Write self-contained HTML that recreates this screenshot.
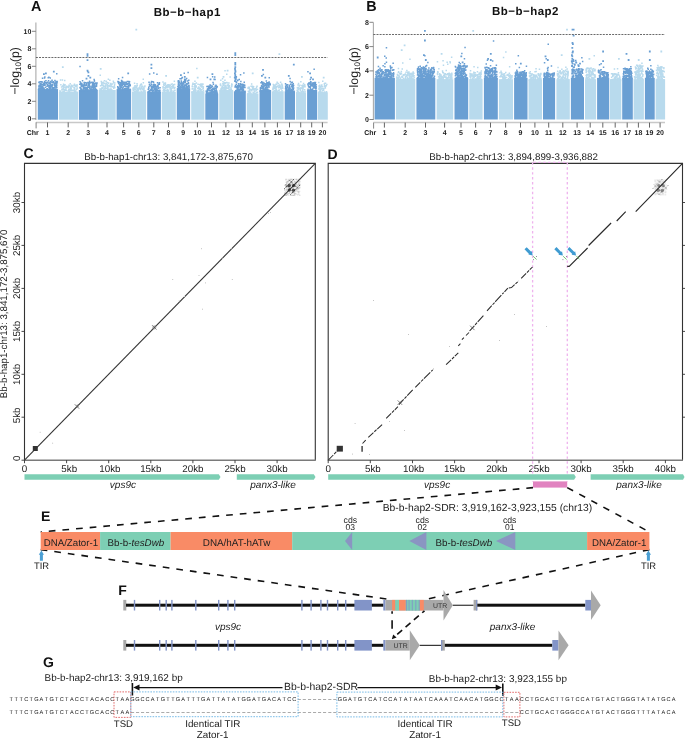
<!DOCTYPE html>
<html><head><meta charset="utf-8"><style>
html,body{margin:0;padding:0;background:#fff;}
svg{display:block;font-family:"Liberation Sans", sans-serif;will-change:transform;text-rendering:geometricPrecision;}
</style></head><body>
<svg width="685" height="739" viewBox="0 0 685 739"><rect x="37.8" y="89.1" width="20.2" height="30.6" fill="#6a9fd3"/><rect x="58.9" y="91.7" width="19.2" height="28" fill="#b8daed"/><rect x="78.9" y="90" width="18.9" height="29.8" fill="#6a9fd3"/><rect x="98.8" y="90" width="16.9" height="29.8" fill="#b8daed"/><rect x="116.6" y="89.1" width="14.5" height="30.6" fill="#6a9fd3"/><rect x="132" y="91.7" width="14.1" height="28" fill="#b8daed"/><rect x="147.2" y="91.7" width="13.7" height="28" fill="#6a9fd3"/><rect x="161.8" y="91.7" width="14" height="28" fill="#b8daed"/><rect x="176.8" y="88.2" width="13.3" height="31.5" fill="#6a9fd3"/><rect x="191.2" y="91.3" width="13.2" height="28.4" fill="#b8daed"/><rect x="205.3" y="93.5" width="12.9" height="26.2" fill="#6a9fd3"/><rect x="219.2" y="90" width="13.9" height="29.8" fill="#b8daed"/><rect x="233.9" y="91.3" width="11.9" height="28.4" fill="#6a9fd3"/><rect x="246.8" y="93.5" width="11.6" height="26.2" fill="#b8daed"/><rect x="259.5" y="90" width="11.6" height="29.8" fill="#6a9fd3"/><rect x="271.8" y="91.3" width="11.9" height="28.4" fill="#b8daed"/><rect x="284.7" y="91.3" width="10.3" height="28.4" fill="#6a9fd3"/><rect x="296" y="92.3" width="10" height="27.4" fill="#b8daed"/><rect x="307.1" y="90" width="10" height="29.8" fill="#6a9fd3"/><rect x="317.8" y="92.3" width="10" height="27.4" fill="#b8daed"/><path fill="#6a9fd3" d="M46.3 85.4h1.5v1.5h-1.5zM55 86.3h1.5v1.5h-1.5zM47.3 85.1h1.5v1.5h-1.5zM41.3 85.8h1.5v1.5h-1.5zM49.6 83h1.5v1.5h-1.5zM39.6 87.7h1.5v1.5h-1.5zM39.6 82.9h1.5v1.5h-1.5zM50.7 89.4h1.5v1.5h-1.5zM56.1 81.2h1.5v1.5h-1.5zM50 84.9h1.5v1.5h-1.5zM40.8 89.5h1.5v1.5h-1.5zM47.7 89.3h1.5v1.5h-1.5zM41.4 88.1h1.5v1.5h-1.5zM38.5 86.3h1.5v1.5h-1.5zM46 82.5h1.5v1.5h-1.5zM47.5 84.6h1.5v1.5h-1.5zM47.1 84.4h1.5v1.5h-1.5zM46.4 87.9h1.5v1.5h-1.5zM56.4 80.8h1.5v1.5h-1.5zM53.4 83.9h1.5v1.5h-1.5zM43.7 88.2h1.5v1.5h-1.5zM43.2 89.2h1.5v1.5h-1.5zM52.1 86.9h1.5v1.5h-1.5zM53.6 87h1.5v1.5h-1.5zM55.6 82.5h1.5v1.5h-1.5zM37.9 88.4h1.5v1.5h-1.5zM54.7 86.2h1.5v1.5h-1.5zM56 86.9h1.5v1.5h-1.5zM39.3 84.7h1.5v1.5h-1.5zM52.3 87.9h1.5v1.5h-1.5zM39.5 87.4h1.5v1.5h-1.5zM55.7 83.4h1.5v1.5h-1.5zM40.1 88.1h1.5v1.5h-1.5zM39.8 89.3h1.5v1.5h-1.5zM52.6 88.6h1.5v1.5h-1.5zM48.2 86.4h1.5v1.5h-1.5zM41.4 83.7h1.5v1.5h-1.5zM40.3 84.6h1.5v1.5h-1.5zM40.1 86.7h1.5v1.5h-1.5zM41.8 87.9h1.5v1.5h-1.5zM55.9 82.9h1.5v1.5h-1.5zM43.5 82h1.5v1.5h-1.5zM41.8 86.9h1.5v1.5h-1.5zM53.7 84.6h1.5v1.5h-1.5zM39.8 80.9h1.5v1.5h-1.5zM41.8 88h1.5v1.5h-1.5zM52.2 87.5h1.5v1.5h-1.5zM43.4 89.2h1.5v1.5h-1.5zM39.6 85.2h1.5v1.5h-1.5zM42.4 85h1.5v1.5h-1.5zM44.8 86.4h1.5v1.5h-1.5zM55.6 86.1h1.5v1.5h-1.5zM48.5 82.2h1.5v1.5h-1.5zM41.3 88.7h1.5v1.5h-1.5zM54.7 82.8h1.5v1.5h-1.5zM42.5 88.5h1.5v1.5h-1.5zM51.6 81.4h1.5v1.5h-1.5zM41.5 81.3h1.5v1.5h-1.5zM54.2 85h1.5v1.5h-1.5zM45.7 89.1h1.5v1.5h-1.5zM38.6 81.2h1.5v1.5h-1.5zM42.3 84h1.5v1.5h-1.5zM42.7 82.7h1.5v1.5h-1.5zM48.9 87.7h1.5v1.5h-1.5zM41.1 83.8h1.5v1.5h-1.5zM39.2 88.2h1.5v1.5h-1.5zM48.2 82.4h1.5v1.5h-1.5zM49.3 87.8h1.5v1.5h-1.5zM54.9 88.4h1.5v1.5h-1.5zM38.2 87.9h1.5v1.5h-1.5zM46.1 89.3h1.5v1.5h-1.5zM41.2 87.1h1.5v1.5h-1.5zM48.5 88.9h1.5v1.5h-1.5zM44.6 82h1.5v1.5h-1.5zM56 84.4h1.5v1.5h-1.5zM50.7 85.2h1.5v1.5h-1.5zM40.5 89.4h1.5v1.5h-1.5zM38.2 81.8h1.5v1.5h-1.5zM50.9 81.2h1.5v1.5h-1.5zM38.3 84.7h1.5v1.5h-1.5zM46.8 83.7h1.5v1.5h-1.5zM43.8 80.8h1.5v1.5h-1.5zM39.3 85.5h1.5v1.5h-1.5zM51.5 81.9h1.5v1.5h-1.5zM51.5 84h1.5v1.5h-1.5zM52.6 81.7h1.5v1.5h-1.5zM44.4 84.2h1.5v1.5h-1.5zM54.6 82.2h1.5v1.5h-1.5zM45.6 83.1h1.5v1.5h-1.5zM53.9 85.3h1.5v1.5h-1.5zM49.5 87h1.5v1.5h-1.5zM48.7 84.9h1.5v1.5h-1.5zM39.4 84.6h1.5v1.5h-1.5zM56.3 82.1h1.5v1.5h-1.5zM51.4 87h1.5v1.5h-1.5zM51.5 85.2h1.5v1.5h-1.5zM46 82.6h1.5v1.5h-1.5zM39.4 83.5h1.5v1.5h-1.5zM38.5 85h1.5v1.5h-1.5zM46.8 88.2h1.5v1.5h-1.5zM50.8 86h1.5v1.5h-1.5zM49.3 81.7h1.5v1.5h-1.5zM42.6 89.5h1.5v1.5h-1.5zM43.5 84.2h1.5v1.5h-1.5zM41.6 88.6h1.5v1.5h-1.5zM54.7 84.4h1.5v1.5h-1.5zM46.1 82h1.5v1.5h-1.5zM43.9 84.4h1.5v1.5h-1.5zM41.6 86.6h1.5v1.5h-1.5zM52.8 81.7h1.5v1.5h-1.5zM54.2 87h1.5v1.5h-1.5zM48.7 87.6h1.5v1.5h-1.5zM40.4 86h1.5v1.5h-1.5zM53.4 82.4h1.5v1.5h-1.5zM51.1 81.3h1.5v1.5h-1.5zM43 88.6h1.5v1.5h-1.5zM46.2 87.9h1.5v1.5h-1.5zM41.9 86.7h1.5v1.5h-1.5zM49.5 86h1.5v1.5h-1.5zM43.7 82.5h1.5v1.5h-1.5zM56.1 86.4h1.5v1.5h-1.5zM39.3 89.4h1.5v1.5h-1.5zM54 89.4h1.5v1.5h-1.5zM51 85.3h1.5v1.5h-1.5zM43.6 83.1h1.5v1.5h-1.5zM38.3 88.9h1.5v1.5h-1.5zM46.3 89.4h1.5v1.5h-1.5zM53.2 88.2h1.5v1.5h-1.5zM40.5 89.3h1.5v1.5h-1.5zM49.5 86.4h1.5v1.5h-1.5zM49.6 84.5h1.5v1.5h-1.5zM52.8 81.2h1.5v1.5h-1.5zM50.6 88.4h1.5v1.5h-1.5zM46.7 88.6h1.5v1.5h-1.5zM38.1 86.2h1.5v1.5h-1.5zM51.1 88.6h1.5v1.5h-1.5zM42.9 87.3h1.5v1.5h-1.5zM50.8 85.8h1.5v1.5h-1.5zM49.3 83.4h1.5v1.5h-1.5zM45.2 79.9h1.5v1.5h-1.5zM54.7 84.4h1.5v1.5h-1.5zM55.2 80.8h1.5v1.5h-1.5zM40.3 82.8h1.5v1.5h-1.5zM49.5 77.3h1.5v1.5h-1.5zM44.9 82.1h1.5v1.5h-1.5zM54.2 79.8h1.5v1.5h-1.5zM55.4 82.8h1.5v1.5h-1.5zM49.9 84h1.5v1.5h-1.5zM51.3 79.5h1.5v1.5h-1.5zM49.8 80.8h1.5v1.5h-1.5zM41.8 77.6h1.5v1.5h-1.5zM56 73.1h1.5v1.5h-1.5zM47.8 79.9h1.5v1.5h-1.5zM43.8 77.3h1.5v1.5h-1.5zM53.7 83.4h1.5v1.5h-1.5zM39.4 82.9h1.5v1.5h-1.5zM48.1 76.5h1.5v1.5h-1.5zM46.9 81.5h1.5v1.5h-1.5zM52.9 81.4h1.5v1.5h-1.5zM52.7 81h1.5v1.5h-1.5zM44.1 76.2h1.5v1.5h-1.5zM40.5 81.1h1.5v1.5h-1.5zM47.5 77.1h1.5v1.5h-1.5zM85.8 82.8h1.5v1.5h-1.5zM92 90.2h1.5v1.5h-1.5zM96.1 82.3h1.5v1.5h-1.5zM80.4 82.7h1.5v1.5h-1.5zM86.5 87h1.5v1.5h-1.5zM95.8 89h1.5v1.5h-1.5zM88.1 82.3h1.5v1.5h-1.5zM91.5 87.1h1.5v1.5h-1.5zM95.9 83.7h1.5v1.5h-1.5zM89.5 89.9h1.5v1.5h-1.5zM89.8 87.2h1.5v1.5h-1.5zM82.6 90.2h1.5v1.5h-1.5zM88.2 89.8h1.5v1.5h-1.5zM86.7 85.2h1.5v1.5h-1.5zM86.9 88.9h1.5v1.5h-1.5zM89.1 87.6h1.5v1.5h-1.5zM92.5 86.5h1.5v1.5h-1.5zM96.3 82.2h1.5v1.5h-1.5zM91.7 89h1.5v1.5h-1.5zM81.1 82.8h1.5v1.5h-1.5zM92.6 85.6h1.5v1.5h-1.5zM85.3 88.8h1.5v1.5h-1.5zM90.9 86.2h1.5v1.5h-1.5zM89.3 85.6h1.5v1.5h-1.5zM92.1 89.4h1.5v1.5h-1.5zM83.4 81.9h1.5v1.5h-1.5zM94.9 83h1.5v1.5h-1.5zM79.8 90.2h1.5v1.5h-1.5zM83.8 87.5h1.5v1.5h-1.5zM89.8 89.9h1.5v1.5h-1.5zM88.4 90.1h1.5v1.5h-1.5zM80.6 85.1h1.5v1.5h-1.5zM88.6 85.6h1.5v1.5h-1.5zM85.5 87h1.5v1.5h-1.5zM82.7 88.2h1.5v1.5h-1.5zM91.9 83.4h1.5v1.5h-1.5zM80.4 89.8h1.5v1.5h-1.5zM93 85.7h1.5v1.5h-1.5zM92.3 89.2h1.5v1.5h-1.5zM86.4 88.9h1.5v1.5h-1.5zM93 88h1.5v1.5h-1.5zM90.3 81.8h1.5v1.5h-1.5zM84.7 86.4h1.5v1.5h-1.5zM91.9 82.5h1.5v1.5h-1.5zM86.5 88h1.5v1.5h-1.5zM80.8 83h1.5v1.5h-1.5zM80.5 90h1.5v1.5h-1.5zM88.8 87h1.5v1.5h-1.5zM90.9 88.6h1.5v1.5h-1.5zM92.4 90.1h1.5v1.5h-1.5zM82.8 85.3h1.5v1.5h-1.5zM80.5 88.5h1.5v1.5h-1.5zM91.6 84.9h1.5v1.5h-1.5zM84 89.7h1.5v1.5h-1.5zM85.3 84.6h1.5v1.5h-1.5zM85.4 89.8h1.5v1.5h-1.5zM91.3 86.2h1.5v1.5h-1.5zM94.9 82.3h1.5v1.5h-1.5zM94.8 87.4h1.5v1.5h-1.5zM92.9 88.5h1.5v1.5h-1.5zM84.6 87.7h1.5v1.5h-1.5zM95.2 82.8h1.5v1.5h-1.5zM83.4 88.1h1.5v1.5h-1.5zM85.4 88h1.5v1.5h-1.5zM85.9 87.8h1.5v1.5h-1.5zM82.5 86.2h1.5v1.5h-1.5zM92.8 86.5h1.5v1.5h-1.5zM93.5 86.2h1.5v1.5h-1.5zM82.1 84.3h1.5v1.5h-1.5zM94.3 88.7h1.5v1.5h-1.5zM79.5 86.7h1.5v1.5h-1.5zM88.5 86.2h1.5v1.5h-1.5zM95.7 85.4h1.5v1.5h-1.5zM92.9 90.1h1.5v1.5h-1.5zM88.5 84h1.5v1.5h-1.5zM80.5 90.1h1.5v1.5h-1.5zM91.8 82.8h1.5v1.5h-1.5zM80.6 85.5h1.5v1.5h-1.5zM81.6 84.4h1.5v1.5h-1.5zM90.3 89h1.5v1.5h-1.5zM82.9 84.2h1.5v1.5h-1.5zM88.1 84.2h1.5v1.5h-1.5zM85.9 88.3h1.5v1.5h-1.5zM95.8 85.2h1.5v1.5h-1.5zM87.6 86.5h1.5v1.5h-1.5zM91.5 84.8h1.5v1.5h-1.5zM94.8 87.6h1.5v1.5h-1.5zM93.3 85.2h1.5v1.5h-1.5zM93.8 83.8h1.5v1.5h-1.5zM93.4 82.9h1.5v1.5h-1.5zM95.6 85.5h1.5v1.5h-1.5zM88.1 84.8h1.5v1.5h-1.5zM92.9 87.5h1.5v1.5h-1.5zM86.3 89.7h1.5v1.5h-1.5zM91.8 81.7h1.5v1.5h-1.5zM85.6 89.5h1.5v1.5h-1.5zM82.6 87.5h1.5v1.5h-1.5zM84.1 82h1.5v1.5h-1.5zM80.1 88.5h1.5v1.5h-1.5zM81.1 85.4h1.5v1.5h-1.5zM92.4 89.4h1.5v1.5h-1.5zM80.2 87.2h1.5v1.5h-1.5zM89.1 82.7h1.5v1.5h-1.5zM79.7 89.9h1.5v1.5h-1.5zM82.3 89.2h1.5v1.5h-1.5zM83.1 84.7h1.5v1.5h-1.5zM89.3 89.1h1.5v1.5h-1.5zM82.3 88.7h1.5v1.5h-1.5zM82.1 84.3h1.5v1.5h-1.5zM84.5 86.4h1.5v1.5h-1.5zM93.2 87h1.5v1.5h-1.5zM83.6 82.9h1.5v1.5h-1.5zM94.8 88.2h1.5v1.5h-1.5zM88.5 82.1h1.5v1.5h-1.5zM87.4 89.2h1.5v1.5h-1.5zM80 82.2h1.5v1.5h-1.5zM92.9 87.9h1.5v1.5h-1.5zM88.2 86.7h1.5v1.5h-1.5zM83.8 81.7h1.5v1.5h-1.5zM90.4 89h1.5v1.5h-1.5zM79.3 87.1h1.5v1.5h-1.5zM85.5 83.9h1.5v1.5h-1.5zM91.4 85.8h1.5v1.5h-1.5zM81.8 89.6h1.5v1.5h-1.5zM84.6 88.9h1.5v1.5h-1.5zM94.1 86.7h1.5v1.5h-1.5zM90.1 81.7h1.5v1.5h-1.5zM83.7 86.5h1.5v1.5h-1.5zM81.7 84.2h1.5v1.5h-1.5zM79.1 83.6h1.5v1.5h-1.5zM93.7 80.3h1.5v1.5h-1.5zM80.5 84.6h1.5v1.5h-1.5zM91.4 85.3h1.5v1.5h-1.5zM87.4 83.6h1.5v1.5h-1.5zM95.5 82.9h1.5v1.5h-1.5zM93.8 84.5h1.5v1.5h-1.5zM92.7 83.9h1.5v1.5h-1.5zM94.9 85.3h1.5v1.5h-1.5zM93.3 84.9h1.5v1.5h-1.5zM88.4 83.3h1.5v1.5h-1.5zM81.8 80.1h1.5v1.5h-1.5zM84.5 84.4h1.5v1.5h-1.5zM80.4 84.5h1.5v1.5h-1.5zM87.1 81.7h1.5v1.5h-1.5zM85.3 82h1.5v1.5h-1.5zM80.9 84h1.5v1.5h-1.5zM87 70.6h1.5v1.5h-1.5zM93.4 78.8h1.5v1.5h-1.5zM79.3 80.9h1.5v1.5h-1.5zM91.3 81.6h1.5v1.5h-1.5zM88.8 80.4h1.5v1.5h-1.5zM79.3 65.8h1.5v1.5h-1.5zM92.9 81.7h1.5v1.5h-1.5zM128.8 81h1.5v1.5h-1.5zM122.8 88.4h1.5v1.5h-1.5zM120.6 81.6h1.5v1.5h-1.5zM128.3 88.5h1.5v1.5h-1.5zM127.5 87.2h1.5v1.5h-1.5zM122.8 88.6h1.5v1.5h-1.5zM128.1 80.8h1.5v1.5h-1.5zM119.4 84.7h1.5v1.5h-1.5zM119.3 82.1h1.5v1.5h-1.5zM117.4 89h1.5v1.5h-1.5zM126.1 87.6h1.5v1.5h-1.5zM128.3 82.2h1.5v1.5h-1.5zM125.9 88.9h1.5v1.5h-1.5zM125.7 81.5h1.5v1.5h-1.5zM122.5 89.2h1.5v1.5h-1.5zM119.7 87.6h1.5v1.5h-1.5zM125.9 88.5h1.5v1.5h-1.5zM119.1 88.2h1.5v1.5h-1.5zM125.3 83.1h1.5v1.5h-1.5zM121.6 84.4h1.5v1.5h-1.5zM128.1 85.1h1.5v1.5h-1.5zM119.7 87.7h1.5v1.5h-1.5zM128.7 84.3h1.5v1.5h-1.5zM120.3 84.6h1.5v1.5h-1.5zM118 81h1.5v1.5h-1.5zM122.4 85.7h1.5v1.5h-1.5zM123.6 89.4h1.5v1.5h-1.5zM124.5 87.8h1.5v1.5h-1.5zM120 82.9h1.5v1.5h-1.5zM117.9 87.8h1.5v1.5h-1.5zM126.5 88.1h1.5v1.5h-1.5zM120.4 85.5h1.5v1.5h-1.5zM119.2 81.9h1.5v1.5h-1.5zM129.4 89.4h1.5v1.5h-1.5zM122.7 83.5h1.5v1.5h-1.5zM121.7 81.6h1.5v1.5h-1.5zM123.2 88.6h1.5v1.5h-1.5zM123.9 84.6h1.5v1.5h-1.5zM121.4 84.4h1.5v1.5h-1.5zM126.8 85.8h1.5v1.5h-1.5zM123.3 82.5h1.5v1.5h-1.5zM125.6 85.8h1.5v1.5h-1.5zM129 88.6h1.5v1.5h-1.5zM126.8 88.7h1.5v1.5h-1.5zM124.6 88.2h1.5v1.5h-1.5zM122.4 83.3h1.5v1.5h-1.5zM126.9 83.1h1.5v1.5h-1.5zM119.8 86.1h1.5v1.5h-1.5zM119.6 85.2h1.5v1.5h-1.5zM123.2 89.4h1.5v1.5h-1.5zM124.4 83.9h1.5v1.5h-1.5zM124.1 82.2h1.5v1.5h-1.5zM119.1 88.8h1.5v1.5h-1.5zM117 86h1.5v1.5h-1.5zM122.4 86.5h1.5v1.5h-1.5zM120.2 83h1.5v1.5h-1.5zM117.7 81.8h1.5v1.5h-1.5zM124.1 85.6h1.5v1.5h-1.5zM126.9 88.2h1.5v1.5h-1.5zM118.7 87.6h1.5v1.5h-1.5zM117.3 87.6h1.5v1.5h-1.5zM124.8 85.7h1.5v1.5h-1.5zM120.2 85.1h1.5v1.5h-1.5zM117.9 82.7h1.5v1.5h-1.5zM119 88h1.5v1.5h-1.5zM118.8 84.1h1.5v1.5h-1.5zM127.4 83.1h1.5v1.5h-1.5zM117.6 86.8h1.5v1.5h-1.5zM121.5 88.3h1.5v1.5h-1.5zM129.2 89.4h1.5v1.5h-1.5zM123.1 83.4h1.5v1.5h-1.5zM129.4 88.8h1.5v1.5h-1.5zM122.6 83.5h1.5v1.5h-1.5zM117.3 88.1h1.5v1.5h-1.5zM128.2 88.8h1.5v1.5h-1.5zM121.8 87.7h1.5v1.5h-1.5zM122.2 89.2h1.5v1.5h-1.5zM117.2 80.8h1.5v1.5h-1.5zM126.6 83.7h1.5v1.5h-1.5zM119.7 88h1.5v1.5h-1.5zM123.9 88.1h1.5v1.5h-1.5zM122.7 81.5h1.5v1.5h-1.5zM121.5 87.4h1.5v1.5h-1.5zM129.4 84.9h1.5v1.5h-1.5zM117.3 86.8h1.5v1.5h-1.5zM125.1 89.3h1.5v1.5h-1.5zM121.2 84.1h1.5v1.5h-1.5zM127.9 85.1h1.5v1.5h-1.5zM128.1 86.3h1.5v1.5h-1.5zM121.8 82.5h1.5v1.5h-1.5zM121.7 83.2h1.5v1.5h-1.5zM119.6 87.3h1.5v1.5h-1.5zM119.2 85.5h1.5v1.5h-1.5zM118.9 88.4h1.5v1.5h-1.5zM119.5 86.3h1.5v1.5h-1.5zM120.7 86.4h1.5v1.5h-1.5zM129.5 84.2h1.5v1.5h-1.5zM127.8 88.4h1.5v1.5h-1.5zM121.7 89.2h1.5v1.5h-1.5zM125.6 83.3h1.5v1.5h-1.5zM120.3 84.6h1.5v1.5h-1.5zM119.1 83.8h1.5v1.5h-1.5zM121.8 76.8h1.5v1.5h-1.5zM126 83.7h1.5v1.5h-1.5zM121.4 84.2h1.5v1.5h-1.5zM128.8 83.3h1.5v1.5h-1.5zM126.6 80.8h1.5v1.5h-1.5zM128.4 84.6h1.5v1.5h-1.5zM120.9 83.2h1.5v1.5h-1.5zM117.9 78.1h1.5v1.5h-1.5zM121 80.2h1.5v1.5h-1.5zM123.4 81.4h1.5v1.5h-1.5zM121.8 80.7h1.5v1.5h-1.5zM117.3 81.1h1.5v1.5h-1.5zM124.4 81.5h1.5v1.5h-1.5zM120.8 79.7h1.5v1.5h-1.5zM149.6 92.1h1.5v1.5h-1.5zM154.4 84.1h1.5v1.5h-1.5zM159 91.5h1.5v1.5h-1.5zM155.7 89.3h1.5v1.5h-1.5zM155 89.5h1.5v1.5h-1.5zM158.6 83.5h1.5v1.5h-1.5zM148 86.5h1.5v1.5h-1.5zM148.8 92h1.5v1.5h-1.5zM150.8 86.3h1.5v1.5h-1.5zM159.3 91.6h1.5v1.5h-1.5zM151.4 92.1h1.5v1.5h-1.5zM153.9 88.7h1.5v1.5h-1.5zM151.9 90.2h1.5v1.5h-1.5zM157 85.2h1.5v1.5h-1.5zM150.8 89.6h1.5v1.5h-1.5zM154.8 86h1.5v1.5h-1.5zM159.2 89.6h1.5v1.5h-1.5zM155.7 88.2h1.5v1.5h-1.5zM157 91.4h1.5v1.5h-1.5zM149.5 91.7h1.5v1.5h-1.5zM158.6 90.7h1.5v1.5h-1.5zM153.3 91.6h1.5v1.5h-1.5zM151.3 92.1h1.5v1.5h-1.5zM154.2 91.4h1.5v1.5h-1.5zM154.9 90.5h1.5v1.5h-1.5zM150.1 88.7h1.5v1.5h-1.5zM151.8 90.6h1.5v1.5h-1.5zM148 91.9h1.5v1.5h-1.5zM158.1 90.2h1.5v1.5h-1.5zM148.3 91.2h1.5v1.5h-1.5zM153.2 83.4h1.5v1.5h-1.5zM149.8 84.9h1.5v1.5h-1.5zM153.2 89.4h1.5v1.5h-1.5zM157.1 89.5h1.5v1.5h-1.5zM148.1 88.1h1.5v1.5h-1.5zM155.3 87.4h1.5v1.5h-1.5zM150.7 84.1h1.5v1.5h-1.5zM157.8 83.5h1.5v1.5h-1.5zM152.7 85.2h1.5v1.5h-1.5zM156.1 91.2h1.5v1.5h-1.5zM147.7 91.3h1.5v1.5h-1.5zM148.8 91.8h1.5v1.5h-1.5zM151.7 86.1h1.5v1.5h-1.5zM151.1 88.5h1.5v1.5h-1.5zM147.5 91h1.5v1.5h-1.5zM158.9 92.1h1.5v1.5h-1.5zM153.7 85.5h1.5v1.5h-1.5zM156.9 86.3h1.5v1.5h-1.5zM152.2 85.6h1.5v1.5h-1.5zM157.3 85.9h1.5v1.5h-1.5zM159.2 91.7h1.5v1.5h-1.5zM158.8 89.5h1.5v1.5h-1.5zM155.9 90.7h1.5v1.5h-1.5zM158.3 92.1h1.5v1.5h-1.5zM154.3 90.9h1.5v1.5h-1.5zM152.1 89.7h1.5v1.5h-1.5zM155.3 85.5h1.5v1.5h-1.5zM151.8 87.3h1.5v1.5h-1.5zM151.6 90.5h1.5v1.5h-1.5zM158.3 90.1h1.5v1.5h-1.5zM148.5 90h1.5v1.5h-1.5zM156.3 91h1.5v1.5h-1.5zM156.3 88.2h1.5v1.5h-1.5zM155.6 91.2h1.5v1.5h-1.5zM148.7 91.4h1.5v1.5h-1.5zM151.6 89.2h1.5v1.5h-1.5zM147.5 88.6h1.5v1.5h-1.5zM152.2 90.1h1.5v1.5h-1.5zM153.8 83.9h1.5v1.5h-1.5zM149.9 84.7h1.5v1.5h-1.5zM151.3 86.1h1.5v1.5h-1.5zM148.7 83.5h1.5v1.5h-1.5zM152.6 83.8h1.5v1.5h-1.5zM150 89.4h1.5v1.5h-1.5zM155.9 91.2h1.5v1.5h-1.5zM150.7 86.9h1.5v1.5h-1.5zM158.8 90.1h1.5v1.5h-1.5zM149.6 89.8h1.5v1.5h-1.5zM159.3 91.4h1.5v1.5h-1.5zM155 89.7h1.5v1.5h-1.5zM155.1 91h1.5v1.5h-1.5zM154.8 84.6h1.5v1.5h-1.5zM157.7 87.4h1.5v1.5h-1.5zM153.5 87.9h1.5v1.5h-1.5zM148.8 85.2h1.5v1.5h-1.5zM155.7 89h1.5v1.5h-1.5zM155.4 89.3h1.5v1.5h-1.5zM152 90.8h1.5v1.5h-1.5zM154.6 87.9h1.5v1.5h-1.5zM153.6 92h1.5v1.5h-1.5zM154.9 89.1h1.5v1.5h-1.5zM154.5 87.7h1.5v1.5h-1.5zM158.6 91.4h1.5v1.5h-1.5zM153 72.2h1.5v1.5h-1.5zM156.3 86.2h1.5v1.5h-1.5zM156.2 73.4h1.5v1.5h-1.5zM152.2 81.1h1.5v1.5h-1.5zM148.9 73.2h1.5v1.5h-1.5zM153.3 86.5h1.5v1.5h-1.5zM157.5 84.1h1.5v1.5h-1.5zM158.7 81.9h1.5v1.5h-1.5zM157 85.1h1.5v1.5h-1.5zM159.3 87.1h1.5v1.5h-1.5zM157.8 83.5h1.5v1.5h-1.5zM150.4 82.3h1.5v1.5h-1.5zM152.8 81.6h1.5v1.5h-1.5zM157.8 83.5h1.5v1.5h-1.5zM150.8 80.7h1.5v1.5h-1.5zM148.3 81.4h1.5v1.5h-1.5zM156.8 81.9h1.5v1.5h-1.5zM183.5 85.5h1.5v1.5h-1.5zM186.9 88.2h1.5v1.5h-1.5zM186.9 87.9h1.5v1.5h-1.5zM188.3 84.9h1.5v1.5h-1.5zM181.7 84h1.5v1.5h-1.5zM187 80.3h1.5v1.5h-1.5zM181.8 88.6h1.5v1.5h-1.5zM178.8 81.9h1.5v1.5h-1.5zM185.5 83h1.5v1.5h-1.5zM178.8 84.8h1.5v1.5h-1.5zM177.3 88.1h1.5v1.5h-1.5zM180.5 80.3h1.5v1.5h-1.5zM184.5 81.6h1.5v1.5h-1.5zM177.5 85.8h1.5v1.5h-1.5zM177.9 87.1h1.5v1.5h-1.5zM178.3 80.8h1.5v1.5h-1.5zM180.8 85.2h1.5v1.5h-1.5zM184.6 81.2h1.5v1.5h-1.5zM188 84.4h1.5v1.5h-1.5zM182.8 81h1.5v1.5h-1.5zM181.6 86.8h1.5v1.5h-1.5zM185.6 87.1h1.5v1.5h-1.5zM181.3 85.7h1.5v1.5h-1.5zM182.5 86.3h1.5v1.5h-1.5zM182 85.5h1.5v1.5h-1.5zM177.6 81.7h1.5v1.5h-1.5zM177.7 84.8h1.5v1.5h-1.5zM183.4 86h1.5v1.5h-1.5zM179.6 88.2h1.5v1.5h-1.5zM181.3 86.7h1.5v1.5h-1.5zM182.6 87.3h1.5v1.5h-1.5zM185.7 85.2h1.5v1.5h-1.5zM177.1 85.9h1.5v1.5h-1.5zM188.2 88.6h1.5v1.5h-1.5zM183.9 80.3h1.5v1.5h-1.5zM181.2 84.2h1.5v1.5h-1.5zM181.3 86.8h1.5v1.5h-1.5zM184.1 84.2h1.5v1.5h-1.5zM180.7 85.1h1.5v1.5h-1.5zM183 82.6h1.5v1.5h-1.5zM177.6 88.2h1.5v1.5h-1.5zM179.9 87h1.5v1.5h-1.5zM186.2 85.8h1.5v1.5h-1.5zM187 86h1.5v1.5h-1.5zM180.3 83.3h1.5v1.5h-1.5zM178 80.1h1.5v1.5h-1.5zM186.6 86.6h1.5v1.5h-1.5zM180.7 81.9h1.5v1.5h-1.5zM186.1 83.7h1.5v1.5h-1.5zM177.7 82.5h1.5v1.5h-1.5zM177.6 83.9h1.5v1.5h-1.5zM183.4 80.7h1.5v1.5h-1.5zM184.4 88.6h1.5v1.5h-1.5zM187.8 82.6h1.5v1.5h-1.5zM183.7 88.6h1.5v1.5h-1.5zM185.5 85.8h1.5v1.5h-1.5zM184.9 80.1h1.5v1.5h-1.5zM187.6 88.3h1.5v1.5h-1.5zM186.1 85.6h1.5v1.5h-1.5zM185.7 86.2h1.5v1.5h-1.5zM182.2 85.7h1.5v1.5h-1.5zM178.4 86.6h1.5v1.5h-1.5zM185.5 88.4h1.5v1.5h-1.5zM178.3 81.7h1.5v1.5h-1.5zM184.7 84.6h1.5v1.5h-1.5zM178.3 88.1h1.5v1.5h-1.5zM180.6 80.4h1.5v1.5h-1.5zM183.5 80.8h1.5v1.5h-1.5zM179.4 85.8h1.5v1.5h-1.5zM183.2 81.7h1.5v1.5h-1.5zM178.4 81.3h1.5v1.5h-1.5zM182.5 88.5h1.5v1.5h-1.5zM182 86.2h1.5v1.5h-1.5zM184.8 80.7h1.5v1.5h-1.5zM182.7 83.2h1.5v1.5h-1.5zM181.5 82.3h1.5v1.5h-1.5zM178.2 82.7h1.5v1.5h-1.5zM178.9 84.3h1.5v1.5h-1.5zM179.3 86.4h1.5v1.5h-1.5zM178.9 86.4h1.5v1.5h-1.5zM183.9 84.9h1.5v1.5h-1.5zM181.5 84.4h1.5v1.5h-1.5zM186.8 86.3h1.5v1.5h-1.5zM183.8 85.3h1.5v1.5h-1.5zM188.4 86.6h1.5v1.5h-1.5zM185.1 87.3h1.5v1.5h-1.5zM180 82.8h1.5v1.5h-1.5zM183.7 87.1h1.5v1.5h-1.5zM177.7 81.8h1.5v1.5h-1.5zM181.4 83h1.5v1.5h-1.5zM182 84h1.5v1.5h-1.5zM183.5 72.4h1.5v1.5h-1.5zM187.6 82h1.5v1.5h-1.5zM182.6 83h1.5v1.5h-1.5zM185.7 83.5h1.5v1.5h-1.5zM180.6 78.1h1.5v1.5h-1.5zM177.4 80.2h1.5v1.5h-1.5zM183.6 81.4h1.5v1.5h-1.5zM180.9 83.3h1.5v1.5h-1.5zM188 79.4h1.5v1.5h-1.5zM186.3 83.5h1.5v1.5h-1.5zM186.1 83.1h1.5v1.5h-1.5zM179.3 78.1h1.5v1.5h-1.5zM184.1 80.3h1.5v1.5h-1.5zM185.9 77.7h1.5v1.5h-1.5zM187.4 71.7h1.5v1.5h-1.5zM185 79.2h1.5v1.5h-1.5zM215.7 85.2h1.5v1.5h-1.5zM209.8 93.2h1.5v1.5h-1.5zM214.3 87.5h1.5v1.5h-1.5zM209.3 87.4h1.5v1.5h-1.5zM209.8 92.2h1.5v1.5h-1.5zM212.1 88h1.5v1.5h-1.5zM210.8 87.1h1.5v1.5h-1.5zM205.7 90.3h1.5v1.5h-1.5zM209.8 93.6h1.5v1.5h-1.5zM215.7 93.2h1.5v1.5h-1.5zM207.8 86.5h1.5v1.5h-1.5zM216.3 85.9h1.5v1.5h-1.5zM209.3 85.9h1.5v1.5h-1.5zM207.1 88.2h1.5v1.5h-1.5zM216.1 92.9h1.5v1.5h-1.5zM207 88.6h1.5v1.5h-1.5zM215.4 88.1h1.5v1.5h-1.5zM216.1 90.8h1.5v1.5h-1.5zM209.7 93.3h1.5v1.5h-1.5zM208.6 85.8h1.5v1.5h-1.5zM206.3 92.9h1.5v1.5h-1.5zM209.4 93.7h1.5v1.5h-1.5zM208.9 92.9h1.5v1.5h-1.5zM206.9 90.1h1.5v1.5h-1.5zM211.6 89.7h1.5v1.5h-1.5zM214 90.1h1.5v1.5h-1.5zM216.1 93.6h1.5v1.5h-1.5zM208 93.6h1.5v1.5h-1.5zM209 87.8h1.5v1.5h-1.5zM215.9 90.3h1.5v1.5h-1.5zM207.3 91.8h1.5v1.5h-1.5zM211.9 92.1h1.5v1.5h-1.5zM214.4 85.4h1.5v1.5h-1.5zM210.6 89.4h1.5v1.5h-1.5zM215 90.7h1.5v1.5h-1.5zM207.6 85.8h1.5v1.5h-1.5zM216.5 93.8h1.5v1.5h-1.5zM214 91.2h1.5v1.5h-1.5zM206.1 93.1h1.5v1.5h-1.5zM207.4 88h1.5v1.5h-1.5zM207.9 93.8h1.5v1.5h-1.5zM208 87.3h1.5v1.5h-1.5zM211.1 88.9h1.5v1.5h-1.5zM210.7 92.9h1.5v1.5h-1.5zM205.7 92h1.5v1.5h-1.5zM206 92.4h1.5v1.5h-1.5zM212.4 91.5h1.5v1.5h-1.5zM210.8 89.1h1.5v1.5h-1.5zM209.1 91.6h1.5v1.5h-1.5zM215.4 89.6h1.5v1.5h-1.5zM210.2 90h1.5v1.5h-1.5zM210.7 91.8h1.5v1.5h-1.5zM215.7 92.6h1.5v1.5h-1.5zM216 86.8h1.5v1.5h-1.5zM215.4 93.1h1.5v1.5h-1.5zM211.2 85.3h1.5v1.5h-1.5zM208.7 93h1.5v1.5h-1.5zM213.6 92.6h1.5v1.5h-1.5zM212 93.1h1.5v1.5h-1.5zM216.1 92.2h1.5v1.5h-1.5zM206.6 88.5h1.5v1.5h-1.5zM209.4 89.8h1.5v1.5h-1.5zM211.1 86h1.5v1.5h-1.5zM211.3 91.4h1.5v1.5h-1.5zM205.5 90.4h1.5v1.5h-1.5zM208.5 89.6h1.5v1.5h-1.5zM212.6 90.7h1.5v1.5h-1.5zM206.5 90.4h1.5v1.5h-1.5zM210.9 89h1.5v1.5h-1.5zM216.4 92.2h1.5v1.5h-1.5zM210.5 93.5h1.5v1.5h-1.5zM214.5 92.6h1.5v1.5h-1.5zM214.8 87.4h1.5v1.5h-1.5zM208.4 86.2h1.5v1.5h-1.5zM211.1 91h1.5v1.5h-1.5zM211.7 85.7h1.5v1.5h-1.5zM211 90.5h1.5v1.5h-1.5zM208.8 86.9h1.5v1.5h-1.5zM211.1 91.7h1.5v1.5h-1.5zM207.7 92.7h1.5v1.5h-1.5zM214.8 87.3h1.5v1.5h-1.5zM216.5 86.1h1.5v1.5h-1.5zM213.2 87.4h1.5v1.5h-1.5zM213.5 87.2h1.5v1.5h-1.5zM214.5 93h1.5v1.5h-1.5zM214.6 92h1.5v1.5h-1.5zM208.2 86h1.5v1.5h-1.5zM205.8 90.2h1.5v1.5h-1.5zM209.3 84.3h1.5v1.5h-1.5zM212.3 81.7h1.5v1.5h-1.5zM215.9 85.9h1.5v1.5h-1.5zM206.2 85.7h1.5v1.5h-1.5zM206.7 76.7h1.5v1.5h-1.5zM215.3 87.9h1.5v1.5h-1.5zM207.6 85.4h1.5v1.5h-1.5zM214 76.2h1.5v1.5h-1.5zM212.5 88.7h1.5v1.5h-1.5zM213.6 88.9h1.5v1.5h-1.5zM215.2 84.6h1.5v1.5h-1.5zM214.3 78.8h1.5v1.5h-1.5zM211.9 76h1.5v1.5h-1.5zM212.7 83.6h1.5v1.5h-1.5zM209.8 84.5h1.5v1.5h-1.5zM241.4 85.6h1.5v1.5h-1.5zM241.7 87.4h1.5v1.5h-1.5zM236.7 86.1h1.5v1.5h-1.5zM239.8 87.7h1.5v1.5h-1.5zM244.2 91h1.5v1.5h-1.5zM242.1 89.7h1.5v1.5h-1.5zM241.5 83.5h1.5v1.5h-1.5zM236.9 87.5h1.5v1.5h-1.5zM239.5 88.2h1.5v1.5h-1.5zM235.8 86.9h1.5v1.5h-1.5zM243.2 86.6h1.5v1.5h-1.5zM237 85.1h1.5v1.5h-1.5zM238.4 91h1.5v1.5h-1.5zM240.3 88.5h1.5v1.5h-1.5zM239.5 83.1h1.5v1.5h-1.5zM239.9 83.5h1.5v1.5h-1.5zM237.7 85.6h1.5v1.5h-1.5zM234.9 89.9h1.5v1.5h-1.5zM241.2 86.3h1.5v1.5h-1.5zM242.5 89.2h1.5v1.5h-1.5zM236.9 89.4h1.5v1.5h-1.5zM239.6 91.6h1.5v1.5h-1.5zM237.9 86.6h1.5v1.5h-1.5zM235.6 89.8h1.5v1.5h-1.5zM243 83.7h1.5v1.5h-1.5zM236.6 90.8h1.5v1.5h-1.5zM235.3 91.3h1.5v1.5h-1.5zM242.2 85.8h1.5v1.5h-1.5zM236.8 88.2h1.5v1.5h-1.5zM241.2 91.6h1.5v1.5h-1.5zM242.5 84.5h1.5v1.5h-1.5zM236.3 86.2h1.5v1.5h-1.5zM241.2 89.6h1.5v1.5h-1.5zM243.1 90.5h1.5v1.5h-1.5zM238.9 89.8h1.5v1.5h-1.5zM238.6 85h1.5v1.5h-1.5zM239.9 87.1h1.5v1.5h-1.5zM244.2 90.5h1.5v1.5h-1.5zM236.4 87h1.5v1.5h-1.5zM235.6 83.4h1.5v1.5h-1.5zM237.6 88.7h1.5v1.5h-1.5zM238.5 84.9h1.5v1.5h-1.5zM243.4 86.4h1.5v1.5h-1.5zM235.8 89.4h1.5v1.5h-1.5zM241.3 90.5h1.5v1.5h-1.5zM243.1 84.4h1.5v1.5h-1.5zM236.4 89.3h1.5v1.5h-1.5zM236.4 86h1.5v1.5h-1.5zM234.6 86.2h1.5v1.5h-1.5zM234.7 84.7h1.5v1.5h-1.5zM239.6 87.4h1.5v1.5h-1.5zM235.1 91.5h1.5v1.5h-1.5zM237.7 83.1h1.5v1.5h-1.5zM240.2 84.5h1.5v1.5h-1.5zM234.7 91.3h1.5v1.5h-1.5zM234.3 86.2h1.5v1.5h-1.5zM235.9 90.1h1.5v1.5h-1.5zM240.9 86.2h1.5v1.5h-1.5zM237.4 88.4h1.5v1.5h-1.5zM237 87.6h1.5v1.5h-1.5zM237.7 89.4h1.5v1.5h-1.5zM236.6 89.9h1.5v1.5h-1.5zM236.8 91.7h1.5v1.5h-1.5zM237.3 87.3h1.5v1.5h-1.5zM236.8 91.2h1.5v1.5h-1.5zM242.7 88.4h1.5v1.5h-1.5zM239.3 89.8h1.5v1.5h-1.5zM243.1 85.6h1.5v1.5h-1.5zM240.5 86.6h1.5v1.5h-1.5zM241.2 88.1h1.5v1.5h-1.5zM238.3 89.1h1.5v1.5h-1.5zM239.2 88.4h1.5v1.5h-1.5zM239.5 87.8h1.5v1.5h-1.5zM242.1 84.2h1.5v1.5h-1.5zM236.4 91.6h1.5v1.5h-1.5zM237.2 91.6h1.5v1.5h-1.5zM242.2 87h1.5v1.5h-1.5zM237 90.7h1.5v1.5h-1.5zM243 84.8h1.5v1.5h-1.5zM241.1 86.3h1.5v1.5h-1.5zM241.7 88.6h1.5v1.5h-1.5zM238.2 84.4h1.5v1.5h-1.5zM243.1 72.3h1.5v1.5h-1.5zM243.5 81.4h1.5v1.5h-1.5zM234.9 86h1.5v1.5h-1.5zM244 84.5h1.5v1.5h-1.5zM239.4 85.8h1.5v1.5h-1.5zM242.9 84.7h1.5v1.5h-1.5zM244.2 86.6h1.5v1.5h-1.5zM244.2 86.8h1.5v1.5h-1.5zM235.6 85.4h1.5v1.5h-1.5zM240.6 83.4h1.5v1.5h-1.5zM239.8 74h1.5v1.5h-1.5zM238.5 78.8h1.5v1.5h-1.5zM240.1 80.8h1.5v1.5h-1.5zM263.4 84.8h1.5v1.5h-1.5zM263.3 84.8h1.5v1.5h-1.5zM268.6 90.3h1.5v1.5h-1.5zM262.4 88.6h1.5v1.5h-1.5zM267 84h1.5v1.5h-1.5zM266.5 82.5h1.5v1.5h-1.5zM261.4 87.8h1.5v1.5h-1.5zM268 84.2h1.5v1.5h-1.5zM260.7 81.9h1.5v1.5h-1.5zM266.9 83.1h1.5v1.5h-1.5zM263.2 85.8h1.5v1.5h-1.5zM269.1 82.8h1.5v1.5h-1.5zM265.3 82.9h1.5v1.5h-1.5zM269.5 83.4h1.5v1.5h-1.5zM266.1 82.1h1.5v1.5h-1.5zM261 87.7h1.5v1.5h-1.5zM265.2 89.8h1.5v1.5h-1.5zM267.3 90.2h1.5v1.5h-1.5zM265.8 88.7h1.5v1.5h-1.5zM262.8 85.8h1.5v1.5h-1.5zM261.5 87.3h1.5v1.5h-1.5zM268.1 81.8h1.5v1.5h-1.5zM262.2 88h1.5v1.5h-1.5zM266.5 89.4h1.5v1.5h-1.5zM268 89.3h1.5v1.5h-1.5zM265.1 88.2h1.5v1.5h-1.5zM259.6 90.4h1.5v1.5h-1.5zM259.6 88.3h1.5v1.5h-1.5zM262.3 81.7h1.5v1.5h-1.5zM265.9 90.1h1.5v1.5h-1.5zM266.7 89.1h1.5v1.5h-1.5zM264.4 84.7h1.5v1.5h-1.5zM268.1 82.4h1.5v1.5h-1.5zM263.8 88.4h1.5v1.5h-1.5zM263.5 88.5h1.5v1.5h-1.5zM266.9 87.2h1.5v1.5h-1.5zM266.4 89.6h1.5v1.5h-1.5zM267.3 82h1.5v1.5h-1.5zM261.6 85.7h1.5v1.5h-1.5zM261.2 90.3h1.5v1.5h-1.5zM263.7 89.4h1.5v1.5h-1.5zM266.8 86.2h1.5v1.5h-1.5zM266.3 82h1.5v1.5h-1.5zM260.2 90h1.5v1.5h-1.5zM260 87.2h1.5v1.5h-1.5zM267.8 85h1.5v1.5h-1.5zM265 83.2h1.5v1.5h-1.5zM263.3 89.9h1.5v1.5h-1.5zM266 90.3h1.5v1.5h-1.5zM261.9 90.3h1.5v1.5h-1.5zM261.2 90.1h1.5v1.5h-1.5zM264.9 89.8h1.5v1.5h-1.5zM265.6 83.6h1.5v1.5h-1.5zM263 89.8h1.5v1.5h-1.5zM266.2 84.6h1.5v1.5h-1.5zM268.4 86.3h1.5v1.5h-1.5zM265.4 83.2h1.5v1.5h-1.5zM266.3 81.9h1.5v1.5h-1.5zM262.4 84.1h1.5v1.5h-1.5zM265.9 87.1h1.5v1.5h-1.5zM259.7 87.1h1.5v1.5h-1.5zM262.2 85.9h1.5v1.5h-1.5zM264.6 86.7h1.5v1.5h-1.5zM260.2 89.8h1.5v1.5h-1.5zM265.6 85.1h1.5v1.5h-1.5zM269.4 83.9h1.5v1.5h-1.5zM262.5 87.2h1.5v1.5h-1.5zM264.6 83.8h1.5v1.5h-1.5zM263.5 82.5h1.5v1.5h-1.5zM264.4 87.7h1.5v1.5h-1.5zM264.3 88.1h1.5v1.5h-1.5zM269.5 90.2h1.5v1.5h-1.5zM263.6 90.1h1.5v1.5h-1.5zM266.3 89.6h1.5v1.5h-1.5zM261.1 87.5h1.5v1.5h-1.5zM265.6 84.2h1.5v1.5h-1.5zM264 88.6h1.5v1.5h-1.5zM263.2 82.9h1.5v1.5h-1.5zM261.7 90.4h1.5v1.5h-1.5zM268.4 83.6h1.5v1.5h-1.5zM260.9 85.1h1.5v1.5h-1.5zM268.4 81.3h1.5v1.5h-1.5zM260.2 82.1h1.5v1.5h-1.5zM261.7 83.8h1.5v1.5h-1.5zM265.6 85.4h1.5v1.5h-1.5zM268.9 84.3h1.5v1.5h-1.5zM261 80.9h1.5v1.5h-1.5zM260.7 85.5h1.5v1.5h-1.5zM266.1 83.6h1.5v1.5h-1.5zM268.5 77h1.5v1.5h-1.5zM261.6 82.4h1.5v1.5h-1.5zM265.6 80.3h1.5v1.5h-1.5zM262.6 73.8h1.5v1.5h-1.5zM291.5 89.6h1.5v1.5h-1.5zM292.1 85.1h1.5v1.5h-1.5zM284.8 87.7h1.5v1.5h-1.5zM285.6 84.2h1.5v1.5h-1.5zM285.4 90.1h1.5v1.5h-1.5zM291.4 87.3h1.5v1.5h-1.5zM290.5 88.9h1.5v1.5h-1.5zM289.3 90.6h1.5v1.5h-1.5zM288.8 90.2h1.5v1.5h-1.5zM290.6 91.2h1.5v1.5h-1.5zM286 90.6h1.5v1.5h-1.5zM289.4 87.4h1.5v1.5h-1.5zM284.8 83.1h1.5v1.5h-1.5zM292 89.2h1.5v1.5h-1.5zM286.2 84.9h1.5v1.5h-1.5zM293.2 90.8h1.5v1.5h-1.5zM291.3 85h1.5v1.5h-1.5zM292.9 90.6h1.5v1.5h-1.5zM285.8 90.9h1.5v1.5h-1.5zM286.8 84.1h1.5v1.5h-1.5zM292.6 88.4h1.5v1.5h-1.5zM285.9 89.4h1.5v1.5h-1.5zM286.9 86.7h1.5v1.5h-1.5zM291 85.4h1.5v1.5h-1.5zM288.6 88.5h1.5v1.5h-1.5zM288.8 89.3h1.5v1.5h-1.5zM288.7 86.3h1.5v1.5h-1.5zM290.9 89.7h1.5v1.5h-1.5zM289.7 91h1.5v1.5h-1.5zM285.2 89.2h1.5v1.5h-1.5zM287.9 91.6h1.5v1.5h-1.5zM285.5 88.8h1.5v1.5h-1.5zM292.9 84.8h1.5v1.5h-1.5zM285.1 89.7h1.5v1.5h-1.5zM288 89.8h1.5v1.5h-1.5zM286 87.3h1.5v1.5h-1.5zM292 89.2h1.5v1.5h-1.5zM286.3 91.2h1.5v1.5h-1.5zM284.9 85.5h1.5v1.5h-1.5zM286.8 86h1.5v1.5h-1.5zM291.6 91.4h1.5v1.5h-1.5zM286.4 89.7h1.5v1.5h-1.5zM291.4 85.8h1.5v1.5h-1.5zM287.4 88.6h1.5v1.5h-1.5zM287.9 88.4h1.5v1.5h-1.5zM291.6 90.2h1.5v1.5h-1.5zM291.8 83.8h1.5v1.5h-1.5zM290 83.4h1.5v1.5h-1.5zM292.9 90.8h1.5v1.5h-1.5zM293.3 90.6h1.5v1.5h-1.5zM291.7 91.1h1.5v1.5h-1.5zM287.4 88.7h1.5v1.5h-1.5zM292 86.4h1.5v1.5h-1.5zM286.6 84.1h1.5v1.5h-1.5zM292.2 88.1h1.5v1.5h-1.5zM285.2 90h1.5v1.5h-1.5zM287.3 88.9h1.5v1.5h-1.5zM292.9 87.2h1.5v1.5h-1.5zM291.8 91.4h1.5v1.5h-1.5zM286.9 85.9h1.5v1.5h-1.5zM287.7 90.4h1.5v1.5h-1.5zM285.3 91.5h1.5v1.5h-1.5zM288.3 87.7h1.5v1.5h-1.5zM288.2 87.5h1.5v1.5h-1.5zM287.3 91.7h1.5v1.5h-1.5zM290.6 89.6h1.5v1.5h-1.5zM289 89.2h1.5v1.5h-1.5zM287.1 91.5h1.5v1.5h-1.5zM287.4 89.9h1.5v1.5h-1.5zM285.8 91.6h1.5v1.5h-1.5zM288.9 86.8h1.5v1.5h-1.5zM292.4 85.5h1.5v1.5h-1.5zM288.6 84.6h1.5v1.5h-1.5zM285 86.6h1.5v1.5h-1.5zM291.6 84.4h1.5v1.5h-1.5zM289 85.6h1.5v1.5h-1.5zM291.3 84.7h1.5v1.5h-1.5zM291.6 81.4h1.5v1.5h-1.5zM292.5 82.9h1.5v1.5h-1.5zM290.6 81.7h1.5v1.5h-1.5zM289.4 80.8h1.5v1.5h-1.5zM289.3 77.8h1.5v1.5h-1.5zM312.8 86.4h1.5v1.5h-1.5zM308.1 90.4h1.5v1.5h-1.5zM310.5 89h1.5v1.5h-1.5zM309.1 89.2h1.5v1.5h-1.5zM310.7 84.9h1.5v1.5h-1.5zM314.8 85.1h1.5v1.5h-1.5zM307.4 83.1h1.5v1.5h-1.5zM312.3 84.6h1.5v1.5h-1.5zM312.3 88.1h1.5v1.5h-1.5zM310 90.1h1.5v1.5h-1.5zM312.7 90.2h1.5v1.5h-1.5zM312.9 82.6h1.5v1.5h-1.5zM312.7 85.8h1.5v1.5h-1.5zM313.9 82.1h1.5v1.5h-1.5zM313.9 81.8h1.5v1.5h-1.5zM311 90.4h1.5v1.5h-1.5zM312.3 85.5h1.5v1.5h-1.5zM314.4 85.8h1.5v1.5h-1.5zM310.2 90.4h1.5v1.5h-1.5zM314.1 85.6h1.5v1.5h-1.5zM315.4 85.9h1.5v1.5h-1.5zM314.3 84.1h1.5v1.5h-1.5zM315.4 87.2h1.5v1.5h-1.5zM314.6 87.8h1.5v1.5h-1.5zM307.3 88.4h1.5v1.5h-1.5zM310.1 81.7h1.5v1.5h-1.5zM310.5 88.8h1.5v1.5h-1.5zM312.9 90h1.5v1.5h-1.5zM309.7 87.8h1.5v1.5h-1.5zM308.2 85.9h1.5v1.5h-1.5zM310.7 83.8h1.5v1.5h-1.5zM310 81.9h1.5v1.5h-1.5zM308.8 86.5h1.5v1.5h-1.5zM309.1 90.4h1.5v1.5h-1.5zM309.7 82.8h1.5v1.5h-1.5zM309.6 86.9h1.5v1.5h-1.5zM311.5 88.8h1.5v1.5h-1.5zM311.6 90.1h1.5v1.5h-1.5zM310.1 88.7h1.5v1.5h-1.5zM314 84.2h1.5v1.5h-1.5zM313 85.9h1.5v1.5h-1.5zM314.4 84.5h1.5v1.5h-1.5zM307.7 89.8h1.5v1.5h-1.5zM313.4 83.4h1.5v1.5h-1.5zM315.4 84.1h1.5v1.5h-1.5zM308.5 86.2h1.5v1.5h-1.5zM312.4 85.8h1.5v1.5h-1.5zM308.3 82h1.5v1.5h-1.5zM311.4 88.8h1.5v1.5h-1.5zM315.3 87.9h1.5v1.5h-1.5zM307.8 85.2h1.5v1.5h-1.5zM309.4 89.2h1.5v1.5h-1.5zM309.7 85.8h1.5v1.5h-1.5zM309.9 85.2h1.5v1.5h-1.5zM314.7 81.7h1.5v1.5h-1.5zM314.6 82.5h1.5v1.5h-1.5zM309.3 83.6h1.5v1.5h-1.5zM307.9 86.1h1.5v1.5h-1.5zM307.8 90h1.5v1.5h-1.5zM315.1 89.8h1.5v1.5h-1.5zM313.2 86.6h1.5v1.5h-1.5zM307.2 83.9h1.5v1.5h-1.5zM307.7 82.9h1.5v1.5h-1.5zM314 86.9h1.5v1.5h-1.5zM310.9 90.3h1.5v1.5h-1.5zM313 90.3h1.5v1.5h-1.5zM311.6 82.5h1.5v1.5h-1.5zM312.8 85.2h1.5v1.5h-1.5zM313.2 81.9h1.5v1.5h-1.5zM309.9 81.1h1.5v1.5h-1.5zM312 83.9h1.5v1.5h-1.5zM311.6 84.6h1.5v1.5h-1.5zM309.6 78.8h1.5v1.5h-1.5zM310.1 81.1h1.5v1.5h-1.5zM310.2 84.9h1.5v1.5h-1.5zM307.2 70.9h1.5v1.5h-1.5zM313.4 68.5h1.5v1.5h-1.5zM312.1 82.3h1.5v1.5h-1.5zM234.1 80.3h1.8v1.8h-1.8zM234.6 78.5h1.8v1.8h-1.8zM233.9 76.8h1.8v1.8h-1.8zM234.4 74.2h1.8v1.8h-1.8zM234 72.4h1.8v1.8h-1.8zM234.6 70.7h1.8v1.8h-1.8zM234.1 68h1.8v1.8h-1.8zM234.4 66.3h1.8v1.8h-1.8zM235.5 81.2h1.8v1.8h-1.8zM235.3 75.9h1.8v1.8h-1.8zM236.7 79.4h1.8v1.8h-1.8zM234.4 61.9h1.8v1.8h-1.8zM180 74.2h1.8v1.8h-1.8zM183.9 75.9h1.8v1.8h-1.8zM213.4 78.5h1.8v1.8h-1.8zM264.4 76.8h1.8v1.8h-1.8zM310.2 76.8h1.8v1.8h-1.8zM87.5 75h1.8v1.8h-1.8zM89.4 76.8h1.8v1.8h-1.8zM85.6 77.7h1.8v1.8h-1.8zM86.6 53.2h1.8v1.8h-1.8zM86.6 54.9h1.8v1.8h-1.8zM86.6 59.3h1.8v1.8h-1.8zM86.6 69.8h1.8v1.8h-1.8zM87.5 71.5h1.8v1.8h-1.8zM52.9 70.7h1.8v1.8h-1.8zM43 73.3h1.8v1.8h-1.8zM45 72.4h1.8v1.8h-1.8zM150.5 63.7h1.8v1.8h-1.8zM127.3 72.4h1.8v1.8h-1.8zM234.4 52.3h1.8v1.8h-1.8zM234.4 54.1h1.8v1.8h-1.8zM234.4 63.7h1.8v1.8h-1.8zM234.4 69.8h1.8v1.8h-1.8zM234.4 75h1.8v1.8h-1.8zM234.9 77.7h1.8v1.8h-1.8zM150.5 67.2h1.8v1.8h-1.8zM292.9 63.7h1.8v1.8h-1.8zM211.5 73.3h1.8v1.8h-1.8zM262.1 68.9h1.8v1.8h-1.8zM309.2 72.4h1.8v1.8h-1.8zM181.3 76.8h1.8v1.8h-1.8zM183.9 78.5h1.8v1.8h-1.8zM209.6 78.5h1.8v1.8h-1.8zM261 75h1.8v1.8h-1.8zM287.9 75h1.8v1.8h-1.8zM312.1 78.5h1.8v1.8h-1.8z"/><path fill="#b8daed" d="M73.7 86.7h1.5v1.5h-1.5zM75.6 88.7h1.5v1.5h-1.5zM75.6 91.8h1.5v1.5h-1.5zM62.9 88.3h1.5v1.5h-1.5zM64.1 86.3h1.5v1.5h-1.5zM70.2 88.4h1.5v1.5h-1.5zM73.8 88h1.5v1.5h-1.5zM64.5 89.6h1.5v1.5h-1.5zM73.8 84.5h1.5v1.5h-1.5zM62.6 85h1.5v1.5h-1.5zM75.9 88.4h1.5v1.5h-1.5zM69 91.1h1.5v1.5h-1.5zM68.4 88.6h1.5v1.5h-1.5zM69.6 92.1h1.5v1.5h-1.5zM76 88.4h1.5v1.5h-1.5zM66 85.6h1.5v1.5h-1.5zM68.9 88.7h1.5v1.5h-1.5zM71.1 91.9h1.5v1.5h-1.5zM68.4 89.4h1.5v1.5h-1.5zM75.7 84.2h1.5v1.5h-1.5zM63.7 88.8h1.5v1.5h-1.5zM61.2 89.2h1.5v1.5h-1.5zM73.3 84.5h1.5v1.5h-1.5zM67.3 90.2h1.5v1.5h-1.5zM62.4 87.5h1.5v1.5h-1.5zM75.2 91.5h1.5v1.5h-1.5zM72.6 92.1h1.5v1.5h-1.5zM62.4 90.9h1.5v1.5h-1.5zM71 90.1h1.5v1.5h-1.5zM65.2 87.4h1.5v1.5h-1.5zM60.8 86.3h1.5v1.5h-1.5zM61.1 88.5h1.5v1.5h-1.5zM63.4 91.1h1.5v1.5h-1.5zM68.3 89.2h1.5v1.5h-1.5zM65.6 89.4h1.5v1.5h-1.5zM68.3 91.3h1.5v1.5h-1.5zM62.6 87.3h1.5v1.5h-1.5zM70.2 88.3h1.5v1.5h-1.5zM73.9 87.5h1.5v1.5h-1.5zM74 90.8h1.5v1.5h-1.5zM72 85.5h1.5v1.5h-1.5zM74.8 90.2h1.5v1.5h-1.5zM64.5 84.3h1.5v1.5h-1.5zM62.8 83.4h1.5v1.5h-1.5zM74.5 91.5h1.5v1.5h-1.5zM63.2 86.4h1.5v1.5h-1.5zM63.5 91.7h1.5v1.5h-1.5zM73.6 89.3h1.5v1.5h-1.5zM72.8 91.5h1.5v1.5h-1.5zM66 86.8h1.5v1.5h-1.5zM59.3 91.1h1.5v1.5h-1.5zM70.9 84.4h1.5v1.5h-1.5zM75.9 91.6h1.5v1.5h-1.5zM67.8 86h1.5v1.5h-1.5zM67.8 86.8h1.5v1.5h-1.5zM62.3 91.9h1.5v1.5h-1.5zM60.9 92h1.5v1.5h-1.5zM68.7 88.4h1.5v1.5h-1.5zM69 91.4h1.5v1.5h-1.5zM62.2 91h1.5v1.5h-1.5zM73.7 83.5h1.5v1.5h-1.5zM75.2 91.7h1.5v1.5h-1.5zM60.1 83.9h1.5v1.5h-1.5zM67.1 86h1.5v1.5h-1.5zM64.7 88.9h1.5v1.5h-1.5zM68 89.2h1.5v1.5h-1.5zM69.5 92.1h1.5v1.5h-1.5zM71.3 85.1h1.5v1.5h-1.5zM62.2 89h1.5v1.5h-1.5zM71.9 89.4h1.5v1.5h-1.5zM62.4 91.3h1.5v1.5h-1.5zM68 92.1h1.5v1.5h-1.5zM74.6 85.6h1.5v1.5h-1.5zM71.3 84.9h1.5v1.5h-1.5zM70 89.4h1.5v1.5h-1.5zM69.5 88.5h1.5v1.5h-1.5zM76.2 85.5h1.5v1.5h-1.5zM63.5 84.4h1.5v1.5h-1.5zM72 85.8h1.5v1.5h-1.5zM73.3 89.4h1.5v1.5h-1.5zM74.7 84.7h1.5v1.5h-1.5zM71.2 85.9h1.5v1.5h-1.5zM72.4 89.4h1.5v1.5h-1.5zM71.6 91.9h1.5v1.5h-1.5zM65 88.9h1.5v1.5h-1.5zM59.2 89.9h1.5v1.5h-1.5zM70.2 87.4h1.5v1.5h-1.5zM63.1 84h1.5v1.5h-1.5zM70.7 90h1.5v1.5h-1.5zM70.5 87.9h1.5v1.5h-1.5zM68.3 89.6h1.5v1.5h-1.5zM76.5 87.2h1.5v1.5h-1.5zM71.3 86h1.5v1.5h-1.5zM76.2 92.1h1.5v1.5h-1.5zM69.8 86.2h1.5v1.5h-1.5zM63.5 89.5h1.5v1.5h-1.5zM59.9 91.1h1.5v1.5h-1.5zM65.6 91.7h1.5v1.5h-1.5zM63.4 84.4h1.5v1.5h-1.5zM68.6 85.2h1.5v1.5h-1.5zM75.9 84.8h1.5v1.5h-1.5zM76.4 84.2h1.5v1.5h-1.5zM73.2 87.1h1.5v1.5h-1.5zM69.5 83h1.5v1.5h-1.5zM59.8 79.2h1.5v1.5h-1.5zM61.8 85.4h1.5v1.5h-1.5zM62 85.2h1.5v1.5h-1.5zM69.7 87.1h1.5v1.5h-1.5zM75.5 85.7h1.5v1.5h-1.5zM68.2 84.5h1.5v1.5h-1.5zM65.4 86.3h1.5v1.5h-1.5zM70.5 84.8h1.5v1.5h-1.5zM64 79.8h1.5v1.5h-1.5zM64.2 84.2h1.5v1.5h-1.5zM63.3 84.1h1.5v1.5h-1.5zM61.7 79.3h1.5v1.5h-1.5zM108.4 88.6h1.5v1.5h-1.5zM104.7 86.5h1.5v1.5h-1.5zM103.5 88.3h1.5v1.5h-1.5zM105 85.2h1.5v1.5h-1.5zM102.9 89.3h1.5v1.5h-1.5zM110.1 88.3h1.5v1.5h-1.5zM113.4 86.2h1.5v1.5h-1.5zM110 88.3h1.5v1.5h-1.5zM111.6 90h1.5v1.5h-1.5zM101.1 90h1.5v1.5h-1.5zM109.3 84.8h1.5v1.5h-1.5zM101.7 87.7h1.5v1.5h-1.5zM111.7 86h1.5v1.5h-1.5zM100.4 89.1h1.5v1.5h-1.5zM101.4 89.8h1.5v1.5h-1.5zM105.2 90.1h1.5v1.5h-1.5zM113 87.5h1.5v1.5h-1.5zM106.8 85.4h1.5v1.5h-1.5zM110.7 83.6h1.5v1.5h-1.5zM104.9 88.3h1.5v1.5h-1.5zM105.3 90.3h1.5v1.5h-1.5zM105.1 84.9h1.5v1.5h-1.5zM113.9 84h1.5v1.5h-1.5zM109 85.8h1.5v1.5h-1.5zM99.3 88.3h1.5v1.5h-1.5zM104.2 85.4h1.5v1.5h-1.5zM100.6 87.9h1.5v1.5h-1.5zM106.7 84h1.5v1.5h-1.5zM111.5 85.8h1.5v1.5h-1.5zM101.4 84.2h1.5v1.5h-1.5zM112.7 86.4h1.5v1.5h-1.5zM104.4 86.8h1.5v1.5h-1.5zM101.2 84.7h1.5v1.5h-1.5zM114 86.7h1.5v1.5h-1.5zM109.9 83.5h1.5v1.5h-1.5zM102 82.3h1.5v1.5h-1.5zM108.5 89.3h1.5v1.5h-1.5zM100.3 89h1.5v1.5h-1.5zM107.8 84.9h1.5v1.5h-1.5zM104 82.4h1.5v1.5h-1.5zM104.5 87.2h1.5v1.5h-1.5zM100.9 81.9h1.5v1.5h-1.5zM101.1 82.7h1.5v1.5h-1.5zM107.3 86.3h1.5v1.5h-1.5zM107.5 88.8h1.5v1.5h-1.5zM112.8 81.7h1.5v1.5h-1.5zM111.4 85.9h1.5v1.5h-1.5zM100.9 83.6h1.5v1.5h-1.5zM103.4 82.8h1.5v1.5h-1.5zM102.7 86.1h1.5v1.5h-1.5zM111.6 89.4h1.5v1.5h-1.5zM107.3 90.1h1.5v1.5h-1.5zM99.5 89.4h1.5v1.5h-1.5zM114 82.3h1.5v1.5h-1.5zM109 88.5h1.5v1.5h-1.5zM109.2 84.5h1.5v1.5h-1.5zM104.8 86h1.5v1.5h-1.5zM111.2 90.3h1.5v1.5h-1.5zM102 87.1h1.5v1.5h-1.5zM101.2 87.8h1.5v1.5h-1.5zM107.7 89.5h1.5v1.5h-1.5zM106.9 88.8h1.5v1.5h-1.5zM107.6 88.3h1.5v1.5h-1.5zM108.8 90.3h1.5v1.5h-1.5zM109.2 89.7h1.5v1.5h-1.5zM113.6 85.9h1.5v1.5h-1.5zM106.1 87.6h1.5v1.5h-1.5zM108.5 85h1.5v1.5h-1.5zM110.5 84.3h1.5v1.5h-1.5zM106.4 81.7h1.5v1.5h-1.5zM111.7 83.2h1.5v1.5h-1.5zM105.2 87.4h1.5v1.5h-1.5zM107.6 82.7h1.5v1.5h-1.5zM107 86.6h1.5v1.5h-1.5zM105.6 82.7h1.5v1.5h-1.5zM103.9 90.2h1.5v1.5h-1.5zM110 82.8h1.5v1.5h-1.5zM110.1 85.9h1.5v1.5h-1.5zM110.4 88.5h1.5v1.5h-1.5zM108 90.1h1.5v1.5h-1.5zM100.9 87.3h1.5v1.5h-1.5zM106.6 87.8h1.5v1.5h-1.5zM99.8 84.9h1.5v1.5h-1.5zM107 89h1.5v1.5h-1.5zM103.7 87.8h1.5v1.5h-1.5zM102.6 90.1h1.5v1.5h-1.5zM112.9 82h1.5v1.5h-1.5zM109.1 79.4h1.5v1.5h-1.5zM105.4 80.6h1.5v1.5h-1.5zM102.4 81.4h1.5v1.5h-1.5zM107.6 78.4h1.5v1.5h-1.5zM100.5 80.8h1.5v1.5h-1.5zM100.9 83.2h1.5v1.5h-1.5zM113.5 85.6h1.5v1.5h-1.5zM102.7 84.5h1.5v1.5h-1.5zM103.9 85.4h1.5v1.5h-1.5zM112.6 80.4h1.5v1.5h-1.5zM105 84.2h1.5v1.5h-1.5zM107.9 82.3h1.5v1.5h-1.5zM99.5 74.5h1.5v1.5h-1.5zM103.7 80.1h1.5v1.5h-1.5zM138.9 91.5h1.5v1.5h-1.5zM141 90.6h1.5v1.5h-1.5zM141.2 87h1.5v1.5h-1.5zM134 91h1.5v1.5h-1.5zM135.7 86.5h1.5v1.5h-1.5zM137.2 89.6h1.5v1.5h-1.5zM142.9 90.9h1.5v1.5h-1.5zM135.8 89.9h1.5v1.5h-1.5zM134.9 92h1.5v1.5h-1.5zM132.5 87.3h1.5v1.5h-1.5zM139.2 85.5h1.5v1.5h-1.5zM144.3 90.3h1.5v1.5h-1.5zM140.5 84.3h1.5v1.5h-1.5zM134.9 86.7h1.5v1.5h-1.5zM140.5 83.9h1.5v1.5h-1.5zM143 90.8h1.5v1.5h-1.5zM140 91.8h1.5v1.5h-1.5zM137.5 89.5h1.5v1.5h-1.5zM132.9 89.6h1.5v1.5h-1.5zM136.3 88.6h1.5v1.5h-1.5zM135.7 91.3h1.5v1.5h-1.5zM137.2 88.8h1.5v1.5h-1.5zM134.3 87h1.5v1.5h-1.5zM135.2 91.7h1.5v1.5h-1.5zM136.4 89.3h1.5v1.5h-1.5zM134.1 87.8h1.5v1.5h-1.5zM140.9 88.1h1.5v1.5h-1.5zM140.9 92.1h1.5v1.5h-1.5zM137.1 89.8h1.5v1.5h-1.5zM133 89.4h1.5v1.5h-1.5zM132.9 88.6h1.5v1.5h-1.5zM139.5 88.9h1.5v1.5h-1.5zM136.2 90.7h1.5v1.5h-1.5zM132.5 89.9h1.5v1.5h-1.5zM143.3 88h1.5v1.5h-1.5zM135.4 87h1.5v1.5h-1.5zM134.5 88.9h1.5v1.5h-1.5zM139.8 83.9h1.5v1.5h-1.5zM136.7 87.9h1.5v1.5h-1.5zM143.9 85.9h1.5v1.5h-1.5zM140 87.4h1.5v1.5h-1.5zM137.3 89.3h1.5v1.5h-1.5zM135.6 85.3h1.5v1.5h-1.5zM143.1 89.6h1.5v1.5h-1.5zM143.5 92h1.5v1.5h-1.5zM133.9 88.5h1.5v1.5h-1.5zM136 89.8h1.5v1.5h-1.5zM144.3 91.4h1.5v1.5h-1.5zM134.6 90.9h1.5v1.5h-1.5zM140.6 90.8h1.5v1.5h-1.5zM132.2 88.2h1.5v1.5h-1.5zM137.1 90.8h1.5v1.5h-1.5zM138.3 87.1h1.5v1.5h-1.5zM139 87.4h1.5v1.5h-1.5zM139.2 85.3h1.5v1.5h-1.5zM144.2 90h1.5v1.5h-1.5zM136.5 84.7h1.5v1.5h-1.5zM136.1 86.5h1.5v1.5h-1.5zM140.8 86.8h1.5v1.5h-1.5zM144.2 85.3h1.5v1.5h-1.5zM134.2 87.4h1.5v1.5h-1.5zM138.3 88h1.5v1.5h-1.5zM136.8 90.4h1.5v1.5h-1.5zM141.5 88.3h1.5v1.5h-1.5zM135.1 90.7h1.5v1.5h-1.5zM136.2 91.2h1.5v1.5h-1.5zM138.6 91.5h1.5v1.5h-1.5zM133 91.9h1.5v1.5h-1.5zM133.5 86.6h1.5v1.5h-1.5zM133.6 89h1.5v1.5h-1.5zM141.8 88.8h1.5v1.5h-1.5zM134.2 84.9h1.5v1.5h-1.5zM143 87.2h1.5v1.5h-1.5zM135.3 85.2h1.5v1.5h-1.5zM142.1 85.8h1.5v1.5h-1.5zM141.1 86.4h1.5v1.5h-1.5zM141.1 86.1h1.5v1.5h-1.5zM136.3 83h1.5v1.5h-1.5zM142.6 81.9h1.5v1.5h-1.5zM139.2 85.7h1.5v1.5h-1.5zM141 84.3h1.5v1.5h-1.5zM142.5 78.6h1.5v1.5h-1.5zM133.8 82.6h1.5v1.5h-1.5zM140.5 83.3h1.5v1.5h-1.5zM165 85.6h1.5v1.5h-1.5zM172.5 85.9h1.5v1.5h-1.5zM168.8 84.4h1.5v1.5h-1.5zM171.8 91.4h1.5v1.5h-1.5zM166.5 91.7h1.5v1.5h-1.5zM162.5 89.9h1.5v1.5h-1.5zM172.6 85.2h1.5v1.5h-1.5zM163.4 91.2h1.5v1.5h-1.5zM166.8 85.1h1.5v1.5h-1.5zM169.6 84.5h1.5v1.5h-1.5zM162.9 83.5h1.5v1.5h-1.5zM164.5 87.3h1.5v1.5h-1.5zM172.8 86.3h1.5v1.5h-1.5zM164.4 87h1.5v1.5h-1.5zM167.3 92.1h1.5v1.5h-1.5zM166.2 90.2h1.5v1.5h-1.5zM169.7 90.5h1.5v1.5h-1.5zM169.4 86.7h1.5v1.5h-1.5zM164.2 91.5h1.5v1.5h-1.5zM170.5 88.9h1.5v1.5h-1.5zM163.6 91.6h1.5v1.5h-1.5zM173.6 87.5h1.5v1.5h-1.5zM166.4 91.1h1.5v1.5h-1.5zM174.2 86.7h1.5v1.5h-1.5zM171.1 89.8h1.5v1.5h-1.5zM165.8 89.4h1.5v1.5h-1.5zM163.8 87.3h1.5v1.5h-1.5zM167.2 85.4h1.5v1.5h-1.5zM167 89h1.5v1.5h-1.5zM168.2 84h1.5v1.5h-1.5zM166.3 86.6h1.5v1.5h-1.5zM164.9 87.8h1.5v1.5h-1.5zM165.5 84.8h1.5v1.5h-1.5zM165.5 85h1.5v1.5h-1.5zM170.3 89h1.5v1.5h-1.5zM173.5 89.6h1.5v1.5h-1.5zM171.1 87.6h1.5v1.5h-1.5zM167.5 91.9h1.5v1.5h-1.5zM167.2 90.5h1.5v1.5h-1.5zM167.4 83.9h1.5v1.5h-1.5zM165.6 86.7h1.5v1.5h-1.5zM170.3 90.7h1.5v1.5h-1.5zM167.1 91.5h1.5v1.5h-1.5zM173 90.7h1.5v1.5h-1.5zM167.2 90h1.5v1.5h-1.5zM172.1 85.1h1.5v1.5h-1.5zM169.3 88.2h1.5v1.5h-1.5zM163.2 84.5h1.5v1.5h-1.5zM163.1 89.8h1.5v1.5h-1.5zM166.6 86.4h1.5v1.5h-1.5zM170.2 90h1.5v1.5h-1.5zM173 84h1.5v1.5h-1.5zM162.3 87.3h1.5v1.5h-1.5zM167.8 89.8h1.5v1.5h-1.5zM167.7 90.2h1.5v1.5h-1.5zM170.3 87.6h1.5v1.5h-1.5zM173.9 83.7h1.5v1.5h-1.5zM174.2 89.5h1.5v1.5h-1.5zM172.2 87.1h1.5v1.5h-1.5zM170.6 83.4h1.5v1.5h-1.5zM162.8 88.9h1.5v1.5h-1.5zM166.9 87.1h1.5v1.5h-1.5zM164.7 83.5h1.5v1.5h-1.5zM164.6 89.7h1.5v1.5h-1.5zM163.8 89.5h1.5v1.5h-1.5zM171.1 91.8h1.5v1.5h-1.5zM164.1 87.2h1.5v1.5h-1.5zM169.7 86.2h1.5v1.5h-1.5zM165.1 85.5h1.5v1.5h-1.5zM171 85.8h1.5v1.5h-1.5zM163.5 88.9h1.5v1.5h-1.5zM162.2 81.3h1.5v1.5h-1.5zM173.6 80.4h1.5v1.5h-1.5zM162.3 86h1.5v1.5h-1.5zM168.6 85h1.5v1.5h-1.5zM163.4 82.6h1.5v1.5h-1.5zM165.7 85.2h1.5v1.5h-1.5zM163.5 84.8h1.5v1.5h-1.5zM163.6 87h1.5v1.5h-1.5zM168.3 86.3h1.5v1.5h-1.5zM171.6 83.3h1.5v1.5h-1.5zM167.1 84.1h1.5v1.5h-1.5zM164.7 82.2h1.5v1.5h-1.5zM202.2 86h1.5v1.5h-1.5zM194.6 84.5h1.5v1.5h-1.5zM199.7 90.1h1.5v1.5h-1.5zM194.2 91.6h1.5v1.5h-1.5zM197.5 90.2h1.5v1.5h-1.5zM194.7 90.2h1.5v1.5h-1.5zM192.8 88.3h1.5v1.5h-1.5zM194.4 90h1.5v1.5h-1.5zM194.5 88.1h1.5v1.5h-1.5zM201.3 90.9h1.5v1.5h-1.5zM201.2 84.6h1.5v1.5h-1.5zM198.3 87.7h1.5v1.5h-1.5zM199.7 87.8h1.5v1.5h-1.5zM198.9 83.9h1.5v1.5h-1.5zM200.2 90.2h1.5v1.5h-1.5zM191.9 83.7h1.5v1.5h-1.5zM195.5 85.3h1.5v1.5h-1.5zM194 88.6h1.5v1.5h-1.5zM195.6 85.9h1.5v1.5h-1.5zM202.2 88.1h1.5v1.5h-1.5zM197.8 89.5h1.5v1.5h-1.5zM194 83.5h1.5v1.5h-1.5zM192.6 83.6h1.5v1.5h-1.5zM198.9 91.4h1.5v1.5h-1.5zM201.7 91.2h1.5v1.5h-1.5zM197.8 91.1h1.5v1.5h-1.5zM202.7 89.8h1.5v1.5h-1.5zM201.3 91.5h1.5v1.5h-1.5zM199 91.4h1.5v1.5h-1.5zM191.6 87.5h1.5v1.5h-1.5zM202.6 86.3h1.5v1.5h-1.5zM201.1 85.3h1.5v1.5h-1.5zM197.3 91.4h1.5v1.5h-1.5zM197.4 90.7h1.5v1.5h-1.5zM197.4 89.4h1.5v1.5h-1.5zM197 90.6h1.5v1.5h-1.5zM199.4 88.9h1.5v1.5h-1.5zM196.9 91.4h1.5v1.5h-1.5zM196.9 87.6h1.5v1.5h-1.5zM202.5 87.6h1.5v1.5h-1.5zM192.9 89.9h1.5v1.5h-1.5zM195.2 86.2h1.5v1.5h-1.5zM202.1 83.2h1.5v1.5h-1.5zM202.2 83.8h1.5v1.5h-1.5zM201.2 83.7h1.5v1.5h-1.5zM191.5 88.2h1.5v1.5h-1.5zM198.1 86.3h1.5v1.5h-1.5zM198.3 87.1h1.5v1.5h-1.5zM202 91.3h1.5v1.5h-1.5zM197.3 83.4h1.5v1.5h-1.5zM191.7 91.2h1.5v1.5h-1.5zM201.3 83.4h1.5v1.5h-1.5zM191.6 91.6h1.5v1.5h-1.5zM200.8 86.3h1.5v1.5h-1.5zM197.3 87.4h1.5v1.5h-1.5zM200 85.1h1.5v1.5h-1.5zM191.3 91.4h1.5v1.5h-1.5zM200.4 83.2h1.5v1.5h-1.5zM200.9 89h1.5v1.5h-1.5zM195.2 89.5h1.5v1.5h-1.5zM191.5 85.5h1.5v1.5h-1.5zM194.3 87.3h1.5v1.5h-1.5zM197.4 89.6h1.5v1.5h-1.5zM199.1 88.6h1.5v1.5h-1.5zM194 84.3h1.5v1.5h-1.5zM193.3 91h1.5v1.5h-1.5zM194.2 88.3h1.5v1.5h-1.5zM200.3 85.6h1.5v1.5h-1.5zM194 83.6h1.5v1.5h-1.5zM194.3 84.6h1.5v1.5h-1.5zM194.2 80.5h1.5v1.5h-1.5zM193.4 86.1h1.5v1.5h-1.5zM194.8 85.7h1.5v1.5h-1.5zM199.7 83.5h1.5v1.5h-1.5zM200.4 84.5h1.5v1.5h-1.5zM192.2 82.5h1.5v1.5h-1.5zM194.1 83h1.5v1.5h-1.5zM196.1 67.8h1.5v1.5h-1.5zM195.6 82.3h1.5v1.5h-1.5zM219.7 89.6h1.5v1.5h-1.5zM229.1 89.1h1.5v1.5h-1.5zM227.4 84.1h1.5v1.5h-1.5zM227.9 86.7h1.5v1.5h-1.5zM223.3 88.8h1.5v1.5h-1.5zM221.7 85.4h1.5v1.5h-1.5zM227.8 82.3h1.5v1.5h-1.5zM223.4 82.5h1.5v1.5h-1.5zM230.5 88.6h1.5v1.5h-1.5zM231 85.7h1.5v1.5h-1.5zM231.1 84.1h1.5v1.5h-1.5zM223.5 88.7h1.5v1.5h-1.5zM225.8 86.9h1.5v1.5h-1.5zM219.8 83.2h1.5v1.5h-1.5zM225.9 87.1h1.5v1.5h-1.5zM228.5 88.9h1.5v1.5h-1.5zM221.8 86.1h1.5v1.5h-1.5zM222.3 88.3h1.5v1.5h-1.5zM220.3 90.2h1.5v1.5h-1.5zM223.7 86.6h1.5v1.5h-1.5zM231 85.5h1.5v1.5h-1.5zM224.5 87.7h1.5v1.5h-1.5zM222.3 87.1h1.5v1.5h-1.5zM231.1 89.8h1.5v1.5h-1.5zM224.7 85h1.5v1.5h-1.5zM228.7 86.3h1.5v1.5h-1.5zM227.2 82.3h1.5v1.5h-1.5zM230.4 88.9h1.5v1.5h-1.5zM226 81.7h1.5v1.5h-1.5zM225.8 89.4h1.5v1.5h-1.5zM228.7 90.2h1.5v1.5h-1.5zM221.2 86.4h1.5v1.5h-1.5zM222.7 84.7h1.5v1.5h-1.5zM228.3 88.4h1.5v1.5h-1.5zM228.8 85.4h1.5v1.5h-1.5zM228 87.2h1.5v1.5h-1.5zM224.7 89.9h1.5v1.5h-1.5zM225.2 82.1h1.5v1.5h-1.5zM230.2 90.2h1.5v1.5h-1.5zM220.3 88.8h1.5v1.5h-1.5zM227.9 87.4h1.5v1.5h-1.5zM221 87.5h1.5v1.5h-1.5zM226.4 84.4h1.5v1.5h-1.5zM224.3 85.4h1.5v1.5h-1.5zM227.7 85.7h1.5v1.5h-1.5zM220 84.8h1.5v1.5h-1.5zM221 90.2h1.5v1.5h-1.5zM225.2 90.3h1.5v1.5h-1.5zM220.3 87.8h1.5v1.5h-1.5zM225.1 89.9h1.5v1.5h-1.5zM231 83.3h1.5v1.5h-1.5zM225.3 86h1.5v1.5h-1.5zM223.3 81.8h1.5v1.5h-1.5zM220.9 88.5h1.5v1.5h-1.5zM222.1 83.1h1.5v1.5h-1.5zM225.6 87.6h1.5v1.5h-1.5zM224.3 82.9h1.5v1.5h-1.5zM222.5 83.9h1.5v1.5h-1.5zM228 87.3h1.5v1.5h-1.5zM223.9 87.4h1.5v1.5h-1.5zM224.9 88.4h1.5v1.5h-1.5zM227 87.6h1.5v1.5h-1.5zM223.1 84.1h1.5v1.5h-1.5zM225 87.1h1.5v1.5h-1.5zM230.1 87.2h1.5v1.5h-1.5zM224 82.8h1.5v1.5h-1.5zM231.3 84h1.5v1.5h-1.5zM224.3 85.2h1.5v1.5h-1.5zM228.4 88.6h1.5v1.5h-1.5zM228.2 82.2h1.5v1.5h-1.5zM227.4 85.2h1.5v1.5h-1.5zM224.7 82.3h1.5v1.5h-1.5zM222.2 81.1h1.5v1.5h-1.5zM226 73.6h1.5v1.5h-1.5zM223.6 81.8h1.5v1.5h-1.5zM219.6 83.9h1.5v1.5h-1.5zM228.7 84.7h1.5v1.5h-1.5zM226.9 84.8h1.5v1.5h-1.5zM224.3 70.1h1.5v1.5h-1.5zM221.8 78.1h1.5v1.5h-1.5zM220.1 79.5h1.5v1.5h-1.5zM229.4 76.2h1.5v1.5h-1.5zM224.2 79.4h1.5v1.5h-1.5zM248.7 90.7h1.5v1.5h-1.5zM255.9 88.6h1.5v1.5h-1.5zM249.1 90.8h1.5v1.5h-1.5zM252.4 91.8h1.5v1.5h-1.5zM252.7 89.1h1.5v1.5h-1.5zM247.2 92.7h1.5v1.5h-1.5zM253.5 92.7h1.5v1.5h-1.5zM247.7 87.7h1.5v1.5h-1.5zM250.3 85.6h1.5v1.5h-1.5zM252.5 93.4h1.5v1.5h-1.5zM253.3 92.4h1.5v1.5h-1.5zM255.1 88.1h1.5v1.5h-1.5zM254.5 93.7h1.5v1.5h-1.5zM247.3 87.4h1.5v1.5h-1.5zM248.4 92.8h1.5v1.5h-1.5zM247.3 93.1h1.5v1.5h-1.5zM251.7 85.6h1.5v1.5h-1.5zM250.2 92.4h1.5v1.5h-1.5zM255.2 92.9h1.5v1.5h-1.5zM253.3 89.2h1.5v1.5h-1.5zM256.3 93.7h1.5v1.5h-1.5zM252.6 91.4h1.5v1.5h-1.5zM255.2 92.4h1.5v1.5h-1.5zM254.1 92.9h1.5v1.5h-1.5zM251.9 85.5h1.5v1.5h-1.5zM249.4 92.2h1.5v1.5h-1.5zM256.1 88.6h1.5v1.5h-1.5zM247.7 92.9h1.5v1.5h-1.5zM249.3 92.1h1.5v1.5h-1.5zM255.4 88.4h1.5v1.5h-1.5zM256.7 88.7h1.5v1.5h-1.5zM253.2 91.4h1.5v1.5h-1.5zM254.1 90.4h1.5v1.5h-1.5zM247.6 90.4h1.5v1.5h-1.5zM250.8 90h1.5v1.5h-1.5zM247.5 93.8h1.5v1.5h-1.5zM256.7 91.5h1.5v1.5h-1.5zM250.3 93.2h1.5v1.5h-1.5zM252.9 86.1h1.5v1.5h-1.5zM248.8 90.3h1.5v1.5h-1.5zM251.9 87.7h1.5v1.5h-1.5zM252.6 92.5h1.5v1.5h-1.5zM248.9 88.1h1.5v1.5h-1.5zM247.8 86.6h1.5v1.5h-1.5zM247.3 92.9h1.5v1.5h-1.5zM251.6 86.9h1.5v1.5h-1.5zM253.1 87.9h1.5v1.5h-1.5zM254.5 88.2h1.5v1.5h-1.5zM247.5 87.1h1.5v1.5h-1.5zM248.5 93.1h1.5v1.5h-1.5zM247.4 93.8h1.5v1.5h-1.5zM255.7 91.4h1.5v1.5h-1.5zM247.9 93.7h1.5v1.5h-1.5zM255.4 89.4h1.5v1.5h-1.5zM256.1 93.8h1.5v1.5h-1.5zM248.1 92.2h1.5v1.5h-1.5zM248.9 93.4h1.5v1.5h-1.5zM249 89h1.5v1.5h-1.5zM248.7 93h1.5v1.5h-1.5zM252.3 87.6h1.5v1.5h-1.5zM248.5 86.5h1.5v1.5h-1.5zM252 87.6h1.5v1.5h-1.5zM251.7 89h1.5v1.5h-1.5zM253.1 88.4h1.5v1.5h-1.5zM250.3 89h1.5v1.5h-1.5zM255.8 86.4h1.5v1.5h-1.5zM250.9 83.3h1.5v1.5h-1.5zM256.3 85.5h1.5v1.5h-1.5zM274 86.8h1.5v1.5h-1.5zM272.6 83.8h1.5v1.5h-1.5zM281.6 87h1.5v1.5h-1.5zM275.2 86h1.5v1.5h-1.5zM281.1 85.2h1.5v1.5h-1.5zM272.3 88.1h1.5v1.5h-1.5zM273.3 87.7h1.5v1.5h-1.5zM281.6 84.5h1.5v1.5h-1.5zM274.4 87.7h1.5v1.5h-1.5zM275.1 90.8h1.5v1.5h-1.5zM279.5 85.6h1.5v1.5h-1.5zM275.3 88.9h1.5v1.5h-1.5zM279 85.9h1.5v1.5h-1.5zM276.6 91.2h1.5v1.5h-1.5zM272.9 90.8h1.5v1.5h-1.5zM280.3 88.2h1.5v1.5h-1.5zM278.5 89.3h1.5v1.5h-1.5zM275.7 90.8h1.5v1.5h-1.5zM281.8 87.1h1.5v1.5h-1.5zM273.2 86.2h1.5v1.5h-1.5zM278 87.1h1.5v1.5h-1.5zM279.8 87.1h1.5v1.5h-1.5zM280.8 83.3h1.5v1.5h-1.5zM276 86.7h1.5v1.5h-1.5zM275.7 88.9h1.5v1.5h-1.5zM275.6 86.7h1.5v1.5h-1.5zM275.5 89.4h1.5v1.5h-1.5zM280.5 85.2h1.5v1.5h-1.5zM278.8 84.7h1.5v1.5h-1.5zM275.8 86.8h1.5v1.5h-1.5zM274.5 89.7h1.5v1.5h-1.5zM272.9 85.2h1.5v1.5h-1.5zM281.3 89.8h1.5v1.5h-1.5zM275.8 91.2h1.5v1.5h-1.5zM273.4 86.8h1.5v1.5h-1.5zM281 91.4h1.5v1.5h-1.5zM274.5 85.6h1.5v1.5h-1.5zM274.2 84.3h1.5v1.5h-1.5zM275.5 88.4h1.5v1.5h-1.5zM274 89.9h1.5v1.5h-1.5zM276.2 90h1.5v1.5h-1.5zM279.3 91.6h1.5v1.5h-1.5zM278.4 85.1h1.5v1.5h-1.5zM275.2 90.7h1.5v1.5h-1.5zM273.1 91.4h1.5v1.5h-1.5zM280 87.2h1.5v1.5h-1.5zM272.1 88.6h1.5v1.5h-1.5zM278 89.7h1.5v1.5h-1.5zM272.3 88.9h1.5v1.5h-1.5zM275.5 83.3h1.5v1.5h-1.5zM275.6 83.8h1.5v1.5h-1.5zM280.8 87.4h1.5v1.5h-1.5zM273.2 85.1h1.5v1.5h-1.5zM272.8 87.6h1.5v1.5h-1.5zM272.9 91.3h1.5v1.5h-1.5zM276.1 90.9h1.5v1.5h-1.5zM282 87.4h1.5v1.5h-1.5zM281.1 83.4h1.5v1.5h-1.5zM279.6 86.7h1.5v1.5h-1.5zM276.7 85.4h1.5v1.5h-1.5zM278.7 86.4h1.5v1.5h-1.5zM277.3 85.3h1.5v1.5h-1.5zM277.2 83.1h1.5v1.5h-1.5zM278.9 84.3h1.5v1.5h-1.5zM279.9 81.5h1.5v1.5h-1.5zM272.8 86.4h1.5v1.5h-1.5zM272.4 86.4h1.5v1.5h-1.5zM281.7 85.8h1.5v1.5h-1.5zM276.4 81.6h1.5v1.5h-1.5zM277.7 82.7h1.5v1.5h-1.5zM303.2 92.6h1.5v1.5h-1.5zM302.3 88.1h1.5v1.5h-1.5zM301.1 85h1.5v1.5h-1.5zM296.5 89.4h1.5v1.5h-1.5zM299.2 84.6h1.5v1.5h-1.5zM297.5 88.6h1.5v1.5h-1.5zM297.3 86.7h1.5v1.5h-1.5zM300.2 86.9h1.5v1.5h-1.5zM298.6 85.3h1.5v1.5h-1.5zM296.2 91.5h1.5v1.5h-1.5zM302.2 85.4h1.5v1.5h-1.5zM302.6 91.1h1.5v1.5h-1.5zM296.8 87.2h1.5v1.5h-1.5zM302.2 92.5h1.5v1.5h-1.5zM303.9 88.9h1.5v1.5h-1.5zM296.4 89.4h1.5v1.5h-1.5zM298.9 92.3h1.5v1.5h-1.5zM303.4 84.7h1.5v1.5h-1.5zM297.1 89.7h1.5v1.5h-1.5zM298.4 87.5h1.5v1.5h-1.5zM297 90.7h1.5v1.5h-1.5zM299.5 89.4h1.5v1.5h-1.5zM299.7 88.3h1.5v1.5h-1.5zM303.9 84.8h1.5v1.5h-1.5zM303.6 85.9h1.5v1.5h-1.5zM298 91.3h1.5v1.5h-1.5zM299.9 87.8h1.5v1.5h-1.5zM301.1 90.5h1.5v1.5h-1.5zM304.3 90.8h1.5v1.5h-1.5zM296.3 92.4h1.5v1.5h-1.5zM297.8 86.9h1.5v1.5h-1.5zM303.1 92.6h1.5v1.5h-1.5zM298.1 91.4h1.5v1.5h-1.5zM302.6 85.1h1.5v1.5h-1.5zM298.3 92.3h1.5v1.5h-1.5zM304.1 84.3h1.5v1.5h-1.5zM302 89.4h1.5v1.5h-1.5zM302.3 86.5h1.5v1.5h-1.5zM300.3 91.1h1.5v1.5h-1.5zM300.5 87.6h1.5v1.5h-1.5zM298.8 87.9h1.5v1.5h-1.5zM297.3 84.3h1.5v1.5h-1.5zM297.9 91.5h1.5v1.5h-1.5zM304.1 84.6h1.5v1.5h-1.5zM303.8 85.8h1.5v1.5h-1.5zM303.1 86h1.5v1.5h-1.5zM300.8 92.5h1.5v1.5h-1.5zM302.2 85.8h1.5v1.5h-1.5zM303.1 92.6h1.5v1.5h-1.5zM296.6 86.9h1.5v1.5h-1.5zM300.1 81.1h1.5v1.5h-1.5zM304.3 86.1h1.5v1.5h-1.5zM301.7 84.6h1.5v1.5h-1.5zM301.9 86.5h1.5v1.5h-1.5zM301.4 87.7h1.5v1.5h-1.5zM303.6 84h1.5v1.5h-1.5zM302.8 82.7h1.5v1.5h-1.5zM297.8 82.8h1.5v1.5h-1.5zM319.3 92.6h1.5v1.5h-1.5zM323 88h1.5v1.5h-1.5zM325.8 91h1.5v1.5h-1.5zM319.8 91.5h1.5v1.5h-1.5zM319.1 92.7h1.5v1.5h-1.5zM322 89.9h1.5v1.5h-1.5zM321 84.6h1.5v1.5h-1.5zM320.5 85.9h1.5v1.5h-1.5zM322.3 92.3h1.5v1.5h-1.5zM318.1 88.2h1.5v1.5h-1.5zM325.2 92.6h1.5v1.5h-1.5zM323.7 91.4h1.5v1.5h-1.5zM323.6 85.8h1.5v1.5h-1.5zM323.9 91.3h1.5v1.5h-1.5zM319.2 84.4h1.5v1.5h-1.5zM325.5 84.9h1.5v1.5h-1.5zM322.4 92.6h1.5v1.5h-1.5zM321 85h1.5v1.5h-1.5zM318.5 91h1.5v1.5h-1.5zM318.3 85.3h1.5v1.5h-1.5zM320.8 92.4h1.5v1.5h-1.5zM320.9 91.6h1.5v1.5h-1.5zM321.5 88.1h1.5v1.5h-1.5zM323.4 92.3h1.5v1.5h-1.5zM322.3 92.5h1.5v1.5h-1.5zM321.6 86.1h1.5v1.5h-1.5zM320.1 86h1.5v1.5h-1.5zM319.9 90.1h1.5v1.5h-1.5zM324.5 92.7h1.5v1.5h-1.5zM322.5 88.9h1.5v1.5h-1.5zM323.8 84.6h1.5v1.5h-1.5zM323.7 91.5h1.5v1.5h-1.5zM319.6 89.4h1.5v1.5h-1.5zM320.2 88.7h1.5v1.5h-1.5zM318.6 87.3h1.5v1.5h-1.5zM321.4 92.6h1.5v1.5h-1.5zM318.9 84.7h1.5v1.5h-1.5zM324.9 85.3h1.5v1.5h-1.5zM321.1 84.2h1.5v1.5h-1.5zM319.3 87h1.5v1.5h-1.5zM325.7 91.6h1.5v1.5h-1.5zM317.9 92.2h1.5v1.5h-1.5zM318.6 86.2h1.5v1.5h-1.5zM322.9 89.4h1.5v1.5h-1.5zM318.9 87.8h1.5v1.5h-1.5zM319 92.1h1.5v1.5h-1.5zM322.8 87.8h1.5v1.5h-1.5zM324.5 85.9h1.5v1.5h-1.5zM319 90.9h1.5v1.5h-1.5zM319.1 89.3h1.5v1.5h-1.5zM318.1 81.7h1.5v1.5h-1.5zM323.6 82.9h1.5v1.5h-1.5zM322 80.5h1.5v1.5h-1.5zM324.8 82.5h1.5v1.5h-1.5zM324.6 87.2h1.5v1.5h-1.5zM320.8 87.8h1.5v1.5h-1.5zM324.2 82.6h1.5v1.5h-1.5zM326.1 83.7h1.5v1.5h-1.5zM222.6 75.9h1.8v1.8h-1.8zM135.4 28.7h1.8v1.8h-1.8zM61.9 66.3h1.8v1.8h-1.8zM99.8 68h1.8v1.8h-1.8zM278.5 53.2h1.8v1.8h-1.8zM226.7 69.8h1.8v1.8h-1.8zM251.8 72.4h1.8v1.8h-1.8zM301 75.9h1.8v1.8h-1.8zM322.8 76.8h1.8v1.8h-1.8zM165.2 75h1.8v1.8h-1.8zM196.8 76.8h1.8v1.8h-1.8z"/><line x1="35.9" y1="22.4" x2="35.9" y2="120" stroke="#aaa" stroke-width="1.1"/><line x1="31.9" y1="118.8" x2="35.9" y2="118.8" stroke="#777" stroke-width="0.9"/><text x="31.3" y="121.3" font-size="7" font-weight="bold" text-anchor="end" fill="#222">0</text><line x1="31.9" y1="101.3" x2="35.9" y2="101.3" stroke="#777" stroke-width="0.9"/><text x="31.3" y="103.8" font-size="7" font-weight="bold" text-anchor="end" fill="#222">2</text><line x1="31.9" y1="83.8" x2="35.9" y2="83.8" stroke="#777" stroke-width="0.9"/><text x="31.3" y="86.3" font-size="7" font-weight="bold" text-anchor="end" fill="#222">4</text><line x1="31.9" y1="66.3" x2="35.9" y2="66.3" stroke="#777" stroke-width="0.9"/><text x="31.3" y="68.8" font-size="7" font-weight="bold" text-anchor="end" fill="#222">6</text><line x1="31.9" y1="48.8" x2="35.9" y2="48.8" stroke="#777" stroke-width="0.9"/><text x="31.3" y="51.3" font-size="7" font-weight="bold" text-anchor="end" fill="#222">8</text><line x1="31.9" y1="31.3" x2="35.9" y2="31.3" stroke="#777" stroke-width="0.9"/><text x="31.3" y="33.8" font-size="7" font-weight="bold" text-anchor="end" fill="#222">10</text><line x1="35.9" y1="122.4" x2="327.6" y2="122.4" stroke="#c8c8c8" stroke-width="1.5"/><line x1="36.1" y1="122.4" x2="36.1" y2="128.4" stroke="#777" stroke-width="0.9"/><line x1="47.5" y1="122.4" x2="47.5" y2="127.4" stroke="#555" stroke-width="0.9"/><text x="47.5" y="134.7" font-size="7" font-weight="bold" text-anchor="middle" fill="#222">1</text><line x1="68.2" y1="122.4" x2="68.2" y2="127.4" stroke="#555" stroke-width="0.9"/><text x="68.2" y="134.7" font-size="7" font-weight="bold" text-anchor="middle" fill="#222">2</text><line x1="88.1" y1="122.4" x2="88.1" y2="127.4" stroke="#555" stroke-width="0.9"/><text x="88.1" y="134.7" font-size="7" font-weight="bold" text-anchor="middle" fill="#222">3</text><line x1="107" y1="122.4" x2="107" y2="127.4" stroke="#555" stroke-width="0.9"/><text x="107" y="134.7" font-size="7" font-weight="bold" text-anchor="middle" fill="#222">4</text><line x1="123.6" y1="122.4" x2="123.6" y2="127.4" stroke="#555" stroke-width="0.9"/><text x="123.6" y="134.7" font-size="7" font-weight="bold" text-anchor="middle" fill="#222">5</text><line x1="138.8" y1="122.4" x2="138.8" y2="127.4" stroke="#555" stroke-width="0.9"/><text x="138.8" y="134.7" font-size="7" font-weight="bold" text-anchor="middle" fill="#222">6</text><line x1="153.8" y1="122.4" x2="153.8" y2="127.4" stroke="#555" stroke-width="0.9"/><text x="153.8" y="134.7" font-size="7" font-weight="bold" text-anchor="middle" fill="#222">7</text><line x1="168.5" y1="122.4" x2="168.5" y2="127.4" stroke="#555" stroke-width="0.9"/><text x="168.5" y="134.7" font-size="7" font-weight="bold" text-anchor="middle" fill="#222">8</text><line x1="183.2" y1="122.4" x2="183.2" y2="127.4" stroke="#555" stroke-width="0.9"/><text x="183.2" y="134.7" font-size="7" font-weight="bold" text-anchor="middle" fill="#222">9</text><line x1="197.4" y1="122.4" x2="197.4" y2="127.4" stroke="#555" stroke-width="0.9"/><text x="197.4" y="134.7" font-size="7" font-weight="bold" text-anchor="middle" fill="#222">10</text><line x1="211.5" y1="122.4" x2="211.5" y2="127.4" stroke="#555" stroke-width="0.9"/><text x="211.5" y="134.7" font-size="7" font-weight="bold" text-anchor="middle" fill="#222">11</text><line x1="225.9" y1="122.4" x2="225.9" y2="127.4" stroke="#555" stroke-width="0.9"/><text x="225.9" y="134.7" font-size="7" font-weight="bold" text-anchor="middle" fill="#222">12</text><line x1="239.6" y1="122.4" x2="239.6" y2="127.4" stroke="#555" stroke-width="0.9"/><text x="239.6" y="134.7" font-size="7" font-weight="bold" text-anchor="middle" fill="#222">13</text><line x1="252.3" y1="122.4" x2="252.3" y2="127.4" stroke="#555" stroke-width="0.9"/><text x="252.3" y="134.7" font-size="7" font-weight="bold" text-anchor="middle" fill="#222">14</text><line x1="264.9" y1="122.4" x2="264.9" y2="127.4" stroke="#555" stroke-width="0.9"/><text x="264.9" y="134.7" font-size="7" font-weight="bold" text-anchor="middle" fill="#222">15</text><line x1="277.4" y1="122.4" x2="277.4" y2="127.4" stroke="#555" stroke-width="0.9"/><text x="277.4" y="134.7" font-size="7" font-weight="bold" text-anchor="middle" fill="#222">16</text><line x1="289.5" y1="122.4" x2="289.5" y2="127.4" stroke="#555" stroke-width="0.9"/><text x="289.5" y="134.7" font-size="7" font-weight="bold" text-anchor="middle" fill="#222">17</text><line x1="300.7" y1="122.4" x2="300.7" y2="127.4" stroke="#555" stroke-width="0.9"/><text x="300.7" y="134.7" font-size="7" font-weight="bold" text-anchor="middle" fill="#222">18</text><line x1="311.7" y1="122.4" x2="311.7" y2="127.4" stroke="#555" stroke-width="0.9"/><text x="311.7" y="134.7" font-size="7" font-weight="bold" text-anchor="middle" fill="#222">19</text><line x1="322.4" y1="122.4" x2="322.4" y2="127.4" stroke="#555" stroke-width="0.9"/><text x="322.4" y="134.7" font-size="7" font-weight="bold" text-anchor="middle" fill="#222">20</text><text x="26.7" y="134.7" font-size="7" font-weight="bold" fill="#222">Chr</text><line x1="35.9" y1="57.5" x2="327.6" y2="57.5" stroke="#444" stroke-width="0.8" stroke-dasharray="2 1.1"/><text x="153.7" y="15.9" font-size="11.5" letter-spacing="0.5" font-weight="bold" fill="#111">Bb−b−hap1</text><text x="31" y="10.6" font-size="14.4" font-weight="bold" fill="#111">A</text><text transform="translate(19.3 70.8) rotate(-90)" font-size="12.3" text-anchor="middle" fill="#222">−log<tspan font-size="8" dy="2">10</tspan><tspan dy="-2">(p)</tspan></text><rect x="374.6" y="77.9" width="20.3" height="41.6" fill="#6a9fd3"/><rect x="395.9" y="79.2" width="19.4" height="40.3" fill="#b8daed"/><rect x="416.4" y="77.9" width="18.9" height="41.6" fill="#6a9fd3"/><rect x="436.6" y="79.2" width="16.6" height="40.3" fill="#b8daed"/><rect x="454.5" y="77.9" width="13.7" height="41.6" fill="#6a9fd3"/><rect x="469.2" y="79.2" width="13.4" height="40.3" fill="#b8daed"/><rect x="483.9" y="77.9" width="13.9" height="41.6" fill="#6a9fd3"/><rect x="498.9" y="79.2" width="14.1" height="40.3" fill="#b8daed"/><rect x="514.1" y="77.9" width="13.4" height="41.6" fill="#6a9fd3"/><rect x="528.5" y="79.2" width="13.5" height="40.3" fill="#b8daed"/><rect x="543" y="77.9" width="12.1" height="41.6" fill="#6a9fd3"/><rect x="556.4" y="79.2" width="13.4" height="40.3" fill="#b8daed"/><rect x="570.9" y="77.9" width="13.1" height="41.6" fill="#6a9fd3"/><rect x="585" y="79.2" width="11.1" height="40.3" fill="#b8daed"/><rect x="597.1" y="77.9" width="12.1" height="41.6" fill="#6a9fd3"/><rect x="609.9" y="79.2" width="11.4" height="40.3" fill="#b8daed"/><rect x="622.2" y="77.9" width="10.6" height="41.6" fill="#6a9fd3"/><rect x="633.6" y="79.2" width="10.3" height="40.3" fill="#b8daed"/><rect x="644.9" y="77.9" width="9.8" height="41.6" fill="#6a9fd3"/><rect x="655.6" y="79.2" width="9.5" height="40.3" fill="#b8daed"/><path fill="#6a9fd3" d="M391.9 69.5h1.5v1.5h-1.5zM391.3 78.2h1.5v1.5h-1.5zM385.7 75.4h1.5v1.5h-1.5zM384.6 77.9h1.5v1.5h-1.5zM378.3 75.2h1.5v1.5h-1.5zM378.8 75.1h1.5v1.5h-1.5zM375.2 78.2h1.5v1.5h-1.5zM387.9 75.4h1.5v1.5h-1.5zM384.2 72h1.5v1.5h-1.5zM381.4 78.3h1.5v1.5h-1.5zM389.3 73.7h1.5v1.5h-1.5zM386.9 73.3h1.5v1.5h-1.5zM392.8 76h1.5v1.5h-1.5zM388.8 75.9h1.5v1.5h-1.5zM385.3 72.9h1.5v1.5h-1.5zM380.5 78.2h1.5v1.5h-1.5zM383.5 72.2h1.5v1.5h-1.5zM385.7 75.1h1.5v1.5h-1.5zM386.6 77.5h1.5v1.5h-1.5zM378 76.3h1.5v1.5h-1.5zM389.9 77.4h1.5v1.5h-1.5zM376.8 78.1h1.5v1.5h-1.5zM375.4 76.7h1.5v1.5h-1.5zM385.4 71h1.5v1.5h-1.5zM380.9 75.9h1.5v1.5h-1.5zM380.1 76.5h1.5v1.5h-1.5zM389.2 74.1h1.5v1.5h-1.5zM379.5 78h1.5v1.5h-1.5zM389.3 72.4h1.5v1.5h-1.5zM390.1 77.1h1.5v1.5h-1.5zM384.8 69.8h1.5v1.5h-1.5zM385.7 69.5h1.5v1.5h-1.5zM377.8 69.1h1.5v1.5h-1.5zM375.7 75.4h1.5v1.5h-1.5zM375.1 71.2h1.5v1.5h-1.5zM387.5 69.2h1.5v1.5h-1.5zM389.7 69.5h1.5v1.5h-1.5zM384.7 69h1.5v1.5h-1.5zM388.6 76.1h1.5v1.5h-1.5zM392.8 75.8h1.5v1.5h-1.5zM378.3 78.2h1.5v1.5h-1.5zM383.4 77.4h1.5v1.5h-1.5zM392.1 69.5h1.5v1.5h-1.5zM378.7 78h1.5v1.5h-1.5zM384.5 77.6h1.5v1.5h-1.5zM384.8 71.1h1.5v1.5h-1.5zM379.4 75.4h1.5v1.5h-1.5zM391.5 75.2h1.5v1.5h-1.5zM381.1 70.2h1.5v1.5h-1.5zM389.8 70.1h1.5v1.5h-1.5zM387.5 75.5h1.5v1.5h-1.5zM387.6 70.9h1.5v1.5h-1.5zM386.6 77h1.5v1.5h-1.5zM380.2 75.5h1.5v1.5h-1.5zM389.1 74h1.5v1.5h-1.5zM384.9 71h1.5v1.5h-1.5zM376.7 73.2h1.5v1.5h-1.5zM380.9 74h1.5v1.5h-1.5zM390.2 77h1.5v1.5h-1.5zM392.4 78.2h1.5v1.5h-1.5zM385.2 74.2h1.5v1.5h-1.5zM379.1 74h1.5v1.5h-1.5zM383.5 75.1h1.5v1.5h-1.5zM388.1 78.5h1.5v1.5h-1.5zM381.7 71.5h1.5v1.5h-1.5zM377.3 70.5h1.5v1.5h-1.5zM378.5 72.7h1.5v1.5h-1.5zM377.9 75.1h1.5v1.5h-1.5zM382.6 78.2h1.5v1.5h-1.5zM387.7 74.8h1.5v1.5h-1.5zM387.5 74.2h1.5v1.5h-1.5zM385 74.3h1.5v1.5h-1.5zM380.2 70.1h1.5v1.5h-1.5zM376.3 70.4h1.5v1.5h-1.5zM390.8 74.6h1.5v1.5h-1.5zM389.2 72.7h1.5v1.5h-1.5zM386 76.6h1.5v1.5h-1.5zM380.6 76.1h1.5v1.5h-1.5zM380.3 69.3h1.5v1.5h-1.5zM381 75.7h1.5v1.5h-1.5zM382.5 71.1h1.5v1.5h-1.5zM383.6 74h1.5v1.5h-1.5zM379.5 76.7h1.5v1.5h-1.5zM376.4 77.2h1.5v1.5h-1.5zM379.6 70.7h1.5v1.5h-1.5zM384 78h1.5v1.5h-1.5zM383.3 77.9h1.5v1.5h-1.5zM385.2 75.2h1.5v1.5h-1.5zM390.7 76.9h1.5v1.5h-1.5zM390.5 77h1.5v1.5h-1.5zM393 73.2h1.5v1.5h-1.5zM375.5 71.2h1.5v1.5h-1.5zM379.8 76h1.5v1.5h-1.5zM377.4 70.8h1.5v1.5h-1.5zM376.4 72h1.5v1.5h-1.5zM382.1 72.7h1.5v1.5h-1.5zM380.2 78.2h1.5v1.5h-1.5zM391.7 72.9h1.5v1.5h-1.5zM377.9 69.1h1.5v1.5h-1.5zM391.7 77.5h1.5v1.5h-1.5zM375.1 73.4h1.5v1.5h-1.5zM377.3 72.1h1.5v1.5h-1.5zM383.4 72.3h1.5v1.5h-1.5zM385.3 71.6h1.5v1.5h-1.5zM390 73.5h1.5v1.5h-1.5zM385.7 76.3h1.5v1.5h-1.5zM377.2 78.1h1.5v1.5h-1.5zM390.6 77.3h1.5v1.5h-1.5zM382.6 76.4h1.5v1.5h-1.5zM386.2 74.3h1.5v1.5h-1.5zM390.7 75.3h1.5v1.5h-1.5zM381.4 73h1.5v1.5h-1.5zM388.6 69.8h1.5v1.5h-1.5zM380.5 70.2h1.5v1.5h-1.5zM393 69.1h1.5v1.5h-1.5zM377.1 75.8h1.5v1.5h-1.5zM389.1 70.9h1.5v1.5h-1.5zM375.4 75.6h1.5v1.5h-1.5zM388.2 71.8h1.5v1.5h-1.5zM384.7 77.3h1.5v1.5h-1.5zM382.3 78.3h1.5v1.5h-1.5zM380.6 75.3h1.5v1.5h-1.5zM390 73.7h1.5v1.5h-1.5zM382.4 77h1.5v1.5h-1.5zM380.6 72.8h1.5v1.5h-1.5zM383 77.6h1.5v1.5h-1.5zM390 73.8h1.5v1.5h-1.5zM392.7 74.2h1.5v1.5h-1.5zM386.3 75.3h1.5v1.5h-1.5zM386 69.8h1.5v1.5h-1.5zM393 72.9h1.5v1.5h-1.5zM382.7 78.3h1.5v1.5h-1.5zM390.3 75.7h1.5v1.5h-1.5zM381.8 78.3h1.5v1.5h-1.5zM375.3 75.7h1.5v1.5h-1.5zM392.8 72h1.5v1.5h-1.5zM387.9 72.8h1.5v1.5h-1.5zM379.8 77.6h1.5v1.5h-1.5zM385.9 78.3h1.5v1.5h-1.5zM385.6 74.5h1.5v1.5h-1.5zM384.8 77.9h1.5v1.5h-1.5zM376 74.9h1.5v1.5h-1.5zM377.4 73.1h1.5v1.5h-1.5zM380.5 73.3h1.5v1.5h-1.5zM388.7 73.5h1.5v1.5h-1.5zM384.6 77.4h1.5v1.5h-1.5zM381.2 69.1h1.5v1.5h-1.5zM379.7 76.7h1.5v1.5h-1.5zM383.9 74.1h1.5v1.5h-1.5zM389.4 76.6h1.5v1.5h-1.5zM392.6 78.5h1.5v1.5h-1.5zM389.4 73.9h1.5v1.5h-1.5zM391.5 77.7h1.5v1.5h-1.5zM387.5 69.5h1.5v1.5h-1.5zM387.1 78h1.5v1.5h-1.5zM391.8 69.2h1.5v1.5h-1.5zM376.8 71h1.5v1.5h-1.5zM376.2 78.2h1.5v1.5h-1.5zM389.5 72.2h1.5v1.5h-1.5zM392.5 73.2h1.5v1.5h-1.5zM384.2 76.8h1.5v1.5h-1.5zM385.4 68.9h1.5v1.5h-1.5zM386.7 70.4h1.5v1.5h-1.5zM378.4 72h1.5v1.5h-1.5zM388.3 78.2h1.5v1.5h-1.5zM390 77.5h1.5v1.5h-1.5zM378.7 78.3h1.5v1.5h-1.5zM387 77.8h1.5v1.5h-1.5zM392.8 78.6h1.5v1.5h-1.5zM389.8 71.8h1.5v1.5h-1.5zM385.3 73.9h1.5v1.5h-1.5zM389.5 73.2h1.5v1.5h-1.5zM377.3 71.3h1.5v1.5h-1.5zM381.3 73.7h1.5v1.5h-1.5zM384.2 63.1h1.5v1.5h-1.5zM382.4 64.9h1.5v1.5h-1.5zM376.2 71.4h1.5v1.5h-1.5zM387.2 69.1h1.5v1.5h-1.5zM390.2 72.1h1.5v1.5h-1.5zM389.7 66.3h1.5v1.5h-1.5zM377.4 72.4h1.5v1.5h-1.5zM385.5 57.3h1.5v1.5h-1.5zM386.1 70.7h1.5v1.5h-1.5zM384.1 66h1.5v1.5h-1.5zM384.4 69.8h1.5v1.5h-1.5zM385.7 61.6h1.5v1.5h-1.5zM389.6 65.3h1.5v1.5h-1.5zM379.7 69.2h1.5v1.5h-1.5zM390 67.7h1.5v1.5h-1.5zM392.4 62.6h1.5v1.5h-1.5zM377.1 70.1h1.5v1.5h-1.5zM381.4 72.1h1.5v1.5h-1.5zM384 55.6h1.5v1.5h-1.5zM389 72.6h1.5v1.5h-1.5zM379.3 67.4h1.5v1.5h-1.5zM391.2 66.7h1.5v1.5h-1.5zM377.7 65.8h1.5v1.5h-1.5zM379.3 69.5h1.5v1.5h-1.5zM385.7 46.9h1.5v1.5h-1.5zM429.9 77.5h1.5v1.5h-1.5zM432 70.6h1.5v1.5h-1.5zM433 67.2h1.5v1.5h-1.5zM419.2 70.8h1.5v1.5h-1.5zM416.9 77.2h1.5v1.5h-1.5zM425.7 76.8h1.5v1.5h-1.5zM420.3 75.5h1.5v1.5h-1.5zM424.4 68h1.5v1.5h-1.5zM426.5 73.1h1.5v1.5h-1.5zM428.9 77.2h1.5v1.5h-1.5zM430.3 70.3h1.5v1.5h-1.5zM430.5 74.4h1.5v1.5h-1.5zM425.8 78.1h1.5v1.5h-1.5zM424.4 71.9h1.5v1.5h-1.5zM432.8 68.3h1.5v1.5h-1.5zM422.3 70.4h1.5v1.5h-1.5zM431.2 67.4h1.5v1.5h-1.5zM428.2 75.8h1.5v1.5h-1.5zM431.5 78.5h1.5v1.5h-1.5zM426.3 74.3h1.5v1.5h-1.5zM431.7 72.2h1.5v1.5h-1.5zM420 77.4h1.5v1.5h-1.5zM417.1 70.4h1.5v1.5h-1.5zM430 75.3h1.5v1.5h-1.5zM420.3 73h1.5v1.5h-1.5zM419.9 73.4h1.5v1.5h-1.5zM422.4 75.9h1.5v1.5h-1.5zM428.4 76.6h1.5v1.5h-1.5zM422.2 73h1.5v1.5h-1.5zM432.7 77.6h1.5v1.5h-1.5zM421.8 76.4h1.5v1.5h-1.5zM421.9 73.9h1.5v1.5h-1.5zM430.6 77.3h1.5v1.5h-1.5zM428.9 74.6h1.5v1.5h-1.5zM426.3 73.7h1.5v1.5h-1.5zM426.9 77.3h1.5v1.5h-1.5zM427.1 74.9h1.5v1.5h-1.5zM430 72.5h1.5v1.5h-1.5zM423.5 67h1.5v1.5h-1.5zM419.6 78.5h1.5v1.5h-1.5zM418.6 71.3h1.5v1.5h-1.5zM418.1 70.7h1.5v1.5h-1.5zM418 76.1h1.5v1.5h-1.5zM427.2 78.5h1.5v1.5h-1.5zM423.9 66.8h1.5v1.5h-1.5zM429 75.1h1.5v1.5h-1.5zM432.1 72.9h1.5v1.5h-1.5zM430.4 75.6h1.5v1.5h-1.5zM423.1 71.1h1.5v1.5h-1.5zM429.6 71.2h1.5v1.5h-1.5zM419.1 74.7h1.5v1.5h-1.5zM422 76.8h1.5v1.5h-1.5zM418.5 70.5h1.5v1.5h-1.5zM418.9 75.5h1.5v1.5h-1.5zM416.8 71.1h1.5v1.5h-1.5zM427.3 78.1h1.5v1.5h-1.5zM432.8 66.8h1.5v1.5h-1.5zM429.4 69.7h1.5v1.5h-1.5zM428.6 78.5h1.5v1.5h-1.5zM421.2 76.7h1.5v1.5h-1.5zM416.9 72h1.5v1.5h-1.5zM426.7 75.4h1.5v1.5h-1.5zM429.4 76.8h1.5v1.5h-1.5zM421.3 77.8h1.5v1.5h-1.5zM420.5 69h1.5v1.5h-1.5zM424.9 70.6h1.5v1.5h-1.5zM431.4 71.6h1.5v1.5h-1.5zM422.7 67.3h1.5v1.5h-1.5zM417.9 74.8h1.5v1.5h-1.5zM431.7 71.4h1.5v1.5h-1.5zM422.6 69.3h1.5v1.5h-1.5zM429.5 70.8h1.5v1.5h-1.5zM421.1 71.4h1.5v1.5h-1.5zM427.8 69.2h1.5v1.5h-1.5zM425.3 67.8h1.5v1.5h-1.5zM428.9 77h1.5v1.5h-1.5zM426.4 77.1h1.5v1.5h-1.5zM427.1 75.8h1.5v1.5h-1.5zM433.7 75.6h1.5v1.5h-1.5zM430.1 69.2h1.5v1.5h-1.5zM422.9 72.6h1.5v1.5h-1.5zM420.5 75.3h1.5v1.5h-1.5zM424.1 71h1.5v1.5h-1.5zM425.2 77.5h1.5v1.5h-1.5zM427.7 73.6h1.5v1.5h-1.5zM425.5 74.4h1.5v1.5h-1.5zM431.4 71.8h1.5v1.5h-1.5zM427.9 73.8h1.5v1.5h-1.5zM423.4 74.7h1.5v1.5h-1.5zM428.2 74.5h1.5v1.5h-1.5zM417.7 76.9h1.5v1.5h-1.5zM417.4 78.3h1.5v1.5h-1.5zM422.7 75.2h1.5v1.5h-1.5zM424.4 77.1h1.5v1.5h-1.5zM420.5 74.4h1.5v1.5h-1.5zM421.5 76.5h1.5v1.5h-1.5zM425 70.3h1.5v1.5h-1.5zM417.5 78.5h1.5v1.5h-1.5zM424.2 68.4h1.5v1.5h-1.5zM427.4 75.4h1.5v1.5h-1.5zM433.2 71.4h1.5v1.5h-1.5zM430.7 69.1h1.5v1.5h-1.5zM417.2 77.1h1.5v1.5h-1.5zM430.1 75.1h1.5v1.5h-1.5zM432 78.2h1.5v1.5h-1.5zM432.6 72.2h1.5v1.5h-1.5zM423.6 69.3h1.5v1.5h-1.5zM425.7 74.3h1.5v1.5h-1.5zM419.7 70h1.5v1.5h-1.5zM419 76.1h1.5v1.5h-1.5zM418 78.5h1.5v1.5h-1.5zM421.6 78.3h1.5v1.5h-1.5zM424.6 75.6h1.5v1.5h-1.5zM416.8 74.2h1.5v1.5h-1.5zM421.4 76.8h1.5v1.5h-1.5zM425.8 75.7h1.5v1.5h-1.5zM417.4 67.8h1.5v1.5h-1.5zM433.2 76.7h1.5v1.5h-1.5zM427.8 72.7h1.5v1.5h-1.5zM420.8 73.3h1.5v1.5h-1.5zM421.1 76.4h1.5v1.5h-1.5zM424.3 78.3h1.5v1.5h-1.5zM420.5 67h1.5v1.5h-1.5zM429.7 75.7h1.5v1.5h-1.5zM433.6 75.8h1.5v1.5h-1.5zM431.1 75.8h1.5v1.5h-1.5zM431.9 74.4h1.5v1.5h-1.5zM431.5 77.7h1.5v1.5h-1.5zM423.3 75.6h1.5v1.5h-1.5zM429.9 68.8h1.5v1.5h-1.5zM418.8 74.9h1.5v1.5h-1.5zM419.5 78.2h1.5v1.5h-1.5zM418.7 78.2h1.5v1.5h-1.5zM421.7 74.6h1.5v1.5h-1.5zM432.1 71.8h1.5v1.5h-1.5zM429.6 75.8h1.5v1.5h-1.5zM422 74.8h1.5v1.5h-1.5zM420.5 78.5h1.5v1.5h-1.5zM421.2 67.9h1.5v1.5h-1.5zM417.4 73.7h1.5v1.5h-1.5zM420.5 70.3h1.5v1.5h-1.5zM417.2 73.6h1.5v1.5h-1.5zM429 74.2h1.5v1.5h-1.5zM419 68.4h1.5v1.5h-1.5zM416.8 67.9h1.5v1.5h-1.5zM430.6 68.5h1.5v1.5h-1.5zM431.4 75.3h1.5v1.5h-1.5zM427.3 74.1h1.5v1.5h-1.5zM426.6 75.2h1.5v1.5h-1.5zM431.2 76h1.5v1.5h-1.5zM426.2 78.2h1.5v1.5h-1.5zM417.5 68.5h1.5v1.5h-1.5zM422.6 75.3h1.5v1.5h-1.5zM433.5 70.8h1.5v1.5h-1.5zM419.2 73.2h1.5v1.5h-1.5zM424.8 72.4h1.5v1.5h-1.5zM421.2 76.3h1.5v1.5h-1.5zM432.7 72.5h1.5v1.5h-1.5zM426 71.3h1.5v1.5h-1.5zM429.4 77.3h1.5v1.5h-1.5zM430 74h1.5v1.5h-1.5zM419.1 75.9h1.5v1.5h-1.5zM433.5 69.1h1.5v1.5h-1.5zM432 73.8h1.5v1.5h-1.5zM427.4 75h1.5v1.5h-1.5zM429.1 73.3h1.5v1.5h-1.5zM422.6 67.1h1.5v1.5h-1.5zM425.1 78.4h1.5v1.5h-1.5zM430.5 78h1.5v1.5h-1.5zM421.3 74.3h1.5v1.5h-1.5zM420.1 74.4h1.5v1.5h-1.5zM424.1 73.4h1.5v1.5h-1.5zM427.7 71.3h1.5v1.5h-1.5zM417.4 76.7h1.5v1.5h-1.5zM418.5 75.7h1.5v1.5h-1.5zM424.4 69h1.5v1.5h-1.5zM416.7 69.6h1.5v1.5h-1.5zM419.2 70.6h1.5v1.5h-1.5zM431.1 67h1.5v1.5h-1.5zM426.4 78.3h1.5v1.5h-1.5zM421.4 74.6h1.5v1.5h-1.5zM428.1 67.2h1.5v1.5h-1.5zM431.6 78.2h1.5v1.5h-1.5zM418.7 71.8h1.5v1.5h-1.5zM420.1 72.7h1.5v1.5h-1.5zM425.3 73.2h1.5v1.5h-1.5zM422.5 68.1h1.5v1.5h-1.5zM421.5 75.4h1.5v1.5h-1.5zM419.3 76.2h1.5v1.5h-1.5zM418.8 72h1.5v1.5h-1.5zM416.9 76.7h1.5v1.5h-1.5zM430.4 69h1.5v1.5h-1.5zM422.3 70.7h1.5v1.5h-1.5zM430.4 71.8h1.5v1.5h-1.5zM427.2 70.4h1.5v1.5h-1.5zM422 75.8h1.5v1.5h-1.5zM420.9 76.8h1.5v1.5h-1.5zM425.3 68.8h1.5v1.5h-1.5zM419.8 71.7h1.5v1.5h-1.5zM416.9 71h1.5v1.5h-1.5zM419.2 67.9h1.5v1.5h-1.5zM430.5 68.8h1.5v1.5h-1.5zM427.6 69.7h1.5v1.5h-1.5zM417.8 66.2h1.5v1.5h-1.5zM429.7 71.4h1.5v1.5h-1.5zM421.8 67.2h1.5v1.5h-1.5zM428.6 71.3h1.5v1.5h-1.5zM423.2 70h1.5v1.5h-1.5zM425.9 64.8h1.5v1.5h-1.5zM419 70h1.5v1.5h-1.5zM432.4 71.2h1.5v1.5h-1.5zM419.5 65.5h1.5v1.5h-1.5zM427.2 69.3h1.5v1.5h-1.5zM424.4 71.8h1.5v1.5h-1.5zM427.5 70.7h1.5v1.5h-1.5zM424.1 55.1h1.5v1.5h-1.5zM425 65.5h1.5v1.5h-1.5zM422.6 66.3h1.5v1.5h-1.5zM427.1 61.8h1.5v1.5h-1.5zM460.1 74.1h1.5v1.5h-1.5zM460.3 72.8h1.5v1.5h-1.5zM457.2 74.8h1.5v1.5h-1.5zM460.4 78.5h1.5v1.5h-1.5zM461.5 78.2h1.5v1.5h-1.5zM461.3 78.2h1.5v1.5h-1.5zM456.8 73.6h1.5v1.5h-1.5zM463.7 65.2h1.5v1.5h-1.5zM463.8 68.1h1.5v1.5h-1.5zM459.8 72.8h1.5v1.5h-1.5zM461.2 65.5h1.5v1.5h-1.5zM464.8 78.5h1.5v1.5h-1.5zM462.9 69.7h1.5v1.5h-1.5zM465.3 66.2h1.5v1.5h-1.5zM459.4 74.2h1.5v1.5h-1.5zM457.4 77h1.5v1.5h-1.5zM465.1 69.3h1.5v1.5h-1.5zM464.6 75.4h1.5v1.5h-1.5zM463.8 78.5h1.5v1.5h-1.5zM460.6 75.6h1.5v1.5h-1.5zM458.2 65.1h1.5v1.5h-1.5zM454.6 65.7h1.5v1.5h-1.5zM462.6 65.1h1.5v1.5h-1.5zM459.5 66.7h1.5v1.5h-1.5zM461.2 71.9h1.5v1.5h-1.5zM462.1 76.2h1.5v1.5h-1.5zM461.9 77.1h1.5v1.5h-1.5zM455 69.7h1.5v1.5h-1.5zM454.9 66.3h1.5v1.5h-1.5zM457.3 66.5h1.5v1.5h-1.5zM458.3 69.7h1.5v1.5h-1.5zM458.7 70.1h1.5v1.5h-1.5zM456.8 76.6h1.5v1.5h-1.5zM457.8 65.3h1.5v1.5h-1.5zM465.4 74.6h1.5v1.5h-1.5zM466.1 66.1h1.5v1.5h-1.5zM456.3 71.3h1.5v1.5h-1.5zM457.1 75.1h1.5v1.5h-1.5zM458.3 76.6h1.5v1.5h-1.5zM461.6 76.7h1.5v1.5h-1.5zM458.6 77.5h1.5v1.5h-1.5zM457.8 68.8h1.5v1.5h-1.5zM458 65.5h1.5v1.5h-1.5zM455.9 78.4h1.5v1.5h-1.5zM457.6 72.8h1.5v1.5h-1.5zM458.3 74.4h1.5v1.5h-1.5zM463.6 70.6h1.5v1.5h-1.5zM457.5 67h1.5v1.5h-1.5zM458.9 72h1.5v1.5h-1.5zM458.9 69.1h1.5v1.5h-1.5zM461.5 73.1h1.5v1.5h-1.5zM456.7 78.1h1.5v1.5h-1.5zM457.7 67.5h1.5v1.5h-1.5zM465.7 74.3h1.5v1.5h-1.5zM455.5 76.9h1.5v1.5h-1.5zM465.8 77.6h1.5v1.5h-1.5zM459.6 78.1h1.5v1.5h-1.5zM460.6 75.1h1.5v1.5h-1.5zM466.4 65.2h1.5v1.5h-1.5zM460.6 67.8h1.5v1.5h-1.5zM462.7 73.6h1.5v1.5h-1.5zM463.8 78.4h1.5v1.5h-1.5zM456.6 68h1.5v1.5h-1.5zM460.8 70.3h1.5v1.5h-1.5zM461.9 67.7h1.5v1.5h-1.5zM457.6 77.1h1.5v1.5h-1.5zM458.1 67.2h1.5v1.5h-1.5zM460.6 69h1.5v1.5h-1.5zM463.9 75.2h1.5v1.5h-1.5zM463.4 68.6h1.5v1.5h-1.5zM460.7 72.7h1.5v1.5h-1.5zM460.3 73.7h1.5v1.5h-1.5zM457.1 71.9h1.5v1.5h-1.5zM464.9 76.3h1.5v1.5h-1.5zM459.6 74.8h1.5v1.5h-1.5zM458.2 66.2h1.5v1.5h-1.5zM463.3 78h1.5v1.5h-1.5zM460.8 75.1h1.5v1.5h-1.5zM459 77.8h1.5v1.5h-1.5zM461.8 75h1.5v1.5h-1.5zM462.7 77.7h1.5v1.5h-1.5zM460.8 73.8h1.5v1.5h-1.5zM462.3 78.2h1.5v1.5h-1.5zM464.1 72.7h1.5v1.5h-1.5zM457.6 77.2h1.5v1.5h-1.5zM464.4 78.5h1.5v1.5h-1.5zM461.6 75.6h1.5v1.5h-1.5zM458.7 65.5h1.5v1.5h-1.5zM456.3 77h1.5v1.5h-1.5zM454.7 74.9h1.5v1.5h-1.5zM455.5 78.3h1.5v1.5h-1.5zM462.8 65.9h1.5v1.5h-1.5zM456.6 71.5h1.5v1.5h-1.5zM466.2 77.1h1.5v1.5h-1.5zM456.5 73h1.5v1.5h-1.5zM455.2 71.9h1.5v1.5h-1.5zM464.6 67h1.5v1.5h-1.5zM456 72.2h1.5v1.5h-1.5zM460.6 73.7h1.5v1.5h-1.5zM456.8 71.5h1.5v1.5h-1.5zM456.4 70.3h1.5v1.5h-1.5zM455.7 78.6h1.5v1.5h-1.5zM464.9 75.2h1.5v1.5h-1.5zM459.5 72.8h1.5v1.5h-1.5zM460.3 78.5h1.5v1.5h-1.5zM464.4 65.3h1.5v1.5h-1.5zM458.2 75.9h1.5v1.5h-1.5zM457.9 70.6h1.5v1.5h-1.5zM460.9 72.2h1.5v1.5h-1.5zM461.9 76.2h1.5v1.5h-1.5zM460.8 72.6h1.5v1.5h-1.5zM462.1 70.9h1.5v1.5h-1.5zM466.4 77.6h1.5v1.5h-1.5zM460.7 71.7h1.5v1.5h-1.5zM456.5 74.8h1.5v1.5h-1.5zM457.5 72.4h1.5v1.5h-1.5zM463 76.1h1.5v1.5h-1.5zM460.1 76.8h1.5v1.5h-1.5zM459.5 65.1h1.5v1.5h-1.5zM465.2 74.9h1.5v1.5h-1.5zM458.7 77.1h1.5v1.5h-1.5zM465.2 66.2h1.5v1.5h-1.5zM455.2 73.8h1.5v1.5h-1.5zM459.4 76.4h1.5v1.5h-1.5zM462.6 67.9h1.5v1.5h-1.5zM459 65.3h1.5v1.5h-1.5zM461.9 76.4h1.5v1.5h-1.5zM462.8 77.6h1.5v1.5h-1.5zM459.6 71.9h1.5v1.5h-1.5zM456.8 77.8h1.5v1.5h-1.5zM459.2 67.4h1.5v1.5h-1.5zM457 73.4h1.5v1.5h-1.5zM461.9 77h1.5v1.5h-1.5zM459.1 67.3h1.5v1.5h-1.5zM464.1 72.2h1.5v1.5h-1.5zM462.1 78.5h1.5v1.5h-1.5zM457.4 75h1.5v1.5h-1.5zM455.3 73.7h1.5v1.5h-1.5zM462 70.5h1.5v1.5h-1.5zM461.9 72.9h1.5v1.5h-1.5zM464.7 76.4h1.5v1.5h-1.5zM458.2 76.5h1.5v1.5h-1.5zM458.2 67.2h1.5v1.5h-1.5zM460.1 66.5h1.5v1.5h-1.5zM460.4 74.6h1.5v1.5h-1.5zM462 78.4h1.5v1.5h-1.5zM460.4 75.1h1.5v1.5h-1.5zM460.4 74.3h1.5v1.5h-1.5zM462.6 70.8h1.5v1.5h-1.5zM454.6 72.7h1.5v1.5h-1.5zM459.6 74.8h1.5v1.5h-1.5zM456.8 68.2h1.5v1.5h-1.5zM456.7 76.2h1.5v1.5h-1.5zM458.5 66.5h1.5v1.5h-1.5zM460.4 77.3h1.5v1.5h-1.5zM457.2 75.6h1.5v1.5h-1.5zM464.5 78.5h1.5v1.5h-1.5zM457.5 69.6h1.5v1.5h-1.5zM455.6 71.8h1.5v1.5h-1.5zM464.7 73.6h1.5v1.5h-1.5zM463 72.1h1.5v1.5h-1.5zM465.2 65.5h1.5v1.5h-1.5zM461.7 69.6h1.5v1.5h-1.5zM463.1 67.9h1.5v1.5h-1.5zM459.5 66.7h1.5v1.5h-1.5zM459.6 62.9h1.5v1.5h-1.5zM464.4 69.4h1.5v1.5h-1.5zM461.1 52.8h1.5v1.5h-1.5zM463.4 70.1h1.5v1.5h-1.5zM460.4 70.8h1.5v1.5h-1.5zM457.8 64.2h1.5v1.5h-1.5zM456.7 67.1h1.5v1.5h-1.5zM463.7 58h1.5v1.5h-1.5zM459.7 70.9h1.5v1.5h-1.5zM459.7 66.7h1.5v1.5h-1.5zM463.7 62.9h1.5v1.5h-1.5zM455.4 68.7h1.5v1.5h-1.5zM463.4 64.8h1.5v1.5h-1.5zM464.3 46.8h1.5v1.5h-1.5zM458.5 61.8h1.5v1.5h-1.5zM485.8 78.4h1.5v1.5h-1.5zM484.3 77.3h1.5v1.5h-1.5zM494 75.8h1.5v1.5h-1.5zM495.1 70.5h1.5v1.5h-1.5zM493.8 66.9h1.5v1.5h-1.5zM491.9 71.3h1.5v1.5h-1.5zM493.9 71.4h1.5v1.5h-1.5zM489.2 71.2h1.5v1.5h-1.5zM485 69.7h1.5v1.5h-1.5zM484.8 67.3h1.5v1.5h-1.5zM492.2 67.3h1.5v1.5h-1.5zM491.8 74.8h1.5v1.5h-1.5zM490.1 74.3h1.5v1.5h-1.5zM485.1 69h1.5v1.5h-1.5zM486.1 76.9h1.5v1.5h-1.5zM488 71h1.5v1.5h-1.5zM489 75.9h1.5v1.5h-1.5zM491.1 75.9h1.5v1.5h-1.5zM486.2 69.5h1.5v1.5h-1.5zM489.5 71.1h1.5v1.5h-1.5zM484.3 66.7h1.5v1.5h-1.5zM486.2 73h1.5v1.5h-1.5zM486.1 75.7h1.5v1.5h-1.5zM493.5 73.4h1.5v1.5h-1.5zM496 77.8h1.5v1.5h-1.5zM494.7 67.8h1.5v1.5h-1.5zM488 67.7h1.5v1.5h-1.5zM487.4 70.8h1.5v1.5h-1.5zM488 73.3h1.5v1.5h-1.5zM491.7 68.7h1.5v1.5h-1.5zM487.9 78.1h1.5v1.5h-1.5zM487.4 70.3h1.5v1.5h-1.5zM488.1 74.2h1.5v1.5h-1.5zM492 74.8h1.5v1.5h-1.5zM494.8 74.8h1.5v1.5h-1.5zM489.9 68.4h1.5v1.5h-1.5zM484.7 75.1h1.5v1.5h-1.5zM492.2 71.5h1.5v1.5h-1.5zM489.4 74.4h1.5v1.5h-1.5zM495.1 68h1.5v1.5h-1.5zM487.2 74.4h1.5v1.5h-1.5zM484.1 77.9h1.5v1.5h-1.5zM488.3 75.2h1.5v1.5h-1.5zM492.6 77.6h1.5v1.5h-1.5zM489.5 68.8h1.5v1.5h-1.5zM485.5 76.9h1.5v1.5h-1.5zM488.3 72.6h1.5v1.5h-1.5zM495.5 77h1.5v1.5h-1.5zM489.5 72.3h1.5v1.5h-1.5zM494 67.7h1.5v1.5h-1.5zM495 77.4h1.5v1.5h-1.5zM488.1 78.3h1.5v1.5h-1.5zM484.4 74.9h1.5v1.5h-1.5zM489.3 72.1h1.5v1.5h-1.5zM495.5 77.8h1.5v1.5h-1.5zM495.8 70.8h1.5v1.5h-1.5zM485.6 71.1h1.5v1.5h-1.5zM485.5 78.2h1.5v1.5h-1.5zM492 77.6h1.5v1.5h-1.5zM492.1 74.5h1.5v1.5h-1.5zM492.1 75.8h1.5v1.5h-1.5zM491.5 78h1.5v1.5h-1.5zM494.5 69.5h1.5v1.5h-1.5zM488.4 71.6h1.5v1.5h-1.5zM485.1 71.9h1.5v1.5h-1.5zM486.9 67h1.5v1.5h-1.5zM485.5 78.4h1.5v1.5h-1.5zM494.9 71.1h1.5v1.5h-1.5zM491.6 78h1.5v1.5h-1.5zM489.4 70.5h1.5v1.5h-1.5zM484.9 69.5h1.5v1.5h-1.5zM491.2 77.7h1.5v1.5h-1.5zM490.4 74.7h1.5v1.5h-1.5zM493.7 72.8h1.5v1.5h-1.5zM494.2 70.1h1.5v1.5h-1.5zM490.1 77.1h1.5v1.5h-1.5zM496.1 75.8h1.5v1.5h-1.5zM491.7 68.9h1.5v1.5h-1.5zM486.3 78.3h1.5v1.5h-1.5zM493.6 70.5h1.5v1.5h-1.5zM486 76h1.5v1.5h-1.5zM491.6 72.8h1.5v1.5h-1.5zM494.4 73.9h1.5v1.5h-1.5zM486.3 70h1.5v1.5h-1.5zM489.1 76.4h1.5v1.5h-1.5zM485.7 76.5h1.5v1.5h-1.5zM485.5 77.5h1.5v1.5h-1.5zM490.3 77.9h1.5v1.5h-1.5zM486.2 70.9h1.5v1.5h-1.5zM486.2 70.1h1.5v1.5h-1.5zM484.2 75.9h1.5v1.5h-1.5zM485.8 73.1h1.5v1.5h-1.5zM489.9 70.2h1.5v1.5h-1.5zM489.3 68.7h1.5v1.5h-1.5zM484.7 72.3h1.5v1.5h-1.5zM484.7 75.6h1.5v1.5h-1.5zM495.1 76.7h1.5v1.5h-1.5zM484.7 66.7h1.5v1.5h-1.5zM484.2 72.3h1.5v1.5h-1.5zM485.8 72.2h1.5v1.5h-1.5zM494.1 77.8h1.5v1.5h-1.5zM495.2 71.2h1.5v1.5h-1.5zM485.5 77.2h1.5v1.5h-1.5zM488.8 69.7h1.5v1.5h-1.5zM494.6 77.2h1.5v1.5h-1.5zM494.6 72.1h1.5v1.5h-1.5zM484.4 73.2h1.5v1.5h-1.5zM487.4 72.7h1.5v1.5h-1.5zM493.5 77.8h1.5v1.5h-1.5zM484.9 78.3h1.5v1.5h-1.5zM490.6 70.4h1.5v1.5h-1.5zM487.3 70.6h1.5v1.5h-1.5zM494.6 73.8h1.5v1.5h-1.5zM485.2 78.5h1.5v1.5h-1.5zM485.3 70.2h1.5v1.5h-1.5zM494 78.5h1.5v1.5h-1.5zM491.8 67.7h1.5v1.5h-1.5zM487.6 67h1.5v1.5h-1.5zM493.6 77.1h1.5v1.5h-1.5zM486.3 68.9h1.5v1.5h-1.5zM487.6 78.4h1.5v1.5h-1.5zM484.2 71.2h1.5v1.5h-1.5zM492.3 77.3h1.5v1.5h-1.5zM495.1 75.4h1.5v1.5h-1.5zM487 76.6h1.5v1.5h-1.5zM492 70h1.5v1.5h-1.5zM494.5 78.2h1.5v1.5h-1.5zM491.7 75.7h1.5v1.5h-1.5zM485 71.6h1.5v1.5h-1.5zM486.1 78.1h1.5v1.5h-1.5zM495.9 78.3h1.5v1.5h-1.5zM489.9 75h1.5v1.5h-1.5zM486.1 66.6h1.5v1.5h-1.5zM484.8 78.2h1.5v1.5h-1.5zM487.9 72.5h1.5v1.5h-1.5zM490.8 70.8h1.5v1.5h-1.5zM491 74h1.5v1.5h-1.5zM496 77.9h1.5v1.5h-1.5zM489.7 75.8h1.5v1.5h-1.5zM495.9 73.7h1.5v1.5h-1.5zM490.1 69.7h1.5v1.5h-1.5zM496.1 71.3h1.5v1.5h-1.5zM484.5 77.5h1.5v1.5h-1.5zM485.6 78.3h1.5v1.5h-1.5zM484.4 67.2h1.5v1.5h-1.5zM489 70.2h1.5v1.5h-1.5zM487.2 77h1.5v1.5h-1.5zM496 78.1h1.5v1.5h-1.5zM494.6 71.6h1.5v1.5h-1.5zM489.8 69.4h1.5v1.5h-1.5zM490.9 67.9h1.5v1.5h-1.5zM485.5 63.3h1.5v1.5h-1.5zM486.5 70.6h1.5v1.5h-1.5zM484.6 70.8h1.5v1.5h-1.5zM491.1 69.1h1.5v1.5h-1.5zM495.6 64.6h1.5v1.5h-1.5zM488.3 70.3h1.5v1.5h-1.5zM490.1 70.5h1.5v1.5h-1.5zM488.4 67.4h1.5v1.5h-1.5zM486.7 59.4h1.5v1.5h-1.5zM494.8 67.1h1.5v1.5h-1.5zM492.8 40.3h1.5v1.5h-1.5zM489.8 65h1.5v1.5h-1.5zM491.9 60.3h1.5v1.5h-1.5zM522.5 77.3h1.5v1.5h-1.5zM517.3 77.6h1.5v1.5h-1.5zM524.4 78.5h1.5v1.5h-1.5zM524.9 73.1h1.5v1.5h-1.5zM517.7 75h1.5v1.5h-1.5zM515.5 73.7h1.5v1.5h-1.5zM515.4 71.2h1.5v1.5h-1.5zM519 74.3h1.5v1.5h-1.5zM525.5 71.9h1.5v1.5h-1.5zM523.8 74.5h1.5v1.5h-1.5zM518.6 75.2h1.5v1.5h-1.5zM523 76.8h1.5v1.5h-1.5zM525.2 74.5h1.5v1.5h-1.5zM525 77.9h1.5v1.5h-1.5zM520 75.4h1.5v1.5h-1.5zM517.7 75h1.5v1.5h-1.5zM520 76.5h1.5v1.5h-1.5zM517.2 75.3h1.5v1.5h-1.5zM518.8 77.3h1.5v1.5h-1.5zM514.8 75.8h1.5v1.5h-1.5zM522.1 78h1.5v1.5h-1.5zM524.7 78h1.5v1.5h-1.5zM515.4 78.4h1.5v1.5h-1.5zM523.7 77.7h1.5v1.5h-1.5zM514.9 73.8h1.5v1.5h-1.5zM517 76.6h1.5v1.5h-1.5zM520.9 77.1h1.5v1.5h-1.5zM524.5 76.1h1.5v1.5h-1.5zM521.6 74.1h1.5v1.5h-1.5zM520.6 73.3h1.5v1.5h-1.5zM517.7 77.8h1.5v1.5h-1.5zM519.5 72.5h1.5v1.5h-1.5zM519.8 75.7h1.5v1.5h-1.5zM524.7 72.4h1.5v1.5h-1.5zM525.3 73.6h1.5v1.5h-1.5zM522.1 76.1h1.5v1.5h-1.5zM517 72.3h1.5v1.5h-1.5zM521.9 71.2h1.5v1.5h-1.5zM517 71.7h1.5v1.5h-1.5zM516.6 73.3h1.5v1.5h-1.5zM519.3 72.5h1.5v1.5h-1.5zM521.4 77h1.5v1.5h-1.5zM523.6 77.7h1.5v1.5h-1.5zM522.8 74.3h1.5v1.5h-1.5zM522.9 72.2h1.5v1.5h-1.5zM515.8 72.1h1.5v1.5h-1.5zM523 72.8h1.5v1.5h-1.5zM525.5 74.7h1.5v1.5h-1.5zM523.3 75.5h1.5v1.5h-1.5zM525.2 75.5h1.5v1.5h-1.5zM520.5 78.5h1.5v1.5h-1.5zM519 78.1h1.5v1.5h-1.5zM514.3 75.3h1.5v1.5h-1.5zM515 78.2h1.5v1.5h-1.5zM525.5 77.5h1.5v1.5h-1.5zM518.1 73.5h1.5v1.5h-1.5zM514.6 72.2h1.5v1.5h-1.5zM519.8 78.3h1.5v1.5h-1.5zM515.3 76.8h1.5v1.5h-1.5zM521.9 75.3h1.5v1.5h-1.5zM517.8 78.3h1.5v1.5h-1.5zM522.6 77.3h1.5v1.5h-1.5zM519.5 76.1h1.5v1.5h-1.5zM520.9 71.5h1.5v1.5h-1.5zM523.5 72h1.5v1.5h-1.5zM517.4 74.3h1.5v1.5h-1.5zM522.1 73.2h1.5v1.5h-1.5zM519.1 71.7h1.5v1.5h-1.5zM519.8 72.1h1.5v1.5h-1.5zM519.7 73.6h1.5v1.5h-1.5zM516.8 77.4h1.5v1.5h-1.5zM520.5 74.4h1.5v1.5h-1.5zM520.1 72.4h1.5v1.5h-1.5zM524.3 76h1.5v1.5h-1.5zM515.1 76.4h1.5v1.5h-1.5zM516.1 72.6h1.5v1.5h-1.5zM517.4 74h1.5v1.5h-1.5zM522.7 75.8h1.5v1.5h-1.5zM524.5 76.4h1.5v1.5h-1.5zM519.7 71.5h1.5v1.5h-1.5zM516.5 73.8h1.5v1.5h-1.5zM514.6 77.3h1.5v1.5h-1.5zM519.9 71.6h1.5v1.5h-1.5zM524.4 72.9h1.5v1.5h-1.5zM515.8 74.8h1.5v1.5h-1.5zM517.5 78.2h1.5v1.5h-1.5zM522.8 72.7h1.5v1.5h-1.5zM519.3 74.8h1.5v1.5h-1.5zM518.3 76.7h1.5v1.5h-1.5zM515.1 73.3h1.5v1.5h-1.5zM522.6 72.6h1.5v1.5h-1.5zM517.6 55.1h1.5v1.5h-1.5zM516.7 71.1h1.5v1.5h-1.5zM515 63.1h1.5v1.5h-1.5zM523.1 70.9h1.5v1.5h-1.5zM518.6 73.4h1.5v1.5h-1.5zM516.1 69.6h1.5v1.5h-1.5zM519.6 72.2h1.5v1.5h-1.5zM520.5 73.1h1.5v1.5h-1.5zM523.9 70.1h1.5v1.5h-1.5zM515.7 72.2h1.5v1.5h-1.5zM515.6 71.2h1.5v1.5h-1.5zM519.5 73.1h1.5v1.5h-1.5zM525.7 65.5h1.5v1.5h-1.5zM518.6 66.8h1.5v1.5h-1.5zM521.7 71h1.5v1.5h-1.5zM546.7 72.7h1.5v1.5h-1.5zM543.5 72.7h1.5v1.5h-1.5zM549.4 76.5h1.5v1.5h-1.5zM550.8 73.2h1.5v1.5h-1.5zM551.2 78.5h1.5v1.5h-1.5zM552.1 76.9h1.5v1.5h-1.5zM551.8 76h1.5v1.5h-1.5zM552.1 78.4h1.5v1.5h-1.5zM548.3 73.6h1.5v1.5h-1.5zM546.4 73.6h1.5v1.5h-1.5zM544.6 75.6h1.5v1.5h-1.5zM543.3 74.3h1.5v1.5h-1.5zM545.9 74.7h1.5v1.5h-1.5zM544 76.5h1.5v1.5h-1.5zM548.9 78h1.5v1.5h-1.5zM546.2 74.7h1.5v1.5h-1.5zM548.9 75.4h1.5v1.5h-1.5zM543.6 74.2h1.5v1.5h-1.5zM548.1 75.2h1.5v1.5h-1.5zM543.4 73h1.5v1.5h-1.5zM543.5 75.8h1.5v1.5h-1.5zM547.4 77.4h1.5v1.5h-1.5zM544.1 77.5h1.5v1.5h-1.5zM551.5 78h1.5v1.5h-1.5zM547.4 73.1h1.5v1.5h-1.5zM546.2 73.5h1.5v1.5h-1.5zM544.3 77.1h1.5v1.5h-1.5zM547 78.4h1.5v1.5h-1.5zM544.7 75.4h1.5v1.5h-1.5zM547.2 78.6h1.5v1.5h-1.5zM545.7 77.5h1.5v1.5h-1.5zM547.4 75.6h1.5v1.5h-1.5zM547.7 73.5h1.5v1.5h-1.5zM551.9 74.5h1.5v1.5h-1.5zM547.8 72.9h1.5v1.5h-1.5zM546.1 76.5h1.5v1.5h-1.5zM544 76.5h1.5v1.5h-1.5zM553.5 72.4h1.5v1.5h-1.5zM546.3 76.3h1.5v1.5h-1.5zM545.6 76.2h1.5v1.5h-1.5zM551.2 77.3h1.5v1.5h-1.5zM553.4 72.3h1.5v1.5h-1.5zM550.9 78.1h1.5v1.5h-1.5zM543.8 72.5h1.5v1.5h-1.5zM553.2 75.1h1.5v1.5h-1.5zM545.8 77.5h1.5v1.5h-1.5zM552 78h1.5v1.5h-1.5zM548.3 77.9h1.5v1.5h-1.5zM545.1 73.2h1.5v1.5h-1.5zM552.4 75.3h1.5v1.5h-1.5zM547 77.8h1.5v1.5h-1.5zM544 78.1h1.5v1.5h-1.5zM546.1 78.4h1.5v1.5h-1.5zM546.2 78h1.5v1.5h-1.5zM550 74.5h1.5v1.5h-1.5zM553.1 78h1.5v1.5h-1.5zM551.7 73.6h1.5v1.5h-1.5zM552.4 74.8h1.5v1.5h-1.5zM551.5 73.5h1.5v1.5h-1.5zM543.6 74.2h1.5v1.5h-1.5zM552 72.7h1.5v1.5h-1.5zM549.7 76.3h1.5v1.5h-1.5zM547 75.7h1.5v1.5h-1.5zM547.2 76.5h1.5v1.5h-1.5zM551.8 74.5h1.5v1.5h-1.5zM547.7 74.5h1.5v1.5h-1.5zM543.6 74.2h1.5v1.5h-1.5zM548.2 72.8h1.5v1.5h-1.5zM553.4 73.6h1.5v1.5h-1.5zM545.5 58h1.5v1.5h-1.5zM550.9 73.5h1.5v1.5h-1.5zM550.7 65.2h1.5v1.5h-1.5zM549.5 73.5h1.5v1.5h-1.5zM545.9 71.7h1.5v1.5h-1.5zM547.5 43.4h1.5v1.5h-1.5zM547 69.4h1.5v1.5h-1.5zM546.5 74.6h1.5v1.5h-1.5zM543.8 62h1.5v1.5h-1.5zM547.4 66.7h1.5v1.5h-1.5zM547 71.6h1.5v1.5h-1.5zM546.8 67.7h1.5v1.5h-1.5zM579.9 78.3h1.5v1.5h-1.5zM571.4 77.3h1.5v1.5h-1.5zM578.7 73.5h1.5v1.5h-1.5zM577.5 78.5h1.5v1.5h-1.5zM571.9 77h1.5v1.5h-1.5zM574.6 78.2h1.5v1.5h-1.5zM581.6 69.7h1.5v1.5h-1.5zM571.6 69.7h1.5v1.5h-1.5zM578.5 72.7h1.5v1.5h-1.5zM575.8 77.9h1.5v1.5h-1.5zM580.1 76.8h1.5v1.5h-1.5zM574.3 77.8h1.5v1.5h-1.5zM573.3 78h1.5v1.5h-1.5zM577.7 78.4h1.5v1.5h-1.5zM580.8 68.3h1.5v1.5h-1.5zM575.8 77.9h1.5v1.5h-1.5zM578.1 68.5h1.5v1.5h-1.5zM578.3 75.5h1.5v1.5h-1.5zM578.2 74.8h1.5v1.5h-1.5zM581.7 78.5h1.5v1.5h-1.5zM581.4 76.1h1.5v1.5h-1.5zM580.6 76.8h1.5v1.5h-1.5zM578.4 77.9h1.5v1.5h-1.5zM575.8 74.6h1.5v1.5h-1.5zM574.9 75.1h1.5v1.5h-1.5zM571.5 70h1.5v1.5h-1.5zM579.8 73.2h1.5v1.5h-1.5zM579.1 75.2h1.5v1.5h-1.5zM577.7 69.3h1.5v1.5h-1.5zM577.6 78.5h1.5v1.5h-1.5zM572.8 77.9h1.5v1.5h-1.5zM580.1 75.4h1.5v1.5h-1.5zM576.2 75.7h1.5v1.5h-1.5zM572.2 75.8h1.5v1.5h-1.5zM578.3 69.2h1.5v1.5h-1.5zM575.7 69.2h1.5v1.5h-1.5zM575.7 76.7h1.5v1.5h-1.5zM582.3 77.1h1.5v1.5h-1.5zM580.5 78.1h1.5v1.5h-1.5zM579 74.4h1.5v1.5h-1.5zM581.3 78.3h1.5v1.5h-1.5zM571.2 73.1h1.5v1.5h-1.5zM571.7 78h1.5v1.5h-1.5zM573.2 70.2h1.5v1.5h-1.5zM572.3 72h1.5v1.5h-1.5zM578.5 71.8h1.5v1.5h-1.5zM576.7 76.1h1.5v1.5h-1.5zM578 76.3h1.5v1.5h-1.5zM582 78.2h1.5v1.5h-1.5zM581.3 75.8h1.5v1.5h-1.5zM580.2 70.2h1.5v1.5h-1.5zM582.1 78.5h1.5v1.5h-1.5zM572.2 71.2h1.5v1.5h-1.5zM574.7 70.7h1.5v1.5h-1.5zM579 71.2h1.5v1.5h-1.5zM581.8 78.5h1.5v1.5h-1.5zM571.9 68.4h1.5v1.5h-1.5zM579.4 71.8h1.5v1.5h-1.5zM571.5 70.5h1.5v1.5h-1.5zM579 74.6h1.5v1.5h-1.5zM581.7 78.5h1.5v1.5h-1.5zM575 71.1h1.5v1.5h-1.5zM575.9 68.5h1.5v1.5h-1.5zM573.6 69.5h1.5v1.5h-1.5zM578.3 72.4h1.5v1.5h-1.5zM582.2 69h1.5v1.5h-1.5zM573 69h1.5v1.5h-1.5zM572 72.8h1.5v1.5h-1.5zM571.9 75.7h1.5v1.5h-1.5zM581.3 71.7h1.5v1.5h-1.5zM579.1 77.6h1.5v1.5h-1.5zM581.5 71.3h1.5v1.5h-1.5zM579.1 74.5h1.5v1.5h-1.5zM573.9 72.2h1.5v1.5h-1.5zM577.2 74.7h1.5v1.5h-1.5zM580.5 75.3h1.5v1.5h-1.5zM577.8 68h1.5v1.5h-1.5zM572.9 75.4h1.5v1.5h-1.5zM571.3 68.9h1.5v1.5h-1.5zM571.7 70.3h1.5v1.5h-1.5zM571.9 78.5h1.5v1.5h-1.5zM579.4 72.2h1.5v1.5h-1.5zM577.2 74.5h1.5v1.5h-1.5zM572.9 78.2h1.5v1.5h-1.5zM577.2 72h1.5v1.5h-1.5zM575.5 75.6h1.5v1.5h-1.5zM574.9 77.5h1.5v1.5h-1.5zM578 74.1h1.5v1.5h-1.5zM581.8 72.5h1.5v1.5h-1.5zM578.1 77.2h1.5v1.5h-1.5zM572.7 74.5h1.5v1.5h-1.5zM572.3 78.5h1.5v1.5h-1.5zM575.7 78.5h1.5v1.5h-1.5zM580 70.8h1.5v1.5h-1.5zM578 77.3h1.5v1.5h-1.5zM579.3 74.3h1.5v1.5h-1.5zM575.4 74.4h1.5v1.5h-1.5zM578.8 72.7h1.5v1.5h-1.5zM572.5 76.2h1.5v1.5h-1.5zM581.5 72.3h1.5v1.5h-1.5zM575.4 69.1h1.5v1.5h-1.5zM581.6 77.7h1.5v1.5h-1.5zM576.9 69.3h1.5v1.5h-1.5zM578.7 77.9h1.5v1.5h-1.5zM581.1 76.7h1.5v1.5h-1.5zM581.1 75.5h1.5v1.5h-1.5zM579.1 76.9h1.5v1.5h-1.5zM574.6 72.9h1.5v1.5h-1.5zM575.9 72.8h1.5v1.5h-1.5zM581 77.8h1.5v1.5h-1.5zM575.4 76.7h1.5v1.5h-1.5zM577 76.8h1.5v1.5h-1.5zM580.7 77.8h1.5v1.5h-1.5zM577.1 70.9h1.5v1.5h-1.5zM578.1 75.6h1.5v1.5h-1.5zM579.1 68.2h1.5v1.5h-1.5zM575.2 75h1.5v1.5h-1.5zM577.3 70.8h1.5v1.5h-1.5zM578.1 70.1h1.5v1.5h-1.5zM580.5 74h1.5v1.5h-1.5zM576.5 77.3h1.5v1.5h-1.5zM581.5 75.8h1.5v1.5h-1.5zM571.6 75.6h1.5v1.5h-1.5zM575 59.7h1.5v1.5h-1.5zM580 70.9h1.5v1.5h-1.5zM581.8 68.8h1.5v1.5h-1.5zM575.7 62.1h1.5v1.5h-1.5zM578.4 71.8h1.5v1.5h-1.5zM571.3 72.2h1.5v1.5h-1.5zM574 63.6h1.5v1.5h-1.5zM581.9 60.7h1.5v1.5h-1.5zM577.4 64.2h1.5v1.5h-1.5zM581.1 57.1h1.5v1.5h-1.5zM573.2 70.2h1.5v1.5h-1.5zM573.5 66.2h1.5v1.5h-1.5zM571.3 61.4h1.5v1.5h-1.5zM571.5 65.5h1.5v1.5h-1.5zM572.1 63.1h1.5v1.5h-1.5zM600.2 72.2h1.5v1.5h-1.5zM607.3 76.1h1.5v1.5h-1.5zM606.9 74.1h1.5v1.5h-1.5zM606.4 75.3h1.5v1.5h-1.5zM605.2 73.2h1.5v1.5h-1.5zM603.5 71h1.5v1.5h-1.5zM599.4 75.8h1.5v1.5h-1.5zM598.6 78.5h1.5v1.5h-1.5zM602.2 73.4h1.5v1.5h-1.5zM606.7 74.6h1.5v1.5h-1.5zM603.5 72.8h1.5v1.5h-1.5zM605.3 78.1h1.5v1.5h-1.5zM598.1 71.6h1.5v1.5h-1.5zM598.9 76.7h1.5v1.5h-1.5zM604.7 76.2h1.5v1.5h-1.5zM604.1 78.2h1.5v1.5h-1.5zM601.6 77.7h1.5v1.5h-1.5zM604.5 77.5h1.5v1.5h-1.5zM607.4 74.7h1.5v1.5h-1.5zM606.2 76.8h1.5v1.5h-1.5zM607.2 72.1h1.5v1.5h-1.5zM607 73.9h1.5v1.5h-1.5zM605.8 76.2h1.5v1.5h-1.5zM604 77.7h1.5v1.5h-1.5zM599.3 77.5h1.5v1.5h-1.5zM606.9 72.3h1.5v1.5h-1.5zM598.5 72.3h1.5v1.5h-1.5zM602.8 76.3h1.5v1.5h-1.5zM601.1 78.2h1.5v1.5h-1.5zM605.1 72.1h1.5v1.5h-1.5zM598 71.3h1.5v1.5h-1.5zM601.9 77.1h1.5v1.5h-1.5zM599.2 78.2h1.5v1.5h-1.5zM605.2 73.1h1.5v1.5h-1.5zM604.3 78.4h1.5v1.5h-1.5zM606 74.7h1.5v1.5h-1.5zM605.6 73.2h1.5v1.5h-1.5zM599.4 74.9h1.5v1.5h-1.5zM602.6 73.1h1.5v1.5h-1.5zM603.7 76.5h1.5v1.5h-1.5zM607 77.8h1.5v1.5h-1.5zM607.5 74.1h1.5v1.5h-1.5zM598.6 77.8h1.5v1.5h-1.5zM605 77.9h1.5v1.5h-1.5zM600 77.4h1.5v1.5h-1.5zM606.2 73.2h1.5v1.5h-1.5zM600.1 77.3h1.5v1.5h-1.5zM606.9 72.8h1.5v1.5h-1.5zM598.6 78.5h1.5v1.5h-1.5zM604.7 78h1.5v1.5h-1.5zM604 75.3h1.5v1.5h-1.5zM607.3 75.5h1.5v1.5h-1.5zM606.1 72.2h1.5v1.5h-1.5zM598.8 77.7h1.5v1.5h-1.5zM603.4 71.2h1.5v1.5h-1.5zM606.8 75h1.5v1.5h-1.5zM603.5 77.8h1.5v1.5h-1.5zM599.7 76.4h1.5v1.5h-1.5zM604.9 78.2h1.5v1.5h-1.5zM603.2 74.2h1.5v1.5h-1.5zM599.9 76.3h1.5v1.5h-1.5zM597.7 71.2h1.5v1.5h-1.5zM607 72h1.5v1.5h-1.5zM599.5 76.7h1.5v1.5h-1.5zM601.8 74.3h1.5v1.5h-1.5zM605.9 77.9h1.5v1.5h-1.5zM604.2 76.2h1.5v1.5h-1.5zM599.3 74.2h1.5v1.5h-1.5zM597.5 77.9h1.5v1.5h-1.5zM598.9 75.5h1.5v1.5h-1.5zM607.2 75.9h1.5v1.5h-1.5zM600.2 77.6h1.5v1.5h-1.5zM607.3 77.3h1.5v1.5h-1.5zM603.3 75.8h1.5v1.5h-1.5zM602 73.8h1.5v1.5h-1.5zM605.3 77.5h1.5v1.5h-1.5zM601.5 71.8h1.5v1.5h-1.5zM606.8 72.5h1.5v1.5h-1.5zM602.9 76.9h1.5v1.5h-1.5zM598.7 75h1.5v1.5h-1.5zM604.8 71.6h1.5v1.5h-1.5zM599.3 70.3h1.5v1.5h-1.5zM598.9 72.3h1.5v1.5h-1.5zM600.3 69h1.5v1.5h-1.5zM598.8 64h1.5v1.5h-1.5zM601.7 72h1.5v1.5h-1.5zM602.2 71h1.5v1.5h-1.5zM600.2 73.5h1.5v1.5h-1.5zM602.8 66.6h1.5v1.5h-1.5zM597.9 69.5h1.5v1.5h-1.5zM605.9 72h1.5v1.5h-1.5zM601.2 71.1h1.5v1.5h-1.5zM600.2 69h1.5v1.5h-1.5zM597.7 69.9h1.5v1.5h-1.5zM600.4 63.1h1.5v1.5h-1.5zM630.3 71.9h1.5v1.5h-1.5zM631.1 72.5h1.5v1.5h-1.5zM630.5 77.7h1.5v1.5h-1.5zM628 68.5h1.5v1.5h-1.5zM625.4 68.1h1.5v1.5h-1.5zM629.1 71.8h1.5v1.5h-1.5zM630.6 72.1h1.5v1.5h-1.5zM626.2 67.9h1.5v1.5h-1.5zM630.8 75h1.5v1.5h-1.5zM622.7 72.9h1.5v1.5h-1.5zM628.5 75.2h1.5v1.5h-1.5zM622.7 78.1h1.5v1.5h-1.5zM628.9 76.1h1.5v1.5h-1.5zM625.8 70.3h1.5v1.5h-1.5zM625.9 68.6h1.5v1.5h-1.5zM625.5 77.7h1.5v1.5h-1.5zM626.1 68.6h1.5v1.5h-1.5zM622.5 78.1h1.5v1.5h-1.5zM623.5 75.9h1.5v1.5h-1.5zM625.1 70.3h1.5v1.5h-1.5zM627.1 68.8h1.5v1.5h-1.5zM626.2 71.2h1.5v1.5h-1.5zM628.8 72.5h1.5v1.5h-1.5zM626.6 75.6h1.5v1.5h-1.5zM623.8 70.8h1.5v1.5h-1.5zM630.4 77.5h1.5v1.5h-1.5zM629.1 70.2h1.5v1.5h-1.5zM628.4 74.7h1.5v1.5h-1.5zM630.8 76.1h1.5v1.5h-1.5zM625.9 75.3h1.5v1.5h-1.5zM625.5 76.2h1.5v1.5h-1.5zM623.2 72.1h1.5v1.5h-1.5zM628.4 71.1h1.5v1.5h-1.5zM627.9 70.9h1.5v1.5h-1.5zM630.3 76.8h1.5v1.5h-1.5zM624.7 72.6h1.5v1.5h-1.5zM625.4 72.3h1.5v1.5h-1.5zM629.1 76.4h1.5v1.5h-1.5zM628.1 73.9h1.5v1.5h-1.5zM629.1 77.8h1.5v1.5h-1.5zM624.5 77.1h1.5v1.5h-1.5zM623 72h1.5v1.5h-1.5zM626 70.4h1.5v1.5h-1.5zM630.7 78.2h1.5v1.5h-1.5zM626.9 74.9h1.5v1.5h-1.5zM627.4 74.9h1.5v1.5h-1.5zM624.8 71.4h1.5v1.5h-1.5zM622.8 67.9h1.5v1.5h-1.5zM630.5 74.1h1.5v1.5h-1.5zM629.8 71.6h1.5v1.5h-1.5zM624.7 77.6h1.5v1.5h-1.5zM628.2 71.8h1.5v1.5h-1.5zM629.8 73.2h1.5v1.5h-1.5zM627.5 70.6h1.5v1.5h-1.5zM628.4 74h1.5v1.5h-1.5zM626.2 74.4h1.5v1.5h-1.5zM627.2 75.2h1.5v1.5h-1.5zM630.6 76.5h1.5v1.5h-1.5zM625.5 78.1h1.5v1.5h-1.5zM622.7 77h1.5v1.5h-1.5zM628.9 69.4h1.5v1.5h-1.5zM628.2 70.2h1.5v1.5h-1.5zM624.4 78.3h1.5v1.5h-1.5zM631 77.3h1.5v1.5h-1.5zM625.6 72.3h1.5v1.5h-1.5zM624.3 78.5h1.5v1.5h-1.5zM629.1 68.1h1.5v1.5h-1.5zM630.7 77.1h1.5v1.5h-1.5zM624.6 77.5h1.5v1.5h-1.5zM628.2 68.9h1.5v1.5h-1.5zM628 75.7h1.5v1.5h-1.5zM630 70.1h1.5v1.5h-1.5zM626.8 78.2h1.5v1.5h-1.5zM629.5 76h1.5v1.5h-1.5zM623.1 76.1h1.5v1.5h-1.5zM627.4 78.1h1.5v1.5h-1.5zM623 71.1h1.5v1.5h-1.5zM625.2 75.5h1.5v1.5h-1.5zM628.8 69.1h1.5v1.5h-1.5zM629.7 78.6h1.5v1.5h-1.5zM630.5 73.7h1.5v1.5h-1.5zM627.5 77.7h1.5v1.5h-1.5zM629.7 76.3h1.5v1.5h-1.5zM624.4 75.1h1.5v1.5h-1.5zM631 76.7h1.5v1.5h-1.5zM627.1 72.1h1.5v1.5h-1.5zM630.8 78h1.5v1.5h-1.5zM627.6 69.4h1.5v1.5h-1.5zM622.9 74h1.5v1.5h-1.5zM624.7 74.7h1.5v1.5h-1.5zM630 75.6h1.5v1.5h-1.5zM630.6 71h1.5v1.5h-1.5zM624.2 71.3h1.5v1.5h-1.5zM625.9 75.9h1.5v1.5h-1.5zM626.4 67.9h1.5v1.5h-1.5zM629.4 73.5h1.5v1.5h-1.5zM623 75.7h1.5v1.5h-1.5zM622.5 75.8h1.5v1.5h-1.5zM628.2 77.4h1.5v1.5h-1.5zM627 72.4h1.5v1.5h-1.5zM628 71.7h1.5v1.5h-1.5zM624.4 68.4h1.5v1.5h-1.5zM626 69.9h1.5v1.5h-1.5zM627.3 72.5h1.5v1.5h-1.5zM623 70.4h1.5v1.5h-1.5zM626.6 71.9h1.5v1.5h-1.5zM627.6 69.5h1.5v1.5h-1.5zM624.9 72.3h1.5v1.5h-1.5zM630.1 66h1.5v1.5h-1.5zM624.3 67.4h1.5v1.5h-1.5zM630.4 68h1.5v1.5h-1.5zM647.2 71.3h1.5v1.5h-1.5zM652.1 76.3h1.5v1.5h-1.5zM649.2 78.4h1.5v1.5h-1.5zM646.6 74.8h1.5v1.5h-1.5zM651.4 74.9h1.5v1.5h-1.5zM649.5 78.6h1.5v1.5h-1.5zM652.1 76h1.5v1.5h-1.5zM648.3 74.6h1.5v1.5h-1.5zM648.3 77.6h1.5v1.5h-1.5zM649.5 77.5h1.5v1.5h-1.5zM648.1 71.4h1.5v1.5h-1.5zM651.5 70h1.5v1.5h-1.5zM649.7 75h1.5v1.5h-1.5zM645.3 70.6h1.5v1.5h-1.5zM651.3 69.6h1.5v1.5h-1.5zM648.4 75.5h1.5v1.5h-1.5zM652.3 76.5h1.5v1.5h-1.5zM645.9 76.5h1.5v1.5h-1.5zM647 72.4h1.5v1.5h-1.5zM652.6 78.1h1.5v1.5h-1.5zM652.1 78.5h1.5v1.5h-1.5zM652.6 70.6h1.5v1.5h-1.5zM647.2 75.9h1.5v1.5h-1.5zM649.7 71.5h1.5v1.5h-1.5zM651.9 76.2h1.5v1.5h-1.5zM648.2 71.9h1.5v1.5h-1.5zM649.1 78.5h1.5v1.5h-1.5zM650.4 78h1.5v1.5h-1.5zM649.2 76.1h1.5v1.5h-1.5zM648.3 78.1h1.5v1.5h-1.5zM645.3 78.3h1.5v1.5h-1.5zM652.7 73.9h1.5v1.5h-1.5zM650.7 76.1h1.5v1.5h-1.5zM651.6 70.4h1.5v1.5h-1.5zM646.1 70.3h1.5v1.5h-1.5zM646.7 75.4h1.5v1.5h-1.5zM652.4 71.1h1.5v1.5h-1.5zM646.5 74.8h1.5v1.5h-1.5zM645.9 75.1h1.5v1.5h-1.5zM647.6 72.5h1.5v1.5h-1.5zM652.5 74h1.5v1.5h-1.5zM651.4 69.4h1.5v1.5h-1.5zM646.3 78.1h1.5v1.5h-1.5zM647.5 76.2h1.5v1.5h-1.5zM652.5 70.5h1.5v1.5h-1.5zM645.1 70.7h1.5v1.5h-1.5zM648.8 70.7h1.5v1.5h-1.5zM651.2 75h1.5v1.5h-1.5zM646.7 76.6h1.5v1.5h-1.5zM648.6 72.1h1.5v1.5h-1.5zM650.3 73.6h1.5v1.5h-1.5zM648.4 77.8h1.5v1.5h-1.5zM647.9 75.4h1.5v1.5h-1.5zM646.9 73.7h1.5v1.5h-1.5zM650.1 73.6h1.5v1.5h-1.5zM645.6 78.3h1.5v1.5h-1.5zM651.8 74.9h1.5v1.5h-1.5zM652.9 73.4h1.5v1.5h-1.5zM651 78.3h1.5v1.5h-1.5zM646.1 72.9h1.5v1.5h-1.5zM646.6 72.4h1.5v1.5h-1.5zM646.4 78.4h1.5v1.5h-1.5zM647.2 75.7h1.5v1.5h-1.5zM647.9 78h1.5v1.5h-1.5zM645.5 71.6h1.5v1.5h-1.5zM646.6 71.6h1.5v1.5h-1.5zM648.8 70.3h1.5v1.5h-1.5zM651.2 73.8h1.5v1.5h-1.5zM646.5 75.5h1.5v1.5h-1.5zM649.8 78.1h1.5v1.5h-1.5zM645.3 77.7h1.5v1.5h-1.5zM649.4 76.8h1.5v1.5h-1.5zM645.7 73.3h1.5v1.5h-1.5zM651.5 73.2h1.5v1.5h-1.5zM650 72.9h1.5v1.5h-1.5zM651.1 71.5h1.5v1.5h-1.5zM646 77.1h1.5v1.5h-1.5zM645.9 74.4h1.5v1.5h-1.5zM649 72.8h1.5v1.5h-1.5zM647.5 68.6h1.5v1.5h-1.5zM652.4 71.3h1.5v1.5h-1.5zM647.8 73.1h1.5v1.5h-1.5zM645.4 72.8h1.5v1.5h-1.5zM651.2 73.1h1.5v1.5h-1.5zM645.8 71.7h1.5v1.5h-1.5zM650.4 71.3h1.5v1.5h-1.5zM646.4 72.4h1.5v1.5h-1.5zM647 67.6h1.5v1.5h-1.5zM650.1 68.5h1.5v1.5h-1.5zM650.1 65h1.5v1.5h-1.5zM571.1 65.1h1.8v1.8h-1.8zM571.6 62.7h1.8v1.8h-1.8zM570.9 60.3h1.8v1.8h-1.8zM571.4 57.9h1.8v1.8h-1.8zM571 54.2h1.8v1.8h-1.8zM571.6 51.8h1.8v1.8h-1.8zM572.7 66.4h1.8v1.8h-1.8zM572.4 59.1h1.8v1.8h-1.8zM573.9 63.9h1.8v1.8h-1.8zM571.4 46.9h1.8v1.8h-1.8zM571.6 42.1h1.8v1.8h-1.8zM575.2 61.5h1.8v1.8h-1.8zM577.8 65.1h1.8v1.8h-1.8zM579.1 62.7h1.8v1.8h-1.8zM544.6 55.4h1.8v1.8h-1.8zM602.2 60.3h1.8v1.8h-1.8zM627.7 59.1h1.8v1.8h-1.8zM648.9 59.1h1.8v1.8h-1.8zM424.9 59.1h1.8v1.8h-1.8zM461.7 61.5h1.8v1.8h-1.8zM489.9 59.1h1.8v1.8h-1.8zM424 29.9h1.8v1.8h-1.8zM424 39.6h1.8v1.8h-1.8zM571.6 28.7h1.8v1.8h-1.8zM572.7 28.7h1.8v1.8h-1.8zM572.7 34.8h1.8v1.8h-1.8zM572 43.3h1.8v1.8h-1.8zM572 50.6h1.8v1.8h-1.8zM571.4 55.4h1.8v1.8h-1.8zM572.7 60.3h1.8v1.8h-1.8zM573.9 63.9h1.8v1.8h-1.8zM376.8 56.6h1.8v1.8h-1.8zM489.9 53h1.8v1.8h-1.8zM602.2 50.6h1.8v1.8h-1.8zM648.9 50.6h1.8v1.8h-1.8zM625.6 53h1.8v1.8h-1.8zM460.4 55.4h1.8v1.8h-1.8zM519.9 62.7h1.8v1.8h-1.8zM546.9 59.1h1.8v1.8h-1.8zM487.2 57.9h1.8v1.8h-1.8zM423 54.2h1.8v1.8h-1.8z"/><path fill="#b8daed" d="M409.7 73.9h1.5v1.5h-1.5zM398.7 75.6h1.5v1.5h-1.5zM407.3 73.7h1.5v1.5h-1.5zM403.9 79.6h1.5v1.5h-1.5zM412.4 78.2h1.5v1.5h-1.5zM409.1 76.5h1.5v1.5h-1.5zM409.8 77.6h1.5v1.5h-1.5zM397.6 76.9h1.5v1.5h-1.5zM404.5 73.3h1.5v1.5h-1.5zM403.1 74.6h1.5v1.5h-1.5zM402.7 73.9h1.5v1.5h-1.5zM399.1 72.4h1.5v1.5h-1.5zM412.7 79.7h1.5v1.5h-1.5zM411.2 73.5h1.5v1.5h-1.5zM408.3 79.3h1.5v1.5h-1.5zM409 73.5h1.5v1.5h-1.5zM407.1 71.4h1.5v1.5h-1.5zM412.8 74.9h1.5v1.5h-1.5zM412.4 79.1h1.5v1.5h-1.5zM401.3 75.9h1.5v1.5h-1.5zM405.3 71.6h1.5v1.5h-1.5zM407.3 75.1h1.5v1.5h-1.5zM407 71.6h1.5v1.5h-1.5zM403.1 73.9h1.5v1.5h-1.5zM406.6 77.1h1.5v1.5h-1.5zM402 79h1.5v1.5h-1.5zM396.2 77.7h1.5v1.5h-1.5zM401.3 79.4h1.5v1.5h-1.5zM404.6 77.5h1.5v1.5h-1.5zM412.4 73.4h1.5v1.5h-1.5zM407.8 72.7h1.5v1.5h-1.5zM400.9 79.2h1.5v1.5h-1.5zM406.8 78.5h1.5v1.5h-1.5zM413.4 76.9h1.5v1.5h-1.5zM411.7 78.4h1.5v1.5h-1.5zM397.7 75h1.5v1.5h-1.5zM408.3 78.3h1.5v1.5h-1.5zM412.4 71.3h1.5v1.5h-1.5zM408.2 71.2h1.5v1.5h-1.5zM413.4 79h1.5v1.5h-1.5zM408.9 73.8h1.5v1.5h-1.5zM409 77.6h1.5v1.5h-1.5zM405.6 75.4h1.5v1.5h-1.5zM411 79.6h1.5v1.5h-1.5zM402.6 77.8h1.5v1.5h-1.5zM410 79.2h1.5v1.5h-1.5zM397.1 79.2h1.5v1.5h-1.5zM398.1 76.8h1.5v1.5h-1.5zM411.3 77.5h1.5v1.5h-1.5zM397.8 74.6h1.5v1.5h-1.5zM401.9 75.5h1.5v1.5h-1.5zM409.2 76.6h1.5v1.5h-1.5zM409 75.1h1.5v1.5h-1.5zM411.1 73.6h1.5v1.5h-1.5zM412 73.8h1.5v1.5h-1.5zM401 76.2h1.5v1.5h-1.5zM409.7 73.4h1.5v1.5h-1.5zM408.9 72.8h1.5v1.5h-1.5zM410.6 75.8h1.5v1.5h-1.5zM407.3 79.6h1.5v1.5h-1.5zM404.5 74h1.5v1.5h-1.5zM412.2 72.7h1.5v1.5h-1.5zM403.8 78.5h1.5v1.5h-1.5zM411.7 74.7h1.5v1.5h-1.5zM399.4 79.6h1.5v1.5h-1.5zM411.5 75.5h1.5v1.5h-1.5zM397.9 71.1h1.5v1.5h-1.5zM406.4 73.7h1.5v1.5h-1.5zM410.3 78.3h1.5v1.5h-1.5zM405.2 78.9h1.5v1.5h-1.5zM406.8 76.8h1.5v1.5h-1.5zM410 79.2h1.5v1.5h-1.5zM399.6 77.2h1.5v1.5h-1.5zM396 77.1h1.5v1.5h-1.5zM413 72.5h1.5v1.5h-1.5zM399.2 72.9h1.5v1.5h-1.5zM400 78.4h1.5v1.5h-1.5zM407.3 78h1.5v1.5h-1.5zM399.6 79.4h1.5v1.5h-1.5zM399.1 78.7h1.5v1.5h-1.5zM412.1 79.6h1.5v1.5h-1.5zM405.6 78.6h1.5v1.5h-1.5zM408.7 79.8h1.5v1.5h-1.5zM402.6 73.9h1.5v1.5h-1.5zM396.5 77h1.5v1.5h-1.5zM401.8 76.4h1.5v1.5h-1.5zM407.1 79.4h1.5v1.5h-1.5zM411.3 78.2h1.5v1.5h-1.5zM409.7 79.1h1.5v1.5h-1.5zM397.7 78.7h1.5v1.5h-1.5zM397.5 78.3h1.5v1.5h-1.5zM398.5 79.4h1.5v1.5h-1.5zM411.1 76h1.5v1.5h-1.5zM404.8 76.1h1.5v1.5h-1.5zM410.3 79.6h1.5v1.5h-1.5zM396.8 74.6h1.5v1.5h-1.5zM396.1 76.2h1.5v1.5h-1.5zM407.1 72.7h1.5v1.5h-1.5zM396 77.1h1.5v1.5h-1.5zM401.5 75.5h1.5v1.5h-1.5zM396.6 73.7h1.5v1.5h-1.5zM412.9 75.8h1.5v1.5h-1.5zM407.8 72.8h1.5v1.5h-1.5zM410.9 73h1.5v1.5h-1.5zM404.6 79.4h1.5v1.5h-1.5zM410.1 72.8h1.5v1.5h-1.5zM408.4 77.8h1.5v1.5h-1.5zM413.3 75h1.5v1.5h-1.5zM401.5 68.2h1.5v1.5h-1.5zM400 73.6h1.5v1.5h-1.5zM412 74.5h1.5v1.5h-1.5zM411.4 72.6h1.5v1.5h-1.5zM406.1 69.8h1.5v1.5h-1.5zM412 73.7h1.5v1.5h-1.5zM397.6 71.7h1.5v1.5h-1.5zM400 72.4h1.5v1.5h-1.5zM398 74.4h1.5v1.5h-1.5zM406 74.6h1.5v1.5h-1.5zM400.7 72.7h1.5v1.5h-1.5zM397.7 67.8h1.5v1.5h-1.5zM412 74.6h1.5v1.5h-1.5zM410.3 74h1.5v1.5h-1.5zM408.9 74.5h1.5v1.5h-1.5zM409.2 58.6h1.5v1.5h-1.5zM400.6 70.8h1.5v1.5h-1.5zM402 62.2h1.5v1.5h-1.5zM438.4 79.8h1.5v1.5h-1.5zM442.6 78.9h1.5v1.5h-1.5zM445.6 79h1.5v1.5h-1.5zM444.2 76.4h1.5v1.5h-1.5zM451.2 77.8h1.5v1.5h-1.5zM440.6 77.6h1.5v1.5h-1.5zM446.5 78.4h1.5v1.5h-1.5zM440.3 74.2h1.5v1.5h-1.5zM444.6 79.5h1.5v1.5h-1.5zM449.3 79.2h1.5v1.5h-1.5zM441.1 75.8h1.5v1.5h-1.5zM443.5 73.6h1.5v1.5h-1.5zM438.9 74.7h1.5v1.5h-1.5zM439.4 79.2h1.5v1.5h-1.5zM447.1 73.5h1.5v1.5h-1.5zM438.3 79.7h1.5v1.5h-1.5zM439.7 75.5h1.5v1.5h-1.5zM437.2 71.6h1.5v1.5h-1.5zM437 73.8h1.5v1.5h-1.5zM448.7 77.2h1.5v1.5h-1.5zM448.8 78.9h1.5v1.5h-1.5zM448.2 75.5h1.5v1.5h-1.5zM449.4 73.3h1.5v1.5h-1.5zM448.4 72.5h1.5v1.5h-1.5zM440.5 79.7h1.5v1.5h-1.5zM439.3 73.8h1.5v1.5h-1.5zM444.4 76.3h1.5v1.5h-1.5zM443.8 79.7h1.5v1.5h-1.5zM450.5 75.6h1.5v1.5h-1.5zM445.4 76.3h1.5v1.5h-1.5zM449.9 76.5h1.5v1.5h-1.5zM444.7 73.2h1.5v1.5h-1.5zM438.9 72.9h1.5v1.5h-1.5zM446 77.7h1.5v1.5h-1.5zM438.9 76.1h1.5v1.5h-1.5zM441.1 79.8h1.5v1.5h-1.5zM449 73.8h1.5v1.5h-1.5zM450.1 73.6h1.5v1.5h-1.5zM442.7 72h1.5v1.5h-1.5zM440.3 78.3h1.5v1.5h-1.5zM443.7 74.5h1.5v1.5h-1.5zM438.2 79.6h1.5v1.5h-1.5zM450.6 79.7h1.5v1.5h-1.5zM447.8 76.5h1.5v1.5h-1.5zM451 72.6h1.5v1.5h-1.5zM443.6 75.8h1.5v1.5h-1.5zM447.1 78.2h1.5v1.5h-1.5zM437 71.1h1.5v1.5h-1.5zM444.8 73.2h1.5v1.5h-1.5zM444.7 79.5h1.5v1.5h-1.5zM438.2 78.4h1.5v1.5h-1.5zM451.1 73.1h1.5v1.5h-1.5zM441.1 76.7h1.5v1.5h-1.5zM451.1 76.2h1.5v1.5h-1.5zM441.4 75.9h1.5v1.5h-1.5zM439.2 75.6h1.5v1.5h-1.5zM437.8 76h1.5v1.5h-1.5zM438.4 79.6h1.5v1.5h-1.5zM448 76.2h1.5v1.5h-1.5zM439.1 77.1h1.5v1.5h-1.5zM449.9 77.4h1.5v1.5h-1.5zM440.8 76.4h1.5v1.5h-1.5zM450 75.1h1.5v1.5h-1.5zM443.8 75h1.5v1.5h-1.5zM442 71.8h1.5v1.5h-1.5zM440.8 78.6h1.5v1.5h-1.5zM444 73.2h1.5v1.5h-1.5zM448.2 74.7h1.5v1.5h-1.5zM436.7 73.2h1.5v1.5h-1.5zM450.3 79.2h1.5v1.5h-1.5zM439.6 78.6h1.5v1.5h-1.5zM438.6 79.1h1.5v1.5h-1.5zM444.2 74.3h1.5v1.5h-1.5zM443.6 75.8h1.5v1.5h-1.5zM446.9 73h1.5v1.5h-1.5zM451.2 74.2h1.5v1.5h-1.5zM444.1 79.6h1.5v1.5h-1.5zM441.1 78.7h1.5v1.5h-1.5zM451 74h1.5v1.5h-1.5zM438.6 77.6h1.5v1.5h-1.5zM443 75h1.5v1.5h-1.5zM451.2 77.7h1.5v1.5h-1.5zM447.1 77h1.5v1.5h-1.5zM450.2 76.2h1.5v1.5h-1.5zM448.1 75.4h1.5v1.5h-1.5zM447.4 73.7h1.5v1.5h-1.5zM442.5 76.7h1.5v1.5h-1.5zM445.9 74.1h1.5v1.5h-1.5zM445.5 77.5h1.5v1.5h-1.5zM444 76.1h1.5v1.5h-1.5zM442.4 77.8h1.5v1.5h-1.5zM437.7 79.5h1.5v1.5h-1.5zM439 74.4h1.5v1.5h-1.5zM442.3 60h1.5v1.5h-1.5zM442.7 64.4h1.5v1.5h-1.5zM447 63.4h1.5v1.5h-1.5zM446.4 61.4h1.5v1.5h-1.5zM448.7 74.4h1.5v1.5h-1.5zM436.7 61h1.5v1.5h-1.5zM441.8 70.3h1.5v1.5h-1.5zM450.9 56.4h1.5v1.5h-1.5zM444.5 73.1h1.5v1.5h-1.5zM445.5 69.7h1.5v1.5h-1.5zM438.1 67.9h1.5v1.5h-1.5zM436.8 72.7h1.5v1.5h-1.5zM449.3 61.1h1.5v1.5h-1.5zM449.5 62h1.5v1.5h-1.5zM469.8 74.9h1.5v1.5h-1.5zM480.4 73.8h1.5v1.5h-1.5zM473.1 72.3h1.5v1.5h-1.5zM469.3 75.9h1.5v1.5h-1.5zM470 77.2h1.5v1.5h-1.5zM472.5 79.2h1.5v1.5h-1.5zM479.6 73.5h1.5v1.5h-1.5zM475.6 79h1.5v1.5h-1.5zM475.3 78.6h1.5v1.5h-1.5zM475.7 74.8h1.5v1.5h-1.5zM480.4 78.4h1.5v1.5h-1.5zM472.4 78.8h1.5v1.5h-1.5zM480.3 73.6h1.5v1.5h-1.5zM473.4 77h1.5v1.5h-1.5zM478.9 75.7h1.5v1.5h-1.5zM476.2 77.2h1.5v1.5h-1.5zM476.2 79.8h1.5v1.5h-1.5zM471.3 73.2h1.5v1.5h-1.5zM480.1 75.9h1.5v1.5h-1.5zM477 77h1.5v1.5h-1.5zM473.5 75.7h1.5v1.5h-1.5zM478.4 72.5h1.5v1.5h-1.5zM472.3 76.8h1.5v1.5h-1.5zM474.5 74.1h1.5v1.5h-1.5zM479.5 71.8h1.5v1.5h-1.5zM477.1 75.5h1.5v1.5h-1.5zM470.6 79.6h1.5v1.5h-1.5zM469.6 75.3h1.5v1.5h-1.5zM476 79.7h1.5v1.5h-1.5zM479.6 74.7h1.5v1.5h-1.5zM477.4 78.4h1.5v1.5h-1.5zM472.8 75.9h1.5v1.5h-1.5zM473.2 76h1.5v1.5h-1.5zM476.9 75.5h1.5v1.5h-1.5zM473.1 71.6h1.5v1.5h-1.5zM472.3 75.9h1.5v1.5h-1.5zM473.8 79.7h1.5v1.5h-1.5zM473.4 75h1.5v1.5h-1.5zM479.5 77.3h1.5v1.5h-1.5zM471.2 75.2h1.5v1.5h-1.5zM469.9 76.3h1.5v1.5h-1.5zM470.7 74.6h1.5v1.5h-1.5zM478.2 73.8h1.5v1.5h-1.5zM473.3 73.7h1.5v1.5h-1.5zM475.3 78.5h1.5v1.5h-1.5zM477.6 78.6h1.5v1.5h-1.5zM480.4 73.4h1.5v1.5h-1.5zM469.4 74.7h1.5v1.5h-1.5zM474.6 79.6h1.5v1.5h-1.5zM474.8 75.6h1.5v1.5h-1.5zM469.6 79h1.5v1.5h-1.5zM478.3 78.3h1.5v1.5h-1.5zM479.4 77.3h1.5v1.5h-1.5zM477 77.5h1.5v1.5h-1.5zM469.5 74.8h1.5v1.5h-1.5zM472.7 75.9h1.5v1.5h-1.5zM477.5 76h1.5v1.5h-1.5zM471.5 79h1.5v1.5h-1.5zM479 72.6h1.5v1.5h-1.5zM473.2 75.3h1.5v1.5h-1.5zM480.6 79.1h1.5v1.5h-1.5zM475.2 73.7h1.5v1.5h-1.5zM476.9 75.8h1.5v1.5h-1.5zM478.6 77.5h1.5v1.5h-1.5zM471.9 77.9h1.5v1.5h-1.5zM473 76.9h1.5v1.5h-1.5zM470.7 73.2h1.5v1.5h-1.5zM476.8 74.5h1.5v1.5h-1.5zM477 73.9h1.5v1.5h-1.5zM474.5 78.3h1.5v1.5h-1.5zM471.9 74.5h1.5v1.5h-1.5zM480.6 70.2h1.5v1.5h-1.5zM476.7 71.1h1.5v1.5h-1.5zM474.4 71.9h1.5v1.5h-1.5zM469.8 70.1h1.5v1.5h-1.5zM474.3 74.6h1.5v1.5h-1.5zM480.3 72h1.5v1.5h-1.5zM469.5 73.8h1.5v1.5h-1.5zM473.1 72.1h1.5v1.5h-1.5zM469.3 72.8h1.5v1.5h-1.5zM477 66.8h1.5v1.5h-1.5zM473.3 65.9h1.5v1.5h-1.5zM504.5 78.8h1.5v1.5h-1.5zM511.4 75.3h1.5v1.5h-1.5zM507.4 79.5h1.5v1.5h-1.5zM504.1 76h1.5v1.5h-1.5zM509.8 78.3h1.5v1.5h-1.5zM500.1 75.2h1.5v1.5h-1.5zM509.7 76.6h1.5v1.5h-1.5zM507.8 78.1h1.5v1.5h-1.5zM502.9 79.3h1.5v1.5h-1.5zM500.3 74.6h1.5v1.5h-1.5zM509.1 76.4h1.5v1.5h-1.5zM505.8 76.8h1.5v1.5h-1.5zM508.9 79.5h1.5v1.5h-1.5zM501.7 79.2h1.5v1.5h-1.5zM511.2 77h1.5v1.5h-1.5zM507.8 78.3h1.5v1.5h-1.5zM509.1 74.8h1.5v1.5h-1.5zM503.9 72.9h1.5v1.5h-1.5zM511.2 74.9h1.5v1.5h-1.5zM503.2 73.3h1.5v1.5h-1.5zM511 76.5h1.5v1.5h-1.5zM503.5 76h1.5v1.5h-1.5zM502.9 79.3h1.5v1.5h-1.5zM502.8 77.8h1.5v1.5h-1.5zM505 76.7h1.5v1.5h-1.5zM510.5 75.8h1.5v1.5h-1.5zM504.6 77.1h1.5v1.5h-1.5zM508.8 75.9h1.5v1.5h-1.5zM504.2 77.8h1.5v1.5h-1.5zM508.2 75.8h1.5v1.5h-1.5zM503.3 79.2h1.5v1.5h-1.5zM501.1 79.7h1.5v1.5h-1.5zM507.9 74.2h1.5v1.5h-1.5zM506.1 79.7h1.5v1.5h-1.5zM503.4 78.8h1.5v1.5h-1.5zM500.2 76.1h1.5v1.5h-1.5zM509.6 74.2h1.5v1.5h-1.5zM509.1 78.6h1.5v1.5h-1.5zM508.1 78.4h1.5v1.5h-1.5zM503.3 74.8h1.5v1.5h-1.5zM499.2 76.1h1.5v1.5h-1.5zM502.9 77.2h1.5v1.5h-1.5zM501.8 78.9h1.5v1.5h-1.5zM511 77.2h1.5v1.5h-1.5zM501.6 75.8h1.5v1.5h-1.5zM509.9 77h1.5v1.5h-1.5zM506.3 74.4h1.5v1.5h-1.5zM510 77.2h1.5v1.5h-1.5zM506 79.2h1.5v1.5h-1.5zM500.9 73.2h1.5v1.5h-1.5zM502 76.7h1.5v1.5h-1.5zM501.7 79.4h1.5v1.5h-1.5zM502.3 77.5h1.5v1.5h-1.5zM502 73.6h1.5v1.5h-1.5zM502.7 73.6h1.5v1.5h-1.5zM507.2 73.7h1.5v1.5h-1.5zM504.7 79.7h1.5v1.5h-1.5zM500.9 79.5h1.5v1.5h-1.5zM500.6 79.6h1.5v1.5h-1.5zM502 77h1.5v1.5h-1.5zM507.3 78.9h1.5v1.5h-1.5zM504.1 75.1h1.5v1.5h-1.5zM500.3 70.6h1.5v1.5h-1.5zM500.1 75.6h1.5v1.5h-1.5zM508.6 72.4h1.5v1.5h-1.5zM506.5 74.2h1.5v1.5h-1.5zM500.9 72.1h1.5v1.5h-1.5zM502.8 56.8h1.5v1.5h-1.5zM508.9 66.1h1.5v1.5h-1.5zM501.2 73.7h1.5v1.5h-1.5zM503.7 75.2h1.5v1.5h-1.5zM505 71.8h1.5v1.5h-1.5zM502.7 74.9h1.5v1.5h-1.5zM499.3 72h1.5v1.5h-1.5zM505.1 51.2h1.5v1.5h-1.5zM534.7 76.2h1.5v1.5h-1.5zM532.1 77.8h1.5v1.5h-1.5zM536.3 75.9h1.5v1.5h-1.5zM539.2 78.9h1.5v1.5h-1.5zM532.9 74h1.5v1.5h-1.5zM529.6 79.5h1.5v1.5h-1.5zM529.4 78.5h1.5v1.5h-1.5zM530.5 77.9h1.5v1.5h-1.5zM534.4 78.7h1.5v1.5h-1.5zM535.4 75.4h1.5v1.5h-1.5zM532.4 79.2h1.5v1.5h-1.5zM540.2 77.4h1.5v1.5h-1.5zM529.5 79.4h1.5v1.5h-1.5zM537.2 77.4h1.5v1.5h-1.5zM539.7 75h1.5v1.5h-1.5zM529.6 75h1.5v1.5h-1.5zM540 72.9h1.5v1.5h-1.5zM538.6 76h1.5v1.5h-1.5zM539.5 74.6h1.5v1.5h-1.5zM533.5 78.4h1.5v1.5h-1.5zM528.8 79.5h1.5v1.5h-1.5zM533.3 79.5h1.5v1.5h-1.5zM530.2 77.3h1.5v1.5h-1.5zM531.6 73.2h1.5v1.5h-1.5zM530.8 76.5h1.5v1.5h-1.5zM534.7 77.6h1.5v1.5h-1.5zM537.9 73.3h1.5v1.5h-1.5zM538.4 79.6h1.5v1.5h-1.5zM532.8 77.5h1.5v1.5h-1.5zM539.4 75.5h1.5v1.5h-1.5zM533 75.3h1.5v1.5h-1.5zM540.1 79.5h1.5v1.5h-1.5zM540.1 79.4h1.5v1.5h-1.5zM528.7 79.6h1.5v1.5h-1.5zM538.8 78.3h1.5v1.5h-1.5zM538.9 76.1h1.5v1.5h-1.5zM529.2 73.1h1.5v1.5h-1.5zM530.5 73.3h1.5v1.5h-1.5zM539.1 76.6h1.5v1.5h-1.5zM529.5 79.5h1.5v1.5h-1.5zM531.3 78.9h1.5v1.5h-1.5zM537.4 78.9h1.5v1.5h-1.5zM533.8 79.5h1.5v1.5h-1.5zM538.6 78.1h1.5v1.5h-1.5zM528.9 75.2h1.5v1.5h-1.5zM536.7 77h1.5v1.5h-1.5zM537.5 78.2h1.5v1.5h-1.5zM538.1 74.5h1.5v1.5h-1.5zM534.2 74.9h1.5v1.5h-1.5zM532.1 76.6h1.5v1.5h-1.5zM535.9 79.6h1.5v1.5h-1.5zM535.7 74.5h1.5v1.5h-1.5zM540.2 72.8h1.5v1.5h-1.5zM533.5 76.3h1.5v1.5h-1.5zM529.8 73h1.5v1.5h-1.5zM529.2 75.9h1.5v1.5h-1.5zM533.9 74.5h1.5v1.5h-1.5zM539.6 73.5h1.5v1.5h-1.5zM540.1 73.6h1.5v1.5h-1.5zM528.8 75.2h1.5v1.5h-1.5zM534.3 71h1.5v1.5h-1.5zM538.7 68.4h1.5v1.5h-1.5zM537.5 73h1.5v1.5h-1.5zM531 74.6h1.5v1.5h-1.5zM537.5 74h1.5v1.5h-1.5zM529.5 70.9h1.5v1.5h-1.5zM535.4 70.8h1.5v1.5h-1.5zM534.2 74.5h1.5v1.5h-1.5zM540.1 72.7h1.5v1.5h-1.5zM535.3 68.1h1.5v1.5h-1.5zM528.7 72.3h1.5v1.5h-1.5zM562.8 76.3h1.5v1.5h-1.5zM562.3 76.5h1.5v1.5h-1.5zM566.5 79h1.5v1.5h-1.5zM560 79.5h1.5v1.5h-1.5zM566.7 77.6h1.5v1.5h-1.5zM565.4 79.7h1.5v1.5h-1.5zM565.3 79.2h1.5v1.5h-1.5zM560.4 77.1h1.5v1.5h-1.5zM562.9 72.3h1.5v1.5h-1.5zM567.3 73.2h1.5v1.5h-1.5zM564.1 71.1h1.5v1.5h-1.5zM560.9 77.3h1.5v1.5h-1.5zM557.3 75.8h1.5v1.5h-1.5zM565.8 79.5h1.5v1.5h-1.5zM562.7 74h1.5v1.5h-1.5zM561.7 78.1h1.5v1.5h-1.5zM567.4 72.8h1.5v1.5h-1.5zM557 78h1.5v1.5h-1.5zM562.2 76.8h1.5v1.5h-1.5zM564.3 77.5h1.5v1.5h-1.5zM559.4 78.4h1.5v1.5h-1.5zM561.3 71.8h1.5v1.5h-1.5zM562.7 78.4h1.5v1.5h-1.5zM562 78.9h1.5v1.5h-1.5zM558.9 75.3h1.5v1.5h-1.5zM566.9 72.1h1.5v1.5h-1.5zM567.5 71.2h1.5v1.5h-1.5zM559.8 79.7h1.5v1.5h-1.5zM567 71.3h1.5v1.5h-1.5zM557.6 78.5h1.5v1.5h-1.5zM559.7 72.5h1.5v1.5h-1.5zM559.5 79h1.5v1.5h-1.5zM567.7 78.9h1.5v1.5h-1.5zM566 70.7h1.5v1.5h-1.5zM561.3 77.2h1.5v1.5h-1.5zM557.7 77h1.5v1.5h-1.5zM565.4 78.3h1.5v1.5h-1.5zM557.9 73.7h1.5v1.5h-1.5zM565.7 78.4h1.5v1.5h-1.5zM564.7 76.6h1.5v1.5h-1.5zM561.3 77.2h1.5v1.5h-1.5zM559.2 70.3h1.5v1.5h-1.5zM563.7 74.2h1.5v1.5h-1.5zM567.1 74h1.5v1.5h-1.5zM557.2 78.4h1.5v1.5h-1.5zM557.6 79.6h1.5v1.5h-1.5zM557.7 73.9h1.5v1.5h-1.5zM564 77.3h1.5v1.5h-1.5zM567.5 79.6h1.5v1.5h-1.5zM562.3 70.5h1.5v1.5h-1.5zM567.1 71.9h1.5v1.5h-1.5zM564.4 73.9h1.5v1.5h-1.5zM566.4 79.3h1.5v1.5h-1.5zM561.8 76.7h1.5v1.5h-1.5zM567.1 70.5h1.5v1.5h-1.5zM567.3 73h1.5v1.5h-1.5zM559 78.4h1.5v1.5h-1.5zM563 79.7h1.5v1.5h-1.5zM556.9 70.6h1.5v1.5h-1.5zM559.8 75.7h1.5v1.5h-1.5zM567.6 78.7h1.5v1.5h-1.5zM565 75.2h1.5v1.5h-1.5zM564.8 72.8h1.5v1.5h-1.5zM566 73.4h1.5v1.5h-1.5zM559.4 70.1h1.5v1.5h-1.5zM558.4 76.4h1.5v1.5h-1.5zM567.4 71.6h1.5v1.5h-1.5zM560.5 78.8h1.5v1.5h-1.5zM558.4 71.8h1.5v1.5h-1.5zM566.6 70.8h1.5v1.5h-1.5zM560.7 72.9h1.5v1.5h-1.5zM562.1 75.4h1.5v1.5h-1.5zM557.9 74.1h1.5v1.5h-1.5zM559.3 71.2h1.5v1.5h-1.5zM559.7 72.9h1.5v1.5h-1.5zM556.7 72.7h1.5v1.5h-1.5zM567.3 74.5h1.5v1.5h-1.5zM567 76.1h1.5v1.5h-1.5zM562.2 70.7h1.5v1.5h-1.5zM558.6 79.3h1.5v1.5h-1.5zM565.8 78.7h1.5v1.5h-1.5zM566.8 74.3h1.5v1.5h-1.5zM566.4 68.3h1.5v1.5h-1.5zM563 69.9h1.5v1.5h-1.5zM564.9 69.5h1.5v1.5h-1.5zM557.6 73.3h1.5v1.5h-1.5zM561.1 68.6h1.5v1.5h-1.5zM560.7 72.5h1.5v1.5h-1.5zM562.7 73.2h1.5v1.5h-1.5zM556.7 74.3h1.5v1.5h-1.5zM559.7 70.8h1.5v1.5h-1.5zM562.5 72.8h1.5v1.5h-1.5zM557.3 66.7h1.5v1.5h-1.5zM565.1 66.4h1.5v1.5h-1.5zM589.6 74.3h1.5v1.5h-1.5zM585.7 79.4h1.5v1.5h-1.5zM586.4 77.3h1.5v1.5h-1.5zM587.7 77h1.5v1.5h-1.5zM590.3 67.3h1.5v1.5h-1.5zM590.2 74.3h1.5v1.5h-1.5zM589.4 70.8h1.5v1.5h-1.5zM591.7 69.9h1.5v1.5h-1.5zM588.8 70.2h1.5v1.5h-1.5zM585.3 77.7h1.5v1.5h-1.5zM591 76.6h1.5v1.5h-1.5zM585.7 70.8h1.5v1.5h-1.5zM593.6 75.3h1.5v1.5h-1.5zM592.5 72.4h1.5v1.5h-1.5zM588.8 68.9h1.5v1.5h-1.5zM588.2 71.7h1.5v1.5h-1.5zM594.3 68.8h1.5v1.5h-1.5zM592.6 77.4h1.5v1.5h-1.5zM588.3 69.7h1.5v1.5h-1.5zM589.4 79.1h1.5v1.5h-1.5zM588.9 72.9h1.5v1.5h-1.5zM586.6 77.6h1.5v1.5h-1.5zM591 73h1.5v1.5h-1.5zM592.4 78.7h1.5v1.5h-1.5zM590.1 78.4h1.5v1.5h-1.5zM585.7 67.9h1.5v1.5h-1.5zM594.1 70.1h1.5v1.5h-1.5zM589.6 79.6h1.5v1.5h-1.5zM585.3 69.2h1.5v1.5h-1.5zM591 72.1h1.5v1.5h-1.5zM591.3 73h1.5v1.5h-1.5zM591.5 72.9h1.5v1.5h-1.5zM587.3 79.1h1.5v1.5h-1.5zM589.4 74.8h1.5v1.5h-1.5zM585.4 69.5h1.5v1.5h-1.5zM593.3 77.2h1.5v1.5h-1.5zM586 73.7h1.5v1.5h-1.5zM585.4 71.6h1.5v1.5h-1.5zM590.1 74.8h1.5v1.5h-1.5zM585.6 77.1h1.5v1.5h-1.5zM587.7 70.8h1.5v1.5h-1.5zM586.5 79.4h1.5v1.5h-1.5zM591.5 71.4h1.5v1.5h-1.5zM585.8 70.4h1.5v1.5h-1.5zM594.3 76.8h1.5v1.5h-1.5zM589 72.1h1.5v1.5h-1.5zM585.8 76.7h1.5v1.5h-1.5zM588.2 74.5h1.5v1.5h-1.5zM591.4 68.4h1.5v1.5h-1.5zM592.7 73.9h1.5v1.5h-1.5zM586 75.8h1.5v1.5h-1.5zM589.4 79.2h1.5v1.5h-1.5zM586.1 75h1.5v1.5h-1.5zM591.4 77.7h1.5v1.5h-1.5zM594.5 75.2h1.5v1.5h-1.5zM594.3 70.1h1.5v1.5h-1.5zM585.8 70.5h1.5v1.5h-1.5zM589.6 79.3h1.5v1.5h-1.5zM589 71.6h1.5v1.5h-1.5zM588.9 68.9h1.5v1.5h-1.5zM592 77.1h1.5v1.5h-1.5zM589.2 67.8h1.5v1.5h-1.5zM590.9 78.7h1.5v1.5h-1.5zM588.9 78.4h1.5v1.5h-1.5zM587.5 73.8h1.5v1.5h-1.5zM587.7 67.4h1.5v1.5h-1.5zM590.3 74.2h1.5v1.5h-1.5zM591.1 78.9h1.5v1.5h-1.5zM591.5 74h1.5v1.5h-1.5zM590.7 79.3h1.5v1.5h-1.5zM589.9 71.1h1.5v1.5h-1.5zM588.1 75.8h1.5v1.5h-1.5zM593.5 79.3h1.5v1.5h-1.5zM589.2 72.9h1.5v1.5h-1.5zM586.2 75.3h1.5v1.5h-1.5zM594.1 74.1h1.5v1.5h-1.5zM588.4 77.5h1.5v1.5h-1.5zM588.3 75.3h1.5v1.5h-1.5zM588.4 74.5h1.5v1.5h-1.5zM590.9 71.4h1.5v1.5h-1.5zM592.8 78h1.5v1.5h-1.5zM585.4 74.7h1.5v1.5h-1.5zM589.2 78.6h1.5v1.5h-1.5zM589.7 75.5h1.5v1.5h-1.5zM590.7 76.7h1.5v1.5h-1.5zM588.7 79.5h1.5v1.5h-1.5zM586.4 74.5h1.5v1.5h-1.5zM586.5 67.7h1.5v1.5h-1.5zM586.4 67.2h1.5v1.5h-1.5zM592.7 70.2h1.5v1.5h-1.5zM589.4 70.1h1.5v1.5h-1.5zM588.3 71.6h1.5v1.5h-1.5zM588.5 70.9h1.5v1.5h-1.5zM592.7 68.3h1.5v1.5h-1.5zM593.5 54.9h1.5v1.5h-1.5zM587.8 69.5h1.5v1.5h-1.5zM588.6 72.2h1.5v1.5h-1.5zM592.8 68h1.5v1.5h-1.5zM612.3 75h1.5v1.5h-1.5zM613.6 79.2h1.5v1.5h-1.5zM612.7 78.8h1.5v1.5h-1.5zM618.6 77.2h1.5v1.5h-1.5zM611.6 78.7h1.5v1.5h-1.5zM618.4 79.1h1.5v1.5h-1.5zM618.5 77.8h1.5v1.5h-1.5zM619.7 79.8h1.5v1.5h-1.5zM615.7 79.1h1.5v1.5h-1.5zM619.3 79h1.5v1.5h-1.5zM617 77.8h1.5v1.5h-1.5zM616.4 75.1h1.5v1.5h-1.5zM614.3 79.7h1.5v1.5h-1.5zM617.6 73.7h1.5v1.5h-1.5zM618.9 77.9h1.5v1.5h-1.5zM619.2 77.8h1.5v1.5h-1.5zM613.2 74.3h1.5v1.5h-1.5zM615 73.2h1.5v1.5h-1.5zM614.5 76h1.5v1.5h-1.5zM615.3 77.8h1.5v1.5h-1.5zM612.9 79.1h1.5v1.5h-1.5zM614 73h1.5v1.5h-1.5zM618.2 77.9h1.5v1.5h-1.5zM610.4 79.5h1.5v1.5h-1.5zM617.4 79.7h1.5v1.5h-1.5zM613.3 73.5h1.5v1.5h-1.5zM612.4 73.4h1.5v1.5h-1.5zM616.6 79h1.5v1.5h-1.5zM612.1 74.3h1.5v1.5h-1.5zM618.7 78.7h1.5v1.5h-1.5zM612.1 73h1.5v1.5h-1.5zM613.7 77.2h1.5v1.5h-1.5zM610.9 79.3h1.5v1.5h-1.5zM610.9 76.6h1.5v1.5h-1.5zM618.6 79.4h1.5v1.5h-1.5zM619.1 76.9h1.5v1.5h-1.5zM614.1 73.8h1.5v1.5h-1.5zM618.3 74.5h1.5v1.5h-1.5zM615.2 73.5h1.5v1.5h-1.5zM615.8 79.5h1.5v1.5h-1.5zM613.3 78.4h1.5v1.5h-1.5zM616.1 76.4h1.5v1.5h-1.5zM614.4 76.8h1.5v1.5h-1.5zM614.3 77.4h1.5v1.5h-1.5zM614.1 78.7h1.5v1.5h-1.5zM618.9 75.8h1.5v1.5h-1.5zM618.9 79.6h1.5v1.5h-1.5zM614.3 77h1.5v1.5h-1.5zM616.1 73.6h1.5v1.5h-1.5zM616 73.6h1.5v1.5h-1.5zM610.8 72.9h1.5v1.5h-1.5zM615.7 74.9h1.5v1.5h-1.5zM612 75.5h1.5v1.5h-1.5zM612.8 73.6h1.5v1.5h-1.5zM612.7 74h1.5v1.5h-1.5zM617.7 72.1h1.5v1.5h-1.5zM613.7 68.3h1.5v1.5h-1.5zM616.8 68.1h1.5v1.5h-1.5zM639.7 78h1.5v1.5h-1.5zM638.9 68.1h1.5v1.5h-1.5zM640.3 70h1.5v1.5h-1.5zM638 71.8h1.5v1.5h-1.5zM638.2 67.5h1.5v1.5h-1.5zM638.7 68.9h1.5v1.5h-1.5zM636.2 64.4h1.5v1.5h-1.5zM637.4 76.4h1.5v1.5h-1.5zM636.8 71.4h1.5v1.5h-1.5zM634.8 73h1.5v1.5h-1.5zM640.9 76.4h1.5v1.5h-1.5zM634.9 66.9h1.5v1.5h-1.5zM639.5 78.5h1.5v1.5h-1.5zM634.7 66.3h1.5v1.5h-1.5zM637 77.3h1.5v1.5h-1.5zM638 77.4h1.5v1.5h-1.5zM642 79.3h1.5v1.5h-1.5zM637 65.5h1.5v1.5h-1.5zM635.3 71.1h1.5v1.5h-1.5zM641.2 77.8h1.5v1.5h-1.5zM638.2 67.5h1.5v1.5h-1.5zM636 76.2h1.5v1.5h-1.5zM638.7 74.4h1.5v1.5h-1.5zM639.4 65.2h1.5v1.5h-1.5zM639.1 65.8h1.5v1.5h-1.5zM636.7 78.7h1.5v1.5h-1.5zM640.5 78.1h1.5v1.5h-1.5zM641.2 67.1h1.5v1.5h-1.5zM642.2 70.5h1.5v1.5h-1.5zM637.7 66.4h1.5v1.5h-1.5zM637.5 67.9h1.5v1.5h-1.5zM635.3 71h1.5v1.5h-1.5zM639.9 78.9h1.5v1.5h-1.5zM637.4 75h1.5v1.5h-1.5zM633.8 76.1h1.5v1.5h-1.5zM642.1 65.2h1.5v1.5h-1.5zM636.1 77h1.5v1.5h-1.5zM638.4 71h1.5v1.5h-1.5zM638.3 73.1h1.5v1.5h-1.5zM640 65.5h1.5v1.5h-1.5zM639.8 67.9h1.5v1.5h-1.5zM639.3 74.5h1.5v1.5h-1.5zM641.3 65.6h1.5v1.5h-1.5zM641.3 73.1h1.5v1.5h-1.5zM638.8 73.7h1.5v1.5h-1.5zM634.9 74.3h1.5v1.5h-1.5zM640.8 77.9h1.5v1.5h-1.5zM637.6 78.3h1.5v1.5h-1.5zM641 72.3h1.5v1.5h-1.5zM636.1 72.6h1.5v1.5h-1.5zM634.2 76.4h1.5v1.5h-1.5zM637.1 77.9h1.5v1.5h-1.5zM637.2 79.4h1.5v1.5h-1.5zM635.3 71.1h1.5v1.5h-1.5zM639.2 77.1h1.5v1.5h-1.5zM639.6 76.8h1.5v1.5h-1.5zM638 77.6h1.5v1.5h-1.5zM635.6 70.6h1.5v1.5h-1.5zM639.6 79.5h1.5v1.5h-1.5zM640.6 77.9h1.5v1.5h-1.5zM634.4 78.3h1.5v1.5h-1.5zM639.5 74.8h1.5v1.5h-1.5zM636.8 79.4h1.5v1.5h-1.5zM640 67.1h1.5v1.5h-1.5zM639.1 64.4h1.5v1.5h-1.5zM634.2 71.2h1.5v1.5h-1.5zM635 71.6h1.5v1.5h-1.5zM641.3 69.8h1.5v1.5h-1.5zM637.3 69.6h1.5v1.5h-1.5zM634.2 71.4h1.5v1.5h-1.5zM635.9 76.3h1.5v1.5h-1.5zM640 64.8h1.5v1.5h-1.5zM634.8 76.3h1.5v1.5h-1.5zM637.3 79.7h1.5v1.5h-1.5zM639.5 79.2h1.5v1.5h-1.5zM640.4 73.1h1.5v1.5h-1.5zM638.4 77.2h1.5v1.5h-1.5zM638 70.6h1.5v1.5h-1.5zM641.8 78.1h1.5v1.5h-1.5zM635.3 76.5h1.5v1.5h-1.5zM642.2 74h1.5v1.5h-1.5zM638.8 75h1.5v1.5h-1.5zM637.8 66.7h1.5v1.5h-1.5zM636.8 75.4h1.5v1.5h-1.5zM637.4 74.1h1.5v1.5h-1.5zM636.1 74.3h1.5v1.5h-1.5zM638.4 79.7h1.5v1.5h-1.5zM638.6 79.7h1.5v1.5h-1.5zM637.8 75.7h1.5v1.5h-1.5zM636.2 71.4h1.5v1.5h-1.5zM638.2 71.3h1.5v1.5h-1.5zM634.3 77.8h1.5v1.5h-1.5zM636 72.8h1.5v1.5h-1.5zM638.1 72.7h1.5v1.5h-1.5zM641.9 75.5h1.5v1.5h-1.5zM635.9 64.5h1.5v1.5h-1.5zM634.7 66.3h1.5v1.5h-1.5zM638.6 68.2h1.5v1.5h-1.5zM636.6 71.8h1.5v1.5h-1.5zM636.6 70.1h1.5v1.5h-1.5zM638.9 76.6h1.5v1.5h-1.5zM640.7 70.8h1.5v1.5h-1.5zM638.9 70.7h1.5v1.5h-1.5zM635.7 67.6h1.5v1.5h-1.5zM635.1 66.4h1.5v1.5h-1.5zM641.2 62.6h1.5v1.5h-1.5zM635.1 68.3h1.5v1.5h-1.5zM641.8 68.5h1.5v1.5h-1.5zM637.5 68.3h1.5v1.5h-1.5zM637.2 64.7h1.5v1.5h-1.5zM661.1 73h1.5v1.5h-1.5zM657 67.7h1.5v1.5h-1.5zM659.6 70h1.5v1.5h-1.5zM659.5 75.7h1.5v1.5h-1.5zM656.7 69.2h1.5v1.5h-1.5zM660.1 76.2h1.5v1.5h-1.5zM657 75.4h1.5v1.5h-1.5zM661.1 78.8h1.5v1.5h-1.5zM655.8 69.5h1.5v1.5h-1.5zM663.1 67.8h1.5v1.5h-1.5zM656.1 72.5h1.5v1.5h-1.5zM656.3 78.4h1.5v1.5h-1.5zM662.1 73.3h1.5v1.5h-1.5zM660.1 74.8h1.5v1.5h-1.5zM659 79h1.5v1.5h-1.5zM657 69.3h1.5v1.5h-1.5zM661.5 78.3h1.5v1.5h-1.5zM661.4 76.2h1.5v1.5h-1.5zM661.7 75.2h1.5v1.5h-1.5zM657.8 66.4h1.5v1.5h-1.5zM660.3 73.4h1.5v1.5h-1.5zM663 79h1.5v1.5h-1.5zM661.8 70.6h1.5v1.5h-1.5zM659.4 68.1h1.5v1.5h-1.5zM663.1 67.1h1.5v1.5h-1.5zM660.3 75.5h1.5v1.5h-1.5zM657.1 76.8h1.5v1.5h-1.5zM658.4 69.7h1.5v1.5h-1.5zM659.8 72.7h1.5v1.5h-1.5zM663 76.3h1.5v1.5h-1.5zM657.2 67.9h1.5v1.5h-1.5zM659.8 71.2h1.5v1.5h-1.5zM658 74.2h1.5v1.5h-1.5zM662.1 75h1.5v1.5h-1.5zM660.7 76.7h1.5v1.5h-1.5zM661.4 73.3h1.5v1.5h-1.5zM658.3 77.9h1.5v1.5h-1.5zM656.4 78.7h1.5v1.5h-1.5zM660 67.5h1.5v1.5h-1.5zM660.2 66.1h1.5v1.5h-1.5zM661.5 78.1h1.5v1.5h-1.5zM662.8 75.9h1.5v1.5h-1.5zM656.5 66.9h1.5v1.5h-1.5zM659.4 67.3h1.5v1.5h-1.5zM657.2 68.6h1.5v1.5h-1.5zM657.8 76.1h1.5v1.5h-1.5zM659 71.7h1.5v1.5h-1.5zM663.6 76.4h1.5v1.5h-1.5zM661.3 71.5h1.5v1.5h-1.5zM659.2 66.8h1.5v1.5h-1.5zM658.6 79.5h1.5v1.5h-1.5zM659.9 75.9h1.5v1.5h-1.5zM662.2 75.8h1.5v1.5h-1.5zM658.7 76.7h1.5v1.5h-1.5zM657 68h1.5v1.5h-1.5zM661.9 74h1.5v1.5h-1.5zM656.6 71.3h1.5v1.5h-1.5zM657.6 77.6h1.5v1.5h-1.5zM657.9 74h1.5v1.5h-1.5zM658.6 76.6h1.5v1.5h-1.5zM661.3 66.2h1.5v1.5h-1.5zM658.5 79h1.5v1.5h-1.5zM657.4 79.5h1.5v1.5h-1.5zM655.9 74.7h1.5v1.5h-1.5zM661.1 67h1.5v1.5h-1.5zM658 72.8h1.5v1.5h-1.5zM663 70.6h1.5v1.5h-1.5zM660.6 67.3h1.5v1.5h-1.5zM659.9 78.2h1.5v1.5h-1.5zM660.6 69h1.5v1.5h-1.5zM660.9 69.9h1.5v1.5h-1.5zM660.8 75.3h1.5v1.5h-1.5zM656.7 73h1.5v1.5h-1.5zM661.1 71.5h1.5v1.5h-1.5zM661.9 70h1.5v1.5h-1.5zM660.4 69h1.5v1.5h-1.5zM660 73.6h1.5v1.5h-1.5zM661.8 69.9h1.5v1.5h-1.5zM663.4 70.9h1.5v1.5h-1.5zM660.6 67.3h1.5v1.5h-1.5zM656.9 71.9h1.5v1.5h-1.5zM657.3 76.8h1.5v1.5h-1.5zM659.6 67.9h1.5v1.5h-1.5zM658.8 68.2h1.5v1.5h-1.5zM659.3 71.2h1.5v1.5h-1.5zM656.7 71.4h1.5v1.5h-1.5zM658.7 68.5h1.5v1.5h-1.5zM658.2 70h1.5v1.5h-1.5zM662.1 70.4h1.5v1.5h-1.5zM657.1 64.7h1.5v1.5h-1.5zM560.8 54.2h1.8v1.8h-1.8zM472.3 29.9h1.8v1.8h-1.8zM566.1 28.7h1.8v1.8h-1.8zM400.8 49.3h1.8v1.8h-1.8zM403.7 44.5h1.8v1.8h-1.8zM440.7 53h1.8v1.8h-1.8zM660.4 50.6h1.8v1.8h-1.8zM588.5 57.9h1.8v1.8h-1.8zM618 57.9h1.8v1.8h-1.8zM637.8 59.1h1.8v1.8h-1.8z"/><line x1="373.4" y1="22.4" x2="373.4" y2="120" stroke="#aaa" stroke-width="1.1"/><line x1="369.4" y1="119.5" x2="373.4" y2="119.5" stroke="#777" stroke-width="0.9"/><text x="368.8" y="122" font-size="7" font-weight="bold" text-anchor="end" fill="#222">0</text><line x1="369.4" y1="95.2" x2="373.4" y2="95.2" stroke="#777" stroke-width="0.9"/><text x="368.8" y="97.7" font-size="7" font-weight="bold" text-anchor="end" fill="#222">2</text><line x1="369.4" y1="70.9" x2="373.4" y2="70.9" stroke="#777" stroke-width="0.9"/><text x="368.8" y="73.4" font-size="7" font-weight="bold" text-anchor="end" fill="#222">4</text><line x1="369.4" y1="46.6" x2="373.4" y2="46.6" stroke="#777" stroke-width="0.9"/><text x="368.8" y="49.1" font-size="7" font-weight="bold" text-anchor="end" fill="#222">6</text><line x1="369.4" y1="22.3" x2="373.4" y2="22.3" stroke="#777" stroke-width="0.9"/><text x="368.8" y="24.8" font-size="7" font-weight="bold" text-anchor="end" fill="#222">8</text><line x1="373.4" y1="122.6" x2="665" y2="122.6" stroke="#c8c8c8" stroke-width="1.5"/><line x1="373.6" y1="122.6" x2="373.6" y2="128.6" stroke="#777" stroke-width="0.9"/><line x1="384.4" y1="122.6" x2="384.4" y2="127.6" stroke="#555" stroke-width="0.9"/><text x="384.4" y="134.7" font-size="7" font-weight="bold" text-anchor="middle" fill="#222">1</text><line x1="405.2" y1="122.6" x2="405.2" y2="127.6" stroke="#555" stroke-width="0.9"/><text x="405.2" y="134.7" font-size="7" font-weight="bold" text-anchor="middle" fill="#222">2</text><line x1="425.5" y1="122.6" x2="425.5" y2="127.6" stroke="#555" stroke-width="0.9"/><text x="425.5" y="134.7" font-size="7" font-weight="bold" text-anchor="middle" fill="#222">3</text><line x1="444.6" y1="122.6" x2="444.6" y2="127.6" stroke="#555" stroke-width="0.9"/><text x="444.6" y="134.7" font-size="7" font-weight="bold" text-anchor="middle" fill="#222">4</text><line x1="461" y1="122.6" x2="461" y2="127.6" stroke="#555" stroke-width="0.9"/><text x="461" y="134.7" font-size="7" font-weight="bold" text-anchor="middle" fill="#222">5</text><line x1="475.6" y1="122.6" x2="475.6" y2="127.6" stroke="#555" stroke-width="0.9"/><text x="475.6" y="134.7" font-size="7" font-weight="bold" text-anchor="middle" fill="#222">6</text><line x1="490.5" y1="122.6" x2="490.5" y2="127.6" stroke="#555" stroke-width="0.9"/><text x="490.5" y="134.7" font-size="7" font-weight="bold" text-anchor="middle" fill="#222">7</text><line x1="505.6" y1="122.6" x2="505.6" y2="127.6" stroke="#555" stroke-width="0.9"/><text x="505.6" y="134.7" font-size="7" font-weight="bold" text-anchor="middle" fill="#222">8</text><line x1="520.5" y1="122.6" x2="520.5" y2="127.6" stroke="#555" stroke-width="0.9"/><text x="520.5" y="134.7" font-size="7" font-weight="bold" text-anchor="middle" fill="#222">9</text><line x1="534.9" y1="122.6" x2="534.9" y2="127.6" stroke="#555" stroke-width="0.9"/><text x="534.9" y="134.7" font-size="7" font-weight="bold" text-anchor="middle" fill="#222">10</text><line x1="548.7" y1="122.6" x2="548.7" y2="127.6" stroke="#555" stroke-width="0.9"/><text x="548.7" y="134.7" font-size="7" font-weight="bold" text-anchor="middle" fill="#222">11</text><line x1="562.8" y1="122.6" x2="562.8" y2="127.6" stroke="#555" stroke-width="0.9"/><text x="562.8" y="134.7" font-size="7" font-weight="bold" text-anchor="middle" fill="#222">12</text><line x1="577.1" y1="122.6" x2="577.1" y2="127.6" stroke="#555" stroke-width="0.9"/><text x="577.1" y="134.7" font-size="7" font-weight="bold" text-anchor="middle" fill="#222">13</text><line x1="590.2" y1="122.6" x2="590.2" y2="127.6" stroke="#555" stroke-width="0.9"/><text x="590.2" y="134.7" font-size="7" font-weight="bold" text-anchor="middle" fill="#222">14</text><line x1="602.8" y1="122.6" x2="602.8" y2="127.6" stroke="#555" stroke-width="0.9"/><text x="602.8" y="134.7" font-size="7" font-weight="bold" text-anchor="middle" fill="#222">15</text><line x1="615.2" y1="122.6" x2="615.2" y2="127.6" stroke="#555" stroke-width="0.9"/><text x="615.2" y="134.7" font-size="7" font-weight="bold" text-anchor="middle" fill="#222">16</text><line x1="627.2" y1="122.6" x2="627.2" y2="127.6" stroke="#555" stroke-width="0.9"/><text x="627.2" y="134.7" font-size="7" font-weight="bold" text-anchor="middle" fill="#222">17</text><line x1="638.4" y1="122.6" x2="638.4" y2="127.6" stroke="#555" stroke-width="0.9"/><text x="638.4" y="134.7" font-size="7" font-weight="bold" text-anchor="middle" fill="#222">18</text><line x1="649.5" y1="122.6" x2="649.5" y2="127.6" stroke="#555" stroke-width="0.9"/><text x="649.5" y="134.7" font-size="7" font-weight="bold" text-anchor="middle" fill="#222">19</text><line x1="660.1" y1="122.6" x2="660.1" y2="127.6" stroke="#555" stroke-width="0.9"/><text x="660.1" y="134.7" font-size="7" font-weight="bold" text-anchor="middle" fill="#222">20</text><text x="364.2" y="134.7" font-size="7" font-weight="bold" fill="#222">Chr</text><line x1="373.4" y1="34.5" x2="665" y2="34.5" stroke="#444" stroke-width="0.8" stroke-dasharray="2 1.1"/><text x="491.9" y="15.4" font-size="11.5" letter-spacing="0.5" font-weight="bold" fill="#111">Bb−b−hap2</text><text x="366.3" y="10.6" font-size="14.4" font-weight="bold" fill="#111">B</text><text transform="translate(357.6 70.8) rotate(-90)" font-size="12.3" text-anchor="middle" fill="#222">−log<tspan font-size="8" dy="2">10</tspan><tspan dy="-2">(p)</tspan></text><path d="M24.5 460.2V163.4H315.3V460.2" fill="none" stroke="#333" stroke-width="1.1"/><line x1="24" y1="460.2" x2="315.8" y2="460.2" stroke="#7a7a7a" stroke-width="1.4"/><line x1="24.5" y1="460.2" x2="24.5" y2="463.2" stroke="#333" stroke-width="0.9"/><text x="24.5" y="472" font-size="9.8" text-anchor="middle" fill="#222">0</text><line x1="66.6" y1="460.2" x2="66.6" y2="463.2" stroke="#333" stroke-width="0.9"/><text x="69.2" y="472" font-size="9.8" text-anchor="middle" fill="#222">5kb</text><line x1="108.7" y1="460.2" x2="108.7" y2="463.2" stroke="#333" stroke-width="0.9"/><text x="109.9" y="472" font-size="9.8" text-anchor="middle" fill="#222">10kb</text><line x1="150.8" y1="460.2" x2="150.8" y2="463.2" stroke="#333" stroke-width="0.9"/><text x="150.8" y="472" font-size="9.8" text-anchor="middle" fill="#222">15kb</text><line x1="192.9" y1="460.2" x2="192.9" y2="463.2" stroke="#333" stroke-width="0.9"/><text x="192.9" y="472" font-size="9.8" text-anchor="middle" fill="#222">20kb</text><line x1="235" y1="460.2" x2="235" y2="463.2" stroke="#333" stroke-width="0.9"/><text x="235" y="472" font-size="9.8" text-anchor="middle" fill="#222">25kb</text><line x1="277.1" y1="460.2" x2="277.1" y2="463.2" stroke="#333" stroke-width="0.9"/><text x="277.1" y="472" font-size="9.8" text-anchor="middle" fill="#222">30kb</text><line x1="21.5" y1="460.2" x2="24.5" y2="460.2" stroke="#333" stroke-width="0.9"/><text transform="translate(20.3 458.3) rotate(-90)" font-size="9.8" text-anchor="middle" fill="#222">0</text><line x1="21.5" y1="417.2" x2="24.5" y2="417.2" stroke="#333" stroke-width="0.9"/><text transform="translate(20.3 415.4) rotate(-90)" font-size="9.8" text-anchor="middle" fill="#222">5kb</text><line x1="21.5" y1="374.3" x2="24.5" y2="374.3" stroke="#333" stroke-width="0.9"/><text transform="translate(20.3 374.3) rotate(-90)" font-size="9.8" text-anchor="middle" fill="#222">10kb</text><line x1="21.5" y1="331.4" x2="24.5" y2="331.4" stroke="#333" stroke-width="0.9"/><text transform="translate(20.3 331.4) rotate(-90)" font-size="9.8" text-anchor="middle" fill="#222">15kb</text><line x1="21.5" y1="288.4" x2="24.5" y2="288.4" stroke="#333" stroke-width="0.9"/><text transform="translate(20.3 288.4) rotate(-90)" font-size="9.8" text-anchor="middle" fill="#222">20kb</text><line x1="21.5" y1="245.4" x2="24.5" y2="245.4" stroke="#333" stroke-width="0.9"/><text transform="translate(20.3 245.4) rotate(-90)" font-size="9.8" text-anchor="middle" fill="#222">25kb</text><line x1="21.5" y1="202.5" x2="24.5" y2="202.5" stroke="#333" stroke-width="0.9"/><text transform="translate(20.3 202.5) rotate(-90)" font-size="9.8" text-anchor="middle" fill="#222">30kb</text><text x="168.6" y="159.6" font-size="9.75" text-anchor="middle" fill="#222">Bb-b-hap1-chr13: 3,841,172-3,875,670</text><text x="23.6" y="157.8" font-size="14" font-weight="bold" fill="#111">C</text><line x1="24.5" y1="460.2" x2="315.3" y2="163.4" stroke="#333" stroke-width="1.1"/><rect x="32.8" y="446" width="5" height="5" fill="#333"/><g fill="#555"><rect x="284.4" y="184.8" width="0.9" height="0.9" opacity="0.4"/><rect x="284.4" y="188.8" width="0.9" height="0.9" opacity="0.4"/><rect x="284.4" y="189.8" width="0.9" height="0.9" opacity="0.4"/><rect x="284.4" y="191.8" width="0.9" height="0.9" opacity="0.2"/><rect x="284.4" y="192.8" width="0.9" height="0.9" opacity="0.6"/><rect x="284.4" y="194.8" width="0.9" height="0.9" opacity="0.5"/><rect x="285.4" y="178.8" width="0.9" height="0.9" opacity="0.4"/><rect x="285.4" y="179.8" width="0.9" height="0.9" opacity="0.2"/><rect x="285.4" y="181.8" width="0.9" height="0.9" opacity="0.2"/><rect x="285.4" y="184.8" width="0.9" height="0.9" opacity="0.6"/><rect x="285.4" y="185.8" width="0.9" height="0.9" opacity="0.5"/><rect x="285.4" y="186.8" width="0.9" height="0.9" opacity="0.6"/><rect x="285.4" y="190.8" width="0.9" height="0.9" opacity="0.3"/><rect x="285.4" y="191.8" width="0.9" height="0.9" opacity="0.2"/><rect x="285.4" y="192.8" width="0.9" height="0.9" opacity="0.3"/><rect x="285.4" y="194.8" width="0.9" height="0.9" opacity="0.5"/><rect x="286.4" y="178.8" width="0.9" height="0.9" opacity="0.3"/><rect x="286.4" y="180.8" width="0.9" height="0.9" opacity="0.3"/><rect x="286.4" y="181.8" width="0.9" height="0.9" opacity="0.5"/><rect x="286.4" y="182.8" width="0.9" height="0.9" opacity="0.6"/><rect x="286.4" y="183.8" width="0.9" height="0.9" opacity="0.5"/><rect x="286.4" y="185.8" width="0.9" height="0.9" opacity="0.5"/><rect x="286.4" y="186.8" width="0.9" height="0.9" opacity="0.4"/><rect x="286.4" y="187.8" width="0.9" height="0.9" opacity="0.2"/><rect x="286.4" y="188.8" width="0.9" height="0.9" opacity="0.6"/><rect x="286.4" y="189.8" width="0.9" height="0.9" opacity="0.5"/><rect x="286.4" y="192.8" width="0.9" height="0.9" opacity="0.3"/><rect x="286.4" y="193.8" width="0.9" height="0.9" opacity="0.5"/><rect x="286.4" y="194.8" width="0.9" height="0.9" opacity="0.5"/><rect x="287.4" y="180.8" width="0.9" height="0.9" opacity="0.6"/><rect x="287.4" y="181.8" width="0.9" height="0.9" opacity="0.3"/><rect x="287.4" y="184.8" width="0.9" height="0.9" opacity="0.6"/><rect x="287.4" y="185.8" width="0.9" height="0.9" opacity="0.3"/><rect x="287.4" y="186.8" width="0.9" height="0.9" opacity="0.2"/><rect x="287.4" y="187.8" width="0.9" height="0.9" opacity="0.2"/><rect x="287.4" y="190.8" width="0.9" height="0.9" opacity="0.2"/><rect x="287.4" y="192.8" width="0.9" height="0.9" opacity="0.3"/><rect x="287.4" y="193.8" width="0.9" height="0.9" opacity="0.4"/><rect x="288.4" y="178.8" width="0.9" height="0.9" opacity="0.3"/><rect x="288.4" y="179.8" width="0.9" height="0.9" opacity="0.6"/><rect x="288.4" y="180.8" width="0.9" height="0.9" opacity="0.4"/><rect x="288.4" y="182.8" width="0.9" height="0.9" opacity="0.5"/><rect x="288.4" y="186.8" width="0.9" height="0.9" opacity="0.3"/><rect x="288.4" y="187.8" width="0.9" height="0.9" opacity="0.5"/><rect x="288.4" y="188.8" width="0.9" height="0.9" opacity="0.4"/><rect x="288.4" y="192.8" width="0.9" height="0.9" opacity="0.4"/><rect x="288.4" y="194.8" width="0.9" height="0.9" opacity="0.3"/><rect x="289.4" y="178.8" width="0.9" height="0.9" opacity="0.2"/><rect x="289.4" y="179.8" width="0.9" height="0.9" opacity="0.6"/><rect x="289.4" y="182.8" width="0.9" height="0.9" opacity="0.3"/><rect x="289.4" y="183.8" width="0.9" height="0.9" opacity="0.3"/><rect x="289.4" y="186.8" width="0.9" height="0.9" opacity="0.5"/><rect x="289.4" y="191.8" width="0.9" height="0.9" opacity="0.5"/><rect x="289.4" y="192.8" width="0.9" height="0.9" opacity="0.4"/><rect x="290.4" y="178.8" width="0.9" height="0.9" opacity="0.6"/><rect x="290.4" y="181.8" width="0.9" height="0.9" opacity="0.4"/><rect x="290.4" y="182.8" width="0.9" height="0.9" opacity="0.5"/><rect x="290.4" y="183.8" width="0.9" height="0.9" opacity="0.5"/><rect x="290.4" y="186.8" width="0.9" height="0.9" opacity="0.4"/><rect x="290.4" y="189.8" width="0.9" height="0.9" opacity="0.5"/><rect x="290.4" y="194.8" width="0.9" height="0.9" opacity="0.4"/><rect x="291.4" y="178.8" width="0.9" height="0.9" opacity="0.5"/><rect x="291.4" y="180.8" width="0.9" height="0.9" opacity="0.5"/><rect x="291.4" y="183.8" width="0.9" height="0.9" opacity="0.5"/><rect x="291.4" y="186.8" width="0.9" height="0.9" opacity="0.4"/><rect x="291.4" y="190.8" width="0.9" height="0.9" opacity="0.2"/><rect x="291.4" y="191.8" width="0.9" height="0.9" opacity="0.4"/><rect x="291.4" y="192.8" width="0.9" height="0.9" opacity="0.5"/><rect x="291.4" y="194.8" width="0.9" height="0.9" opacity="0.4"/><rect x="292.4" y="178.8" width="0.9" height="0.9" opacity="0.2"/><rect x="292.4" y="179.8" width="0.9" height="0.9" opacity="0.3"/><rect x="292.4" y="180.8" width="0.9" height="0.9" opacity="0.2"/><rect x="292.4" y="181.8" width="0.9" height="0.9" opacity="0.4"/><rect x="292.4" y="182.8" width="0.9" height="0.9" opacity="0.4"/><rect x="292.4" y="184.8" width="0.9" height="0.9" opacity="0.6"/><rect x="292.4" y="185.8" width="0.9" height="0.9" opacity="0.3"/><rect x="292.4" y="186.8" width="0.9" height="0.9" opacity="0.3"/><rect x="292.4" y="187.8" width="0.9" height="0.9" opacity="0.5"/><rect x="292.4" y="188.8" width="0.9" height="0.9" opacity="0.2"/><rect x="292.4" y="190.8" width="0.9" height="0.9" opacity="0.4"/><rect x="292.4" y="191.8" width="0.9" height="0.9" opacity="0.4"/><rect x="292.4" y="194.8" width="0.9" height="0.9" opacity="0.5"/><rect x="293.4" y="179.8" width="0.9" height="0.9" opacity="0.2"/><rect x="293.4" y="185.8" width="0.9" height="0.9" opacity="0.6"/><rect x="293.4" y="186.8" width="0.9" height="0.9" opacity="0.2"/><rect x="293.4" y="189.8" width="0.9" height="0.9" opacity="0.4"/><rect x="293.4" y="191.8" width="0.9" height="0.9" opacity="0.3"/><rect x="293.4" y="192.8" width="0.9" height="0.9" opacity="0.3"/><rect x="293.4" y="194.8" width="0.9" height="0.9" opacity="0.6"/><rect x="294.4" y="180.8" width="0.9" height="0.9" opacity="0.6"/><rect x="294.4" y="181.8" width="0.9" height="0.9" opacity="0.3"/><rect x="294.4" y="182.8" width="0.9" height="0.9" opacity="0.6"/><rect x="294.4" y="183.8" width="0.9" height="0.9" opacity="0.3"/><rect x="294.4" y="184.8" width="0.9" height="0.9" opacity="0.2"/><rect x="294.4" y="186.8" width="0.9" height="0.9" opacity="0.3"/><rect x="294.4" y="189.8" width="0.9" height="0.9" opacity="0.4"/><rect x="294.4" y="190.8" width="0.9" height="0.9" opacity="0.6"/><rect x="294.4" y="192.8" width="0.9" height="0.9" opacity="0.3"/><rect x="294.4" y="193.8" width="0.9" height="0.9" opacity="0.6"/><rect x="294.4" y="194.8" width="0.9" height="0.9" opacity="0.4"/><rect x="295.4" y="178.8" width="0.9" height="0.9" opacity="0.4"/><rect x="295.4" y="181.8" width="0.9" height="0.9" opacity="0.5"/><rect x="295.4" y="182.8" width="0.9" height="0.9" opacity="0.4"/><rect x="295.4" y="183.8" width="0.9" height="0.9" opacity="0.3"/><rect x="295.4" y="184.8" width="0.9" height="0.9" opacity="0.4"/><rect x="295.4" y="185.8" width="0.9" height="0.9" opacity="0.5"/><rect x="295.4" y="187.8" width="0.9" height="0.9" opacity="0.3"/><rect x="295.4" y="188.8" width="0.9" height="0.9" opacity="0.6"/><rect x="295.4" y="190.8" width="0.9" height="0.9" opacity="0.2"/><rect x="295.4" y="192.8" width="0.9" height="0.9" opacity="0.4"/><rect x="296.4" y="178.8" width="0.9" height="0.9" opacity="0.6"/><rect x="296.4" y="179.8" width="0.9" height="0.9" opacity="0.3"/><rect x="296.4" y="181.8" width="0.9" height="0.9" opacity="0.3"/><rect x="296.4" y="183.8" width="0.9" height="0.9" opacity="0.5"/><rect x="296.4" y="185.8" width="0.9" height="0.9" opacity="0.3"/><rect x="296.4" y="188.8" width="0.9" height="0.9" opacity="0.4"/><rect x="296.4" y="189.8" width="0.9" height="0.9" opacity="0.4"/><rect x="296.4" y="190.8" width="0.9" height="0.9" opacity="0.2"/><rect x="296.4" y="193.8" width="0.9" height="0.9" opacity="0.3"/><rect x="297.4" y="180.8" width="0.9" height="0.9" opacity="0.5"/><rect x="297.4" y="184.8" width="0.9" height="0.9" opacity="0.5"/><rect x="297.4" y="185.8" width="0.9" height="0.9" opacity="0.4"/><rect x="297.4" y="188.8" width="0.9" height="0.9" opacity="0.3"/><rect x="297.4" y="190.8" width="0.9" height="0.9" opacity="0.4"/><rect x="297.4" y="191.8" width="0.9" height="0.9" opacity="0.2"/><rect x="297.4" y="193.8" width="0.9" height="0.9" opacity="0.2"/><rect x="297.4" y="194.8" width="0.9" height="0.9" opacity="0.2"/><rect x="298.4" y="178.8" width="0.9" height="0.9" opacity="0.4"/><rect x="298.4" y="181.8" width="0.9" height="0.9" opacity="0.3"/><rect x="298.4" y="182.8" width="0.9" height="0.9" opacity="0.4"/><rect x="298.4" y="183.8" width="0.9" height="0.9" opacity="0.6"/><rect x="298.4" y="184.8" width="0.9" height="0.9" opacity="0.2"/><rect x="298.4" y="186.8" width="0.9" height="0.9" opacity="0.4"/><rect x="298.4" y="187.8" width="0.9" height="0.9" opacity="0.6"/><rect x="298.4" y="190.8" width="0.9" height="0.9" opacity="0.4"/><rect x="298.4" y="191.8" width="0.9" height="0.9" opacity="0.5"/><rect x="298.4" y="192.8" width="0.9" height="0.9" opacity="0.2"/><rect x="298.4" y="193.8" width="0.9" height="0.9" opacity="0.3"/><rect x="299.4" y="178.8" width="0.9" height="0.9" opacity="0.5"/><rect x="299.4" y="180.8" width="0.9" height="0.9" opacity="0.5"/><rect x="299.4" y="181.8" width="0.9" height="0.9" opacity="0.2"/><rect x="299.4" y="183.8" width="0.9" height="0.9" opacity="0.5"/><rect x="299.4" y="184.8" width="0.9" height="0.9" opacity="0.3"/><rect x="299.4" y="186.8" width="0.9" height="0.9" opacity="0.5"/><rect x="299.4" y="187.8" width="0.9" height="0.9" opacity="0.2"/><rect x="299.4" y="190.8" width="0.9" height="0.9" opacity="0.2"/><rect x="299.4" y="194.8" width="0.9" height="0.9" opacity="0.4"/></g><g stroke="#333" stroke-width="0.9" opacity="0.9" fill="none" stroke-dasharray="1.6 0.9"><line x1="284.2" y1="188.9" x2="294.2" y2="178.9"/><line x1="290.2" y1="194.9" x2="300.2" y2="184.9"/><line x1="285.7" y1="184.4" x2="294.7" y2="193.4"/><line x1="289.7" y1="180.4" x2="298.7" y2="189.4"/></g><circle cx="289.3" cy="185.6" r="1.7" fill="#222" opacity="0.8"/><circle cx="293.5" cy="185.6" r="1.7" fill="#222" opacity="0.8"/><circle cx="289.3" cy="190.1" r="1.7" fill="#222" opacity="0.8"/><circle cx="293.5" cy="190.1" r="1.7" fill="#222" opacity="0.8"/><path stroke="#555" stroke-width="0.75" fill="none" d="M74.8 404.3L79.2 408.7M74.8 408.7L79.2 404.3"/><path stroke="#555" stroke-width="0.75" fill="none" d="M152.1 325.2L156.5 329.6M152.1 329.6L156.5 325.2"/><circle cx="154.3" cy="327.4" r="1.5" fill="none" stroke="#777" stroke-width="0.6"/><circle cx="77.5" cy="406" r="1.2" fill="none" stroke="#888" stroke-width="0.5"/><g fill="#c4c4c4"><rect x="201" y="248.2" width="1" height="1"/><rect x="230.8" y="248.2" width="1" height="1"/><rect x="221.8" y="257.6" width="1" height="1"/><rect x="172.2" y="279" width="1" height="1"/><rect x="198.5" y="275" width="1" height="1"/><rect x="205" y="282.4" width="1" height="1"/><rect x="231.8" y="279" width="1" height="1"/><rect x="202" y="308.7" width="1" height="1"/><rect x="178.7" y="300.3" width="1" height="1"/><rect x="268" y="213" width="1" height="1"/><rect x="39.7" y="431.8" width="1" height="1"/><rect x="52.1" y="442.7" width="1" height="1"/><rect x="184" y="296" width="1" height="1"/><rect x="270" y="212" width="1" height="1"/></g><g fill="#c4c4c4"><rect x="354.6" y="423" width="1" height="1"/><rect x="352" y="453.6" width="1" height="1"/><rect x="369" y="454" width="1" height="1"/><rect x="408" y="334" width="1" height="1"/><rect x="449" y="346" width="1" height="1"/><rect x="499" y="340" width="1" height="1"/><rect x="514" y="314" width="1" height="1"/><rect x="546" y="326" width="1" height="1"/><rect x="404" y="430" width="1" height="1"/><rect x="373" y="300" width="1" height="1"/><rect x="389" y="421" width="1" height="1"/></g><text transform="translate(7.2 313.9) rotate(-90)" font-size="9.75" text-anchor="middle" fill="#222">Bb-b-hap1-chr13: 3,841,172-3,875,670</text><path fill="#7dcfb4" d="M24.5 474.2H218.8L220.5 477L218.8 479.8H24.5Z"/><path fill="#7dcfb4" d="M236.8 474.2H313.8L315.5 477L313.8 479.8H236.8Z"/><text x="122.9" y="487.8" font-size="10" font-style="italic" text-anchor="middle" fill="#222">vps9c</text><text x="273.1" y="487.8" font-size="10" font-style="italic" text-anchor="middle" fill="#222">panx3-like</text><path d="M328.2 460.2V163.4H682.5V460.2" fill="none" stroke="#333" stroke-width="1.1"/><line x1="327.7" y1="460.2" x2="683" y2="460.2" stroke="#7a7a7a" stroke-width="1.4"/><line x1="328.2" y1="460.2" x2="328.2" y2="463.2" stroke="#333" stroke-width="0.9"/><text x="328.2" y="472" font-size="9.8" text-anchor="middle" fill="#222">0</text><line x1="370.3" y1="460.2" x2="370.3" y2="463.2" stroke="#333" stroke-width="0.9"/><text x="372.9" y="472" font-size="9.8" text-anchor="middle" fill="#222">5kb</text><line x1="412.5" y1="460.2" x2="412.5" y2="463.2" stroke="#333" stroke-width="0.9"/><text x="413.7" y="472" font-size="9.8" text-anchor="middle" fill="#222">10kb</text><line x1="454.6" y1="460.2" x2="454.6" y2="463.2" stroke="#333" stroke-width="0.9"/><text x="454.6" y="472" font-size="9.8" text-anchor="middle" fill="#222">15kb</text><line x1="496.8" y1="460.2" x2="496.8" y2="463.2" stroke="#333" stroke-width="0.9"/><text x="496.8" y="472" font-size="9.8" text-anchor="middle" fill="#222">20kb</text><line x1="539" y1="460.2" x2="539" y2="463.2" stroke="#333" stroke-width="0.9"/><text x="539" y="472" font-size="9.8" text-anchor="middle" fill="#222">25kb</text><line x1="581.1" y1="460.2" x2="581.1" y2="463.2" stroke="#333" stroke-width="0.9"/><text x="581.1" y="472" font-size="9.8" text-anchor="middle" fill="#222">30kb</text><line x1="623.2" y1="460.2" x2="623.2" y2="463.2" stroke="#333" stroke-width="0.9"/><text x="623.2" y="472" font-size="9.8" text-anchor="middle" fill="#222">35kb</text><line x1="665.4" y1="460.2" x2="665.4" y2="463.2" stroke="#333" stroke-width="0.9"/><text x="665.4" y="472" font-size="9.8" text-anchor="middle" fill="#222">40kb</text><line x1="682.5" y1="417.2" x2="686.5" y2="417.2" stroke="#333" stroke-width="0.9"/><line x1="682.5" y1="374.3" x2="686.5" y2="374.3" stroke="#333" stroke-width="0.9"/><line x1="682.5" y1="331.4" x2="686.5" y2="331.4" stroke="#333" stroke-width="0.9"/><line x1="682.5" y1="288.4" x2="686.5" y2="288.4" stroke="#333" stroke-width="0.9"/><line x1="682.5" y1="245.4" x2="686.5" y2="245.4" stroke="#333" stroke-width="0.9"/><line x1="682.5" y1="202.5" x2="686.5" y2="202.5" stroke="#333" stroke-width="0.9"/><text x="513.6" y="159.6" font-size="9.75" text-anchor="middle" fill="#222">Bb-b-hap2-chr13: 3,894,899-3,936,882</text><text x="327.6" y="159" font-size="14" font-weight="bold" fill="#111">D</text><g stroke="#efb3ee" stroke-width="1.3" stroke-dasharray="2.4 2.5"><line x1="532.6" y1="162.4" x2="532.6" y2="481.4"/><line x1="567.3" y1="162.4" x2="567.3" y2="481.4"/><line x1="533.5" y1="162.4" x2="567.3" y2="162.4"/></g><path d="M328.4 460L337.2 451M362.5 443.5L365.7 440.2M368.3 437.3L382.1 424.6M386.2 418.4L397.9 406.7M398.9 404.6L412.7 389.8M415.3 387.3L433.8 368.8M446.1 364.7L458.3 352.9M458.3 345.8L460.4 343.7M461.9 339.6L463.9 337.6M466 335.5L469 332.5M469.6 331L483.4 315.6M487 310.8L495.8 301.2L508 288L511.5 287.6L518.5 281M521.2 278.4L532.5 267" fill="none" stroke="#2a2a2a" stroke-width="1.05" stroke-dasharray="7 1.2 3 1 9 1.4 2 1.2 5 1"/><path d="M567.2 266.4H569.2L587.6 248M588.6 245.5L611.1 223M616.7 221L625.7 211.7M635.7 211.7L682.3 163.6" fill="none" stroke="#2a2a2a" stroke-width="1.15"/><rect x="336.7" y="445.8" width="6.2" height="5.8" fill="#333"/><line x1="362.1" y1="446.1" x2="362.1" y2="451.7" stroke="#444" stroke-width="1.5"/><g fill="#555"><rect x="654.6" y="179.4" width="0.9" height="0.9" opacity="0.2"/><rect x="654.6" y="180.4" width="0.9" height="0.9" opacity="0.3"/><rect x="654.6" y="181.4" width="0.9" height="0.9" opacity="0.2"/><rect x="654.6" y="183.4" width="0.9" height="0.9" opacity="0.2"/><rect x="654.6" y="185.4" width="0.9" height="0.9" opacity="0.2"/><rect x="654.6" y="187.4" width="0.9" height="0.9" opacity="0.3"/><rect x="654.6" y="188.4" width="0.9" height="0.9" opacity="0.2"/><rect x="654.6" y="189.4" width="0.9" height="0.9" opacity="0.2"/><rect x="654.6" y="193.4" width="0.9" height="0.9" opacity="0.3"/><rect x="654.6" y="194.4" width="0.9" height="0.9" opacity="0.2"/><rect x="655.6" y="181.4" width="0.9" height="0.9" opacity="0.1"/><rect x="655.6" y="182.4" width="0.9" height="0.9" opacity="0.1"/><rect x="655.6" y="183.4" width="0.9" height="0.9" opacity="0.3"/><rect x="655.6" y="184.4" width="0.9" height="0.9" opacity="0.3"/><rect x="655.6" y="186.4" width="0.9" height="0.9" opacity="0.2"/><rect x="655.6" y="187.4" width="0.9" height="0.9" opacity="0.1"/><rect x="655.6" y="188.4" width="0.9" height="0.9" opacity="0.3"/><rect x="655.6" y="189.4" width="0.9" height="0.9" opacity="0.3"/><rect x="655.6" y="190.4" width="0.9" height="0.9" opacity="0.2"/><rect x="655.6" y="192.4" width="0.9" height="0.9" opacity="0.1"/><rect x="655.6" y="193.4" width="0.9" height="0.9" opacity="0.2"/><rect x="655.6" y="194.4" width="0.9" height="0.9" opacity="0.1"/><rect x="656.6" y="179.4" width="0.9" height="0.9" opacity="0.3"/><rect x="656.6" y="180.4" width="0.9" height="0.9" opacity="0.2"/><rect x="656.6" y="182.4" width="0.9" height="0.9" opacity="0.2"/><rect x="656.6" y="183.4" width="0.9" height="0.9" opacity="0.3"/><rect x="656.6" y="185.4" width="0.9" height="0.9" opacity="0.2"/><rect x="656.6" y="187.4" width="0.9" height="0.9" opacity="0.2"/><rect x="656.6" y="190.4" width="0.9" height="0.9" opacity="0.3"/><rect x="656.6" y="192.4" width="0.9" height="0.9" opacity="0.3"/><rect x="656.6" y="193.4" width="0.9" height="0.9" opacity="0.2"/><rect x="657.6" y="181.4" width="0.9" height="0.9" opacity="0.2"/><rect x="657.6" y="184.4" width="0.9" height="0.9" opacity="0.2"/><rect x="657.6" y="187.4" width="0.9" height="0.9" opacity="0.3"/><rect x="657.6" y="188.4" width="0.9" height="0.9" opacity="0.2"/><rect x="657.6" y="189.4" width="0.9" height="0.9" opacity="0.2"/><rect x="657.6" y="190.4" width="0.9" height="0.9" opacity="0.1"/><rect x="657.6" y="192.4" width="0.9" height="0.9" opacity="0.3"/><rect x="657.6" y="193.4" width="0.9" height="0.9" opacity="0.3"/><rect x="658.6" y="179.4" width="0.9" height="0.9" opacity="0.3"/><rect x="658.6" y="180.4" width="0.9" height="0.9" opacity="0.3"/><rect x="658.6" y="181.4" width="0.9" height="0.9" opacity="0.2"/><rect x="658.6" y="183.4" width="0.9" height="0.9" opacity="0.2"/><rect x="658.6" y="185.4" width="0.9" height="0.9" opacity="0.3"/><rect x="658.6" y="186.4" width="0.9" height="0.9" opacity="0.3"/><rect x="658.6" y="187.4" width="0.9" height="0.9" opacity="0.1"/><rect x="658.6" y="189.4" width="0.9" height="0.9" opacity="0.3"/><rect x="658.6" y="192.4" width="0.9" height="0.9" opacity="0.1"/><rect x="658.6" y="193.4" width="0.9" height="0.9" opacity="0.2"/><rect x="659.6" y="180.4" width="0.9" height="0.9" opacity="0.1"/><rect x="659.6" y="182.4" width="0.9" height="0.9" opacity="0.1"/><rect x="659.6" y="185.4" width="0.9" height="0.9" opacity="0.2"/><rect x="659.6" y="188.4" width="0.9" height="0.9" opacity="0.3"/><rect x="659.6" y="189.4" width="0.9" height="0.9" opacity="0.3"/><rect x="659.6" y="192.4" width="0.9" height="0.9" opacity="0.1"/><rect x="659.6" y="193.4" width="0.9" height="0.9" opacity="0.2"/><rect x="659.6" y="194.4" width="0.9" height="0.9" opacity="0.3"/><rect x="660.6" y="179.4" width="0.9" height="0.9" opacity="0.3"/><rect x="660.6" y="180.4" width="0.9" height="0.9" opacity="0.1"/><rect x="660.6" y="181.4" width="0.9" height="0.9" opacity="0.2"/><rect x="660.6" y="183.4" width="0.9" height="0.9" opacity="0.1"/><rect x="660.6" y="184.4" width="0.9" height="0.9" opacity="0.3"/><rect x="660.6" y="185.4" width="0.9" height="0.9" opacity="0.3"/><rect x="660.6" y="186.4" width="0.9" height="0.9" opacity="0.4"/><rect x="660.6" y="188.4" width="0.9" height="0.9" opacity="0.2"/><rect x="660.6" y="189.4" width="0.9" height="0.9" opacity="0.3"/><rect x="660.6" y="190.4" width="0.9" height="0.9" opacity="0.3"/><rect x="660.6" y="191.4" width="0.9" height="0.9" opacity="0.2"/><rect x="660.6" y="194.4" width="0.9" height="0.9" opacity="0.3"/><rect x="661.6" y="179.4" width="0.9" height="0.9" opacity="0.2"/><rect x="661.6" y="181.4" width="0.9" height="0.9" opacity="0.3"/><rect x="661.6" y="182.4" width="0.9" height="0.9" opacity="0.3"/><rect x="661.6" y="183.4" width="0.9" height="0.9" opacity="0.3"/><rect x="661.6" y="187.4" width="0.9" height="0.9" opacity="0.3"/><rect x="661.6" y="190.4" width="0.9" height="0.9" opacity="0.1"/><rect x="661.6" y="191.4" width="0.9" height="0.9" opacity="0.3"/><rect x="661.6" y="192.4" width="0.9" height="0.9" opacity="0.1"/><rect x="661.6" y="193.4" width="0.9" height="0.9" opacity="0.2"/><rect x="661.6" y="194.4" width="0.9" height="0.9" opacity="0.1"/><rect x="662.6" y="180.4" width="0.9" height="0.9" opacity="0.3"/><rect x="662.6" y="181.4" width="0.9" height="0.9" opacity="0.3"/><rect x="662.6" y="186.4" width="0.9" height="0.9" opacity="0.2"/><rect x="662.6" y="187.4" width="0.9" height="0.9" opacity="0.3"/><rect x="662.6" y="188.4" width="0.9" height="0.9" opacity="0.1"/><rect x="662.6" y="189.4" width="0.9" height="0.9" opacity="0.1"/><rect x="662.6" y="192.4" width="0.9" height="0.9" opacity="0.3"/><rect x="662.6" y="193.4" width="0.9" height="0.9" opacity="0.2"/><rect x="662.6" y="194.4" width="0.9" height="0.9" opacity="0.3"/><rect x="663.6" y="179.4" width="0.9" height="0.9" opacity="0.2"/><rect x="663.6" y="180.4" width="0.9" height="0.9" opacity="0.1"/><rect x="663.6" y="181.4" width="0.9" height="0.9" opacity="0.3"/><rect x="663.6" y="182.4" width="0.9" height="0.9" opacity="0.1"/><rect x="663.6" y="184.4" width="0.9" height="0.9" opacity="0.2"/><rect x="663.6" y="187.4" width="0.9" height="0.9" opacity="0.1"/><rect x="663.6" y="188.4" width="0.9" height="0.9" opacity="0.2"/><rect x="664.6" y="181.4" width="0.9" height="0.9" opacity="0.2"/><rect x="664.6" y="182.4" width="0.9" height="0.9" opacity="0.3"/><rect x="664.6" y="183.4" width="0.9" height="0.9" opacity="0.2"/><rect x="664.6" y="185.4" width="0.9" height="0.9" opacity="0.1"/><rect x="664.6" y="186.4" width="0.9" height="0.9" opacity="0.2"/><rect x="664.6" y="189.4" width="0.9" height="0.9" opacity="0.1"/><rect x="664.6" y="190.4" width="0.9" height="0.9" opacity="0.2"/><rect x="664.6" y="191.4" width="0.9" height="0.9" opacity="0.2"/><rect x="664.6" y="192.4" width="0.9" height="0.9" opacity="0.3"/><rect x="664.6" y="194.4" width="0.9" height="0.9" opacity="0.3"/><rect x="665.6" y="179.4" width="0.9" height="0.9" opacity="0.2"/><rect x="665.6" y="184.4" width="0.9" height="0.9" opacity="0.2"/><rect x="665.6" y="185.4" width="0.9" height="0.9" opacity="0.1"/><rect x="665.6" y="187.4" width="0.9" height="0.9" opacity="0.3"/><rect x="665.6" y="188.4" width="0.9" height="0.9" opacity="0.3"/><rect x="665.6" y="189.4" width="0.9" height="0.9" opacity="0.1"/><rect x="665.6" y="191.4" width="0.9" height="0.9" opacity="0.2"/><rect x="665.6" y="192.4" width="0.9" height="0.9" opacity="0.1"/><rect x="665.6" y="194.4" width="0.9" height="0.9" opacity="0.1"/></g><g stroke="#333" stroke-width="0.9" opacity="0.5" fill="none" stroke-dasharray="1.6 0.9"><line x1="652.5" y1="189" x2="662.5" y2="179"/><line x1="658.5" y1="195" x2="668.5" y2="185"/><line x1="654" y1="184.5" x2="663" y2="193.5"/><line x1="658" y1="180.5" x2="667" y2="189.5"/></g><circle cx="658.9" cy="185.6" r="1.7" fill="#222" opacity="0.5"/><circle cx="663.2" cy="185.6" r="1.7" fill="#222" opacity="0.5"/><circle cx="658.2" cy="190.4" r="1.7" fill="#222" opacity="0.5"/><circle cx="662.4" cy="190.4" r="1.7" fill="#222" opacity="0.5"/><path stroke="#555" stroke-width="0.75" fill="none" d="M397.7 400.4L402.1 404.8M397.7 404.8L402.1 400.4"/><path stroke="#555" stroke-width="0.75" fill="none" d="M470.1 325.7L474.5 330.1M470.1 330.1L474.5 325.7"/><path fill="#3f9bd1" d="M526.7 247.2L531.2 251.8L531.9 251.1L532.7 255.6L528.3 254.6L529 253.9L524.5 249.2Z"/><path fill="#3f9bd1" d="M556.5 247.1L561.2 251.9L562 251.2L562.9 255.6L558.4 254.7L559.1 254L554.3 249.3Z"/><path fill="#3f9bd1" d="M569.4 247.1L574.4 251.9L575.1 251.2L576.1 255.6L571.6 254.8L572.3 254L567.4 249.3Z"/><g stroke="#6cbf6c" stroke-width="0.9"><line x1="533.1" y1="256.2" x2="536.6" y2="259.5"/><line x1="563.1" y1="256.2" x2="566.6" y2="259.5"/><line x1="576.3" y1="255.9" x2="579.4" y2="259.3"/></g><g fill="#777"><rect x="536" y="256" width="0.9" height="0.9"/><rect x="533" y="259.2" width="0.9" height="0.9"/><rect x="566" y="256" width="0.9" height="0.9"/><rect x="562.5" y="259.2" width="0.9" height="0.9"/></g><path fill="#7dcfb4" d="M328.2 474.2H574.1L575.8 477L574.1 479.8H328.2Z"/><path fill="#7dcfb4" d="M590.6 474.2H683L684.5 477L683 479.8H590.6Z"/><rect x="533" y="481.4" width="34.2" height="6.2" fill="#e183c0"/><text x="437.1" y="487.8" font-size="10" font-style="italic" text-anchor="middle" fill="#222">vps9c</text><text x="639.1" y="487.8" font-size="10" font-style="italic" text-anchor="middle" fill="#222">panx3-like</text><text x="40.9" y="521.2" font-size="14" font-weight="bold" fill="#111">E</text><g stroke="#111" stroke-width="1.6" stroke-dasharray="6.7 7" fill="none"><line x1="533" y1="487.6" x2="40.7" y2="532"/><line x1="567.2" y1="487.6" x2="649.4" y2="532"/><line x1="40.7" y1="549.6" x2="392.1" y2="599.8"/><line x1="649.4" y1="549.6" x2="424" y2="599.8"/></g><rect x="40.7" y="532" width="59.4" height="18" fill="#f98b66"/><rect x="100.1" y="532" width="70.5" height="18" fill="#7dcfb4"/><rect x="170.6" y="532" width="121.6" height="18" fill="#f98b66"/><rect x="292.2" y="532" width="294.9" height="18" fill="#7dcfb4"/><rect x="587.1" y="532" width="62.3" height="18" fill="#f98b66"/><path fill="#8a95c2" d="M352.2 532L345 541L352.2 550Z"/><path fill="#8a95c2" d="M426.4 532L409.3 541L426.4 550Z"/><path fill="#8a95c2" d="M515.3 532L496 541L515.3 550Z"/><text x="350.3" y="522.8" font-size="8.7" text-anchor="middle" fill="#222">cds</text><text x="350.3" y="530.4" font-size="8.5" text-anchor="middle" fill="#222">03</text><text x="422.3" y="522.8" font-size="8.7" text-anchor="middle" fill="#222">cds</text><text x="422.3" y="530.4" font-size="8.5" text-anchor="middle" fill="#222">02</text><text x="509.7" y="522.8" font-size="8.7" text-anchor="middle" fill="#222">cds</text><text x="509.7" y="530.4" font-size="8.5" text-anchor="middle" fill="#222">01</text><text x="70.9" y="545.6" font-size="9.7" text-anchor="middle" fill="#222">DNA/Zator-1</text><text x="619.2" y="545.6" font-size="9.7" text-anchor="middle" fill="#222">DNA/Zator-1</text><text x="236.6" y="545.6" font-size="9.9" text-anchor="middle" fill="#222">DNA/hAT-hATw</text><text x="135.9" y="545.6" font-size="9.8" text-anchor="middle" fill="#222">Bb-b-<tspan font-style="italic">tesDwb</tspan></text><text x="463.9" y="545.6" font-size="9.8" text-anchor="middle" fill="#222">Bb-b-<tspan font-style="italic">tesDwb</tspan></text><text x="487.5" y="511.3" font-size="10.3" text-anchor="middle" fill="#222">Bb-b-hap2-SDR: 3,919,162-3,923,155 (chr13)</text><path fill="#4a9fd4" d="M41.4 550.4L44 554.8H42.9V560.8H39.9V554.8H38.8Z"/><text x="41.5" y="568.6" font-size="9.4" text-anchor="middle" fill="#222">TIR</text><path fill="#4a9fd4" d="M648.4 550.4L651 554.8H649.9V560.8H646.9V554.8H645.8Z"/><text x="648.6" y="568.6" font-size="9.4" text-anchor="middle" fill="#222">TIR</text><text x="118.2" y="594.8" font-size="14" font-weight="bold" fill="#111">F</text><rect x="123.3" y="599.9" width="3" height="10.6" fill="#a9a9a9"/><rect x="126" y="603.7" width="257.5" height="3" fill="#111"/><rect x="133.8" y="599.9" width="1.4" height="10.6" fill="#8294c8"/><rect x="159" y="599.9" width="1.4" height="10.6" fill="#8294c8"/><rect x="165.5" y="599.9" width="1.4" height="10.6" fill="#8294c8"/><rect x="171.2" y="599.9" width="1.4" height="10.6" fill="#8294c8"/><rect x="195.1" y="599.9" width="1.4" height="10.6" fill="#8294c8"/><rect x="218" y="599.9" width="1.4" height="10.6" fill="#8294c8"/><rect x="227.2" y="599.9" width="1.4" height="10.6" fill="#8294c8"/><rect x="234" y="599.9" width="1.4" height="10.6" fill="#8294c8"/><rect x="301.2" y="599.9" width="1.4" height="10.6" fill="#8294c8"/><rect x="310.4" y="599.9" width="1.4" height="10.6" fill="#8294c8"/><rect x="320.2" y="599.9" width="1.4" height="10.6" fill="#8294c8"/><rect x="326.8" y="599.9" width="1.4" height="10.6" fill="#8294c8"/><rect x="337" y="599.9" width="1.4" height="10.6" fill="#8294c8"/><rect x="345" y="599.9" width="1.4" height="10.6" fill="#8294c8"/><rect x="354.4" y="599.9" width="17.5" height="10.6" fill="#8294c8"/><rect x="383.3" y="599.9" width="2.2" height="10.6" fill="#8294c8"/><rect x="385.5" y="599.9" width="58" height="10.6" fill="#a9a9a9"/><path fill="#a9a9a9" d="M443.5 590L452.8 605.2L443.5 620.4Z"/><rect x="392.1" y="599.9" width="3.2" height="10.6" fill="#f98b66"/><rect x="395.3" y="599.9" width="3.7" height="10.6" fill="#7dcfb4"/><rect x="399" y="599.9" width="6.8" height="10.6" fill="#f98b66"/><rect x="405.8" y="599.9" width="13.9" height="10.6" fill="#7dcfb4"/><rect x="419.7" y="599.9" width="4.1" height="10.6" fill="#f98b66"/><rect x="406.2" y="599.9" width="0.9" height="10.6" fill="#8294c8"/><rect x="408.6" y="599.9" width="0.9" height="10.6" fill="#8294c8"/><rect x="411.8" y="599.9" width="0.9" height="10.6" fill="#8294c8"/><rect x="415.4" y="599.9" width="0.9" height="10.6" fill="#8294c8"/><rect x="418.7" y="599.9" width="0.9" height="10.6" fill="#8294c8"/><text x="440.1" y="607.8" font-size="6.9" text-anchor="middle" fill="#333">UTR</text><rect x="452.8" y="604.7" width="20.8" height="1.1" fill="#222"/><rect x="473.6" y="599.9" width="3.7" height="10.6" fill="#a9a9a9"/><rect x="476.1" y="599.9" width="1.2" height="10.6" fill="#8294c8"/><rect x="477.3" y="603.7" width="108" height="3" fill="#111"/><rect x="585.3" y="599.9" width="5.7" height="10.6" fill="#8294c8"/><path fill="#a9a9a9" d="M591 590.4L600.7 605.2L591 620Z"/><rect x="123.3" y="640" width="3" height="10.6" fill="#a9a9a9"/><rect x="126" y="643.8" width="257.5" height="3" fill="#111"/><rect x="133.8" y="640" width="1.4" height="10.6" fill="#8294c8"/><rect x="159" y="640" width="1.4" height="10.6" fill="#8294c8"/><rect x="165.5" y="640" width="1.4" height="10.6" fill="#8294c8"/><rect x="171.2" y="640" width="1.4" height="10.6" fill="#8294c8"/><rect x="195.1" y="640" width="1.4" height="10.6" fill="#8294c8"/><rect x="218" y="640" width="1.4" height="10.6" fill="#8294c8"/><rect x="227.2" y="640" width="1.4" height="10.6" fill="#8294c8"/><rect x="234" y="640" width="1.4" height="10.6" fill="#8294c8"/><rect x="301.2" y="640" width="1.4" height="10.6" fill="#8294c8"/><rect x="310.4" y="640" width="1.4" height="10.6" fill="#8294c8"/><rect x="320.2" y="640" width="1.4" height="10.6" fill="#8294c8"/><rect x="326.8" y="640" width="1.4" height="10.6" fill="#8294c8"/><rect x="337" y="640" width="1.4" height="10.6" fill="#8294c8"/><rect x="345" y="640" width="1.4" height="10.6" fill="#8294c8"/><rect x="354.4" y="640" width="17.5" height="10.6" fill="#8294c8"/><rect x="383.3" y="640" width="2.2" height="10.6" fill="#8294c8"/><rect x="385.5" y="640" width="24.3" height="10.6" fill="#a9a9a9"/><path fill="#a9a9a9" d="M409.8 630.3L419.7 645.3L409.8 660.3Z"/><text x="400.7" y="647.9" font-size="6.9" text-anchor="middle" fill="#333">UTR</text><rect x="419.7" y="644.8" width="21.4" height="1.1" fill="#222"/><rect x="441.1" y="640" width="3.7" height="10.6" fill="#a9a9a9"/><rect x="441.1" y="640" width="1.2" height="10.6" fill="#8294c8"/><rect x="444.8" y="643.8" width="107.5" height="3" fill="#111"/><rect x="552.3" y="640" width="6.2" height="10.6" fill="#8294c8"/><path fill="#a9a9a9" d="M558.5 630.4L568.6 645.3L558.5 660.2Z"/><g stroke="#111" stroke-width="1.6" fill="none"><line x1="392.1" y1="611.2" x2="392.1" y2="628.7" stroke-dasharray="2.6 6.5 8.4 30"/><line x1="424.5" y1="610.8" x2="395" y2="636.2" stroke-dasharray="3 4.5 6.5 4.5 6.5 4.5 6.5 4.5 6.5 4.5"/></g><path fill="#111" d="M391.8 639.2L393.2 634.6L396.6 637.6Z"/><text x="228" y="630.2" font-size="10" font-style="italic" text-anchor="middle" fill="#222">vps9c</text><text x="512.6" y="629.8" font-size="10" font-style="italic" text-anchor="middle" fill="#222">panx3-like</text><text x="42.9" y="667.4" font-size="14" font-weight="bold" fill="#111">G</text><text x="44.6" y="681.4" font-size="9.95" fill="#222">Bb-b-hap2-chr13: 3,919,162 bp</text><text x="428.8" y="681.5" font-size="9.95" fill="#222">Bb-b-hap2-chr13: 3,923,155 bp</text><text x="321" y="690.4" font-size="10.4" text-anchor="middle" fill="#222">Bb-b-hap2-SDR</text><g stroke="#111" stroke-width="1.3"><line x1="136" y1="687.6" x2="282.5" y2="687.6"/><line x1="357.4" y1="687.6" x2="498" y2="687.6"/><line x1="132.4" y1="683" x2="132.4" y2="695.5" stroke-width="1.6"/><line x1="502.8" y1="683.5" x2="502.8" y2="696" stroke-width="1.6"/></g><path fill="#111" d="M133.2 687.6L139.5 684.6V690.6Z"/><path fill="#111" d="M502 687.6L495.7 684.6V690.6Z"/><text x="11.10 16.16 21.21 26.27 31.33 36.39 41.44 46.50 51.56 56.61 61.67 66.73 71.78 76.84 81.90 86.95 92.01 97.07 102.13 107.18 112.24 117.30 122.35 127.41 132.47 137.53 142.58 147.64 152.70 157.75 162.81 167.87 172.92 177.98 183.04 188.09 193.15 198.21 203.27 208.32 213.38 218.44 223.49 228.55 233.61 238.67 243.72 248.78 253.84 258.89 263.95 269.01 274.06 279.12 284.18 289.24 294.29 299.35 304.41 309.46 314.52 319.58 324.63 329.69 334.75 339.81 344.86 349.92 354.98 360.03 365.09 370.15 375.20 380.26 385.32 390.38 395.43 400.49 405.55 410.60 415.66 420.72 425.77 430.83 435.89 440.95 446.00 451.06 456.12 461.17 466.23 471.29 476.34 481.40 486.46 491.52 496.57 501.63 506.69 511.74 516.80 521.86 526.91 531.97 537.03 542.09 547.14 552.20 557.26 562.31 567.37 572.43 577.48 582.54 587.60 592.66 597.71 602.77 607.83 612.88 617.94 623.00 628.05 633.11 638.17 643.23 648.28 653.34 658.40 663.45 668.51 673.57" y="701.2" font-size="5.6" text-anchor="middle" fill="#222">TTTCTGATGTCTACCTACACCTAAGGCCATGTTGATTTGATTATATGGATGACATCC––––––––GGATGTCATCCATATAATCAAATCAACATGGCCTAACCTGCACTTGTCCATGTACTGGGTATATGCA</text><text x="11.10 16.16 21.21 26.27 31.33 36.39 41.44 46.50 51.56 56.61 61.67 66.73 71.78 76.84 81.90 86.95 92.01 97.07 102.13 107.18 112.24 117.30 122.35 127.41 132.47 137.53 142.58 147.64 152.70 157.75 162.81 167.87 172.92 177.98 183.04 188.09 193.15 198.21 203.27 208.32 213.38 218.44 223.49 228.55 233.61 238.67 243.72 248.78 253.84 258.89 263.95 269.01 274.06 279.12 284.18 289.24 294.29 299.35 304.41 309.46 314.52 319.58 324.63 329.69 334.75 339.81 344.86 349.92 354.98 360.03 365.09 370.15 375.20 380.26 385.32 390.38 395.43 400.49 405.55 410.60 415.66 420.72 425.77 430.83 435.89 440.95 446.00 451.06 456.12 461.17 466.23 471.29 476.34 481.40 486.46 491.52 496.57 501.63 506.69 511.74 516.80 521.86 526.91 531.97 537.03 542.09 547.14 552.20 557.26 562.31 567.37 572.43 577.48 582.54 587.60 592.66 597.71 602.77 607.83 612.88 617.94 623.00 628.05 633.11 638.17 643.23 648.28 653.34 658.40 663.45 668.51 673.57" y="714.4" font-size="5.6" text-anchor="middle" fill="#222">TTTCTGATGTCTACCTGCACCTAA–––––––––––––––––––––––––––––––––––––––––––––––––––––––––––––––––––––––––––––CCTGCACTGGGCCATGTACTGGGTTTATACA</text><g fill="none" stroke-width="0.9" stroke-dasharray="1.6 1.2"><rect x="114" y="691.9" width="16.8" height="25.5" stroke="#e05a5a"/><rect x="503.9" y="692.3" width="16" height="24.6" stroke="#e05a5a"/><rect x="130.8" y="691.9" width="167.3" height="24.8" stroke="#6ab4e4"/><rect x="336.9" y="692.1" width="165.9" height="24.8" stroke="#6ab4e4"/></g><text x="123.4" y="726.6" font-size="9.6" text-anchor="middle" fill="#222">TSD</text><text x="511.4" y="726.4" font-size="9.6" text-anchor="middle" fill="#222">TSD</text><text x="212.7" y="727" font-size="9.85" text-anchor="middle" fill="#222">Identical TIR</text><text x="212.7" y="738.1" font-size="9.85" text-anchor="middle" fill="#222">Zator-1</text><text x="425" y="727" font-size="9.85" text-anchor="middle" fill="#222">Identical TIR</text><text x="425" y="738.1" font-size="9.85" text-anchor="middle" fill="#222">Zator-1</text></svg>
</body></html>
